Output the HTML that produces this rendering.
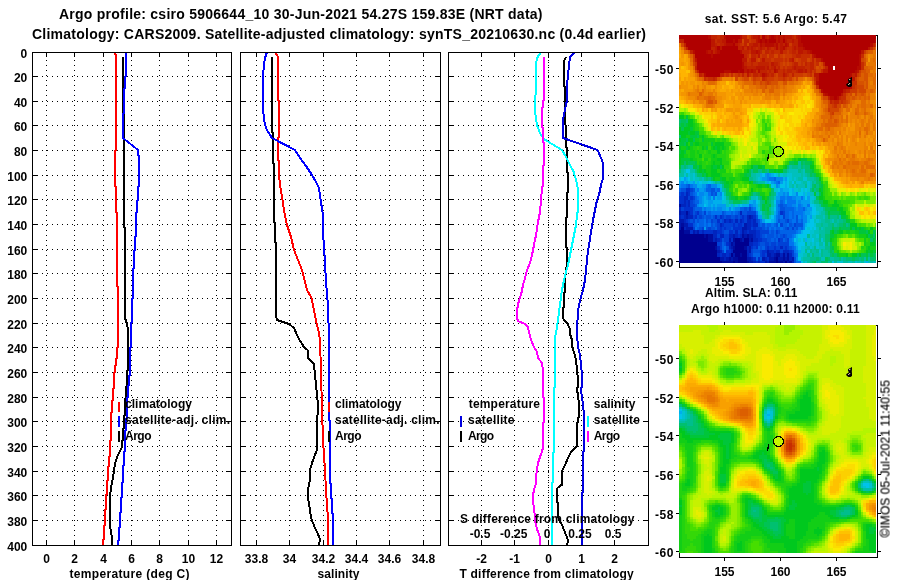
<!DOCTYPE html>
<html><head><meta charset="utf-8"><title>Argo profile</title>
<style>html,body{margin:0;padding:0;background:#fff}svg{display:block}text{font-family:"Liberation Sans",sans-serif;font-weight:bold;font-size:12px;fill:#000}</style></head><body>
<svg width="900" height="580" viewBox="0 0 900 580">
<rect width="900" height="580" fill="#fff"/>
<g stroke="#000" stroke-width="1" stroke-dasharray="1 4" shape-rendering="crispEdges" fill="none"><path d="M32 76.5H232"/><path d="M32 101.5H232"/><path d="M32 125.5H232"/><path d="M32 150.5H232"/><path d="M32 175.5H232"/><path d="M32 199.5H232"/><path d="M32 224.5H232"/><path d="M32 249.5H232"/><path d="M32 273.5H232"/><path d="M32 298.5H232"/><path d="M32 323.5H232"/><path d="M32 347.5H232"/><path d="M32 372.5H232"/><path d="M32 397.5H232"/><path d="M32 421.5H232"/><path d="M32 446.5H232"/><path d="M32 471.5H232"/><path d="M32 495.5H232"/><path d="M32 520.5H232"/><path d="M46.5 546V52"/><path d="M74.5 546V52"/><path d="M103.5 546V52"/><path d="M131.5 546V52"/><path d="M159.5 546V52"/><path d="M188.5 546V52"/><path d="M216.5 546V52"/></g><g stroke="#000" stroke-width="1" shape-rendering="crispEdges" fill="none"><rect x="32.5" y="52.5" width="199" height="493"/><path d="M32 76.5h6M232 76.5h-6M32 101.5h6M232 101.5h-6M32 125.5h6M232 125.5h-6M32 150.5h6M232 150.5h-6M32 175.5h6M232 175.5h-6M32 199.5h6M232 199.5h-6M32 224.5h6M232 224.5h-6M32 249.5h6M232 249.5h-6M32 273.5h6M232 273.5h-6M32 298.5h6M232 298.5h-6M32 323.5h6M232 323.5h-6M32 347.5h6M232 347.5h-6M32 372.5h6M232 372.5h-6M32 397.5h6M232 397.5h-6M32 421.5h6M232 421.5h-6M32 446.5h6M232 446.5h-6M32 471.5h6M232 471.5h-6M32 495.5h6M232 495.5h-6M32 520.5h6M232 520.5h-6M46.5 52v5M46.5 546v-5M74.5 52v5M74.5 546v-5M103.5 52v5M103.5 546v-5M131.5 52v5M131.5 546v-5M159.5 52v5M159.5 546v-5M188.5 52v5M188.5 546v-5M216.5 52v5M216.5 546v-5"/></g>
<g stroke="#000" stroke-width="1" stroke-dasharray="1 4" shape-rendering="crispEdges" fill="none"><path d="M240 76.5H441"/><path d="M240 101.5H441"/><path d="M240 125.5H441"/><path d="M240 150.5H441"/><path d="M240 175.5H441"/><path d="M240 199.5H441"/><path d="M240 224.5H441"/><path d="M240 249.5H441"/><path d="M240 273.5H441"/><path d="M240 298.5H441"/><path d="M240 323.5H441"/><path d="M240 347.5H441"/><path d="M240 372.5H441"/><path d="M240 397.5H441"/><path d="M240 421.5H441"/><path d="M240 446.5H441"/><path d="M240 471.5H441"/><path d="M240 495.5H441"/><path d="M240 520.5H441"/><path d="M256.5 546V52"/><path d="M289.5 546V52"/><path d="M323.5 546V52"/><path d="M356.5 546V52"/><path d="M389.5 546V52"/><path d="M423.5 546V52"/></g><g stroke="#000" stroke-width="1" shape-rendering="crispEdges" fill="none"><rect x="240.5" y="52.5" width="200" height="493"/><path d="M240 76.5h6M441 76.5h-6M240 101.5h6M441 101.5h-6M240 125.5h6M441 125.5h-6M240 150.5h6M441 150.5h-6M240 175.5h6M441 175.5h-6M240 199.5h6M441 199.5h-6M240 224.5h6M441 224.5h-6M240 249.5h6M441 249.5h-6M240 273.5h6M441 273.5h-6M240 298.5h6M441 298.5h-6M240 323.5h6M441 323.5h-6M240 347.5h6M441 347.5h-6M240 372.5h6M441 372.5h-6M240 397.5h6M441 397.5h-6M240 421.5h6M441 421.5h-6M240 446.5h6M441 446.5h-6M240 471.5h6M441 471.5h-6M240 495.5h6M441 495.5h-6M240 520.5h6M441 520.5h-6M256.5 52v5M256.5 546v-5M289.5 52v5M289.5 546v-5M323.5 52v5M323.5 546v-5M356.5 52v5M356.5 546v-5M389.5 52v5M389.5 546v-5M423.5 52v5M423.5 546v-5"/></g>
<g stroke="#000" stroke-width="1" stroke-dasharray="1 4" shape-rendering="crispEdges" fill="none"><path d="M448 76.5H649"/><path d="M448 101.5H649"/><path d="M448 125.5H649"/><path d="M448 150.5H649"/><path d="M448 175.5H649"/><path d="M448 199.5H649"/><path d="M448 224.5H649"/><path d="M448 249.5H649"/><path d="M448 273.5H649"/><path d="M448 298.5H649"/><path d="M448 323.5H649"/><path d="M448 347.5H649"/><path d="M448 372.5H649"/><path d="M448 397.5H649"/><path d="M448 421.5H649"/><path d="M448 446.5H649"/><path d="M448 471.5H649"/><path d="M448 495.5H649"/><path d="M448 520.5H649"/><path d="M481.5 546V52"/><path d="M514.5 546V52"/><path d="M548.5 546V52"/><path d="M581.5 546V52"/><path d="M614.5 546V52"/></g><g stroke="#000" stroke-width="1" shape-rendering="crispEdges" fill="none"><rect x="448.5" y="52.5" width="200" height="493"/><path d="M448 76.5h6M649 76.5h-6M448 101.5h6M649 101.5h-6M448 125.5h6M649 125.5h-6M448 150.5h6M649 150.5h-6M448 175.5h6M649 175.5h-6M448 199.5h6M649 199.5h-6M448 224.5h6M649 224.5h-6M448 249.5h6M649 249.5h-6M448 273.5h6M649 273.5h-6M448 298.5h6M649 298.5h-6M448 323.5h6M649 323.5h-6M448 347.5h6M649 347.5h-6M448 372.5h6M649 372.5h-6M448 397.5h6M649 397.5h-6M448 421.5h6M649 421.5h-6M448 446.5h6M649 446.5h-6M448 471.5h6M649 471.5h-6M448 495.5h6M649 495.5h-6M448 520.5h6M649 520.5h-6M481.5 52v5M481.5 546v-5M514.5 52v5M514.5 546v-5M548.5 52v5M548.5 546v-5M581.5 52v5M581.5 546v-5M614.5 52v5M614.5 546v-5"/></g>
<path d="M123 57 123 113 124 114 124 227 125 228 125 318 127 324 128 330 128 330 128 370 127 371 127 386 126 387 126 398 125 399 125 415 124 416 124 428 123 429 123 440 122 441 122 447 117 457 115 464 114 470 113 478 111 487 110 497 109.5 505 109.5 525 110.5 529 111.5 535 112.5 540 112 546" stroke="#000" stroke-width="2" fill="none" shape-rendering="crispEdges" stroke-linejoin="miter"/>
<path d="M115 52 115 54 116 55 116 150 115 151 115 186 116 187 116 212 117 213 117 286 118 287 118 347 117 348 117 358 116 359 116 365 115 366 115 372 114 373 114 388 113 389 113 400 112 401 112 412 111 413 111 440 110 441 110 456 109 457 109 466 108 467 108 480 107 481 107 494 106 495 106 509 105 510 105 525 104 526 104 539 103 540 103 546" stroke="#ff0000" stroke-width="2" fill="none" shape-rendering="crispEdges" stroke-linejoin="miter"/>
<path d="M126 52 126 76 125 77 125 88 124 89 124 113 123 114 123 138 138 150 138 150 138 155 139 156 139 186 138 187 138 200 137 201 137 212 136 213 136 236 135 237 135 250 134 251 134 268 133 269 133 298 132 299 132 322 131 323 131 347 130 348 130 375 129 376 129 385 128 386 128 397 127 398 127 418 126 419 126 430 125 431 125 451 124 452 124 465 123 466 123 482 122 483 122 497 121 498 121 512 120 513 120 527 119 528 119 540 118 541 118 546" stroke="#0000ff" stroke-width="2" fill="none" shape-rendering="crispEdges" stroke-linejoin="miter"/>
<path d="M272 57 272 132 273 133 273 163 274 164 274 222 275 223 275 242 276 243 276 315 277 320 289 324 294 328 296.5 334 299.5 340 304 347 307.5 350 308 358 314 364 315 375 316.5 390 317.5 400 317.5 415 316.5 425 317 435 317 450 314.5 456 312 463 310 470 310 480 308.5 487 307.5 492 307.5 497 309 503 310 510 311 518 313 523 315 528 317.5 533 319.5 538 319.5 542 319 546" stroke="#000" stroke-width="2" fill="none" shape-rendering="crispEdges" stroke-linejoin="miter"/>
<path d="M275 52 278 57 278 100 279 101 279 137 278 138 278 160 279 161 279 175 280 185 281 191 282.5 200 284 210 287 225 291 237 294 250 298 260 302 270 304 278 307 290 311.5 298 314 310 316.5 323 319 333 320 340 321 372 322 410 323 440 324 455 325 470 326 490 327 505 328 518 328 546" stroke="#ff0000" stroke-width="2" fill="none" shape-rendering="crispEdges" stroke-linejoin="miter"/>
<path d="M267 52 265 58 264 65 263 75 263 110 264 118 265 125 267 130 270 135 272 138 295 150 300 158 306 166 312 175 316 182 319 188 320 195 321 202 322.5 212 323 225 323 235 324 245 325 265 326 280 327 295 328 305 328 320 329 326 329 420 330 421 330 483 331 484 331 498 332 499 332 513 333 514 333 546" stroke="#0000ff" stroke-width="2" fill="none" shape-rendering="crispEdges" stroke-linejoin="miter"/>
<path d="M548.5 52V546" stroke="#000" stroke-width="1" stroke-dasharray="1 4" shape-rendering="crispEdges"/>
<path d="M566 57 564.5 60 564 65 564 83 565 90 565 108 564.5 112 565 120 566 130 566 145 567 150 567 170 568 175 568 190 567 195 567 215 566 220 566 245 567 250 567 265 566 270 565 280 565 290 564 295 564 305 563 310 563 318 564 320 567.5 324 569.5 328 570 334 572 340 572 347 574 352 576 360 577 370 578 380 578 385 577 390 578 395 579 405 579 415 578 420 577 425 577 446 571 452 568 458 565 465 562.5 470 561.5 480 561.5 485 557.5 488 557 493 557 500 558 505 558 515 559 520 562 525 564 530 566 535 568 540 567 546" stroke="#000" stroke-width="2" fill="none" shape-rendering="crispEdges" stroke-linejoin="miter"/>
<path d="M575 52 570 57 569 65 568 75 567 85 567 100 566 105 564.5 112 563 120 563 138 597.5 150 601 158 603 163 603 178 601 185 599 195 597 200 595 210 593 220 591 232 589 245 587.5 255 586 270 585 280 583 290 581 297 579 305 578 312 577.5 320 577 334 578 347 580 355 581 365 582 375 582 385 581 390 582 397 583 405 584 415 584 450 583 453 583 490 582 495 582 546" stroke="#0000e0" stroke-width="2" fill="none" shape-rendering="crispEdges" stroke-linejoin="miter"/>
<path d="M541 52 537 58 536 65 536 90 535 100 535 110 535.5 115 537 125 540 133 543.75 139 562 150 566 157 570 165 573.75 172 576 180 577.5 187 578 195 578 210 577 215 576 225 574 235 572 245 570 255 568 265 566 272 564 280 562 290 561 297 560 305 559 312 558 320 557 327 556 333 555 337 555 385 554 390 554 450 553 455 553 480 552 485 552 546" stroke="#00ffff" stroke-width="2" fill="none" shape-rendering="crispEdges" stroke-linejoin="miter"/>
<path d="M544 57 544 100 543 101 543 107 542 108 542 127 543 128 543 142 544 143 544 165 543 166 543 185 542 188 541 200 540 212 538 222 536 235 534 245 532 255 530 263 527 270 525 278 523 285 521 295 519 300 517 310 517 318 518 321 525 324 528 327 529 332 531 340 534 347 537 352 538 358 542 363 543 370 543 395 544 400 544 420 543 425 543 447 542 452 540 457 538 463 537 470 536 477 535.5 485 534 490 533 495 533.5 505 534.5 513 535 520 536.5 527 538 532 540 537 540.5 546" stroke="#ff00ff" stroke-width="2" fill="none" shape-rendering="crispEdges" stroke-linejoin="miter"/>
<g stroke="#000" stroke-width="1" shape-rendering="crispEdges" fill="none">
<path d="M32 545.5H232M32 52.5H232"/>
<rect x="32" y="546" width="200" height="3" fill="#fff" stroke="none"/>
<rect x="32" y="49" width="200" height="3" fill="#fff" stroke="none"/>
<path d="M240 545.5H441M240 52.5H441"/>
<rect x="240" y="546" width="201" height="3" fill="#fff" stroke="none"/>
<rect x="240" y="49" width="201" height="3" fill="#fff" stroke="none"/>
<path d="M448 545.5H649M448 52.5H649"/>
<rect x="448" y="546" width="201" height="3" fill="#fff" stroke="none"/>
<rect x="448" y="49" width="201" height="3" fill="#fff" stroke="none"/>
</g>
<path d="M119 402V412" stroke="#ff0000" stroke-width="2" shape-rendering="crispEdges"/>
<path d="M119 416V427" stroke="#0000ff" stroke-width="2" shape-rendering="crispEdges"/>
<path d="M119 431V442" stroke="#000" stroke-width="2" shape-rendering="crispEdges"/>
<path d="M329 402V412" stroke="#ff0000" stroke-width="2" shape-rendering="crispEdges"/>
<path d="M329 431V442" stroke="#000" stroke-width="2" shape-rendering="crispEdges"/>
<path d="M461 416V427" stroke="#0000e0" stroke-width="2" shape-rendering="crispEdges"/>
<path d="M461 431V442" stroke="#000" stroke-width="2" shape-rendering="crispEdges"/>
<path d="M588 416V427" stroke="#00ffff" stroke-width="2" shape-rendering="crispEdges"/>
<path d="M588 431V442" stroke="#ff00ff" stroke-width="2" shape-rendering="crispEdges"/>
<g stroke="#000" stroke-width="1" fill="none" shape-rendering="crispEdges">
<rect x="679.5" y="35.5" width="198" height="232"/>
<path d="M724.5 35v-3M724.5 268v3M780.5 35v-3M780.5 268v3M836.5 35v-3M836.5 268v3M679 68.5h-3M878 68.5h3M679 107.5h-3M878 107.5h3M679 145.5h-3M878 145.5h3M679 184.5h-3M878 184.5h3M679 222.5h-3M878 222.5h3M679 261.5h-3M878 261.5h3"/></g>
<g shape-rendering="crispEdges">
<path fill="#00008f" d="M681.25 226.5h2.3v3.88H681.25zM679 230.33h4.55v3.88H679zM679 234.16h24.8v3.88H679zM706 234.16h2.3v3.88H706zM679 237.99h29.3v3.88H679zM735.25 237.99h4.55v3.88H735.25zM744.25 237.99h4.55v3.88H744.25zM679 241.82h38.3v3.88H679zM735.25 241.82h13.55v3.88H735.25zM679 245.65h36.05v3.88H679zM735.25 245.65h9.05v3.88H735.25zM679 249.48h38.3v3.88H679zM733 249.48h13.55v3.88H733zM679 253.31h38.3v3.88H679zM730.75 253.31h2.3v3.88H730.75zM735.25 253.31h4.55v3.88H735.25zM742 253.31h4.55v3.88H742zM679 257.14h40.55v3.88H679zM737.5 257.14h9.05v3.88H737.5zM775.75 257.14h2.3v3.88H775.75zM679 260.97h42.8v2.08H679zM733 260.97h2.3v2.08H733zM737.5 260.97h9.05v2.08H737.5zM775.75 260.97h2.3v2.08H775.75zM784.75 260.97h2.3v2.08H784.75z"/>
<path fill="#000c9e" d="M679 203.52h2.3v3.88H679zM685.75 211.18h2.3v3.88H685.75zM681.25 222.67h2.3v3.88H681.25zM683.5 230.33h6.8v3.88H683.5zM703.75 234.16h2.3v3.88H703.75zM708.25 234.16h4.55v3.88H708.25zM742 234.16h2.3v3.88H742zM746.5 234.16h2.3v3.88H746.5zM708.25 237.99h4.55v3.88H708.25zM733 237.99h2.3v3.88H733zM739.75 237.99h2.3v3.88H739.75zM751 237.99h2.3v3.88H751zM730.75 241.82h2.3v3.88H730.75zM715 245.65h2.3v3.88H715zM733 245.65h2.3v3.88H733zM744.25 245.65h2.3v3.88H744.25zM739.75 253.31h2.3v3.88H739.75zM775.75 253.31h4.55v3.88H775.75zM782.5 253.31h2.3v3.88H782.5zM787 253.31h2.3v3.88H787zM728.5 257.14h2.3v3.88H728.5zM733 257.14h4.55v3.88H733zM773.5 257.14h2.3v3.88H773.5zM782.5 257.14h2.3v3.88H782.5zM787 257.14h2.3v3.88H787zM721.75 260.97h11.3v2.08H721.75zM735.25 260.97h2.3v2.08H735.25zM746.5 260.97h2.3v2.08H746.5zM769 260.97h6.8v2.08H769zM778 260.97h4.55v2.08H778zM789.25 260.97h2.3v2.08H789.25z"/>
<path fill="#0018ae" d="M679 211.18h2.3v3.88H679zM685.75 215.01h2.3v3.88H685.75zM748.75 215.01h2.3v3.88H748.75zM679 218.84h4.55v3.88H679zM679 222.67h2.3v3.88H679zM683.5 222.67h4.55v3.88H683.5zM744.25 222.67h2.3v3.88H744.25zM679 226.5h2.3v3.88H679zM685.75 226.5h6.8v3.88H685.75zM742 226.5h4.55v3.88H742zM692.5 230.33h2.3v3.88H692.5zM697 230.33h2.3v3.88H697zM742 230.33h2.3v3.88H742zM733 234.16h2.3v3.88H733zM744.25 234.16h2.3v3.88H744.25zM748.75 234.16h4.55v3.88H748.75zM715 237.99h2.3v3.88H715zM728.5 237.99h2.3v3.88H728.5zM742 237.99h2.3v3.88H742zM748.75 237.99h2.3v3.88H748.75zM733 241.82h2.3v3.88H733zM730.75 245.65h2.3v3.88H730.75zM748.75 245.65h2.3v3.88H748.75zM717.25 249.48h2.3v3.88H717.25zM748.75 249.48h2.3v3.88H748.75zM766.75 249.48h2.3v3.88H766.75zM733 253.31h2.3v3.88H733zM766.75 253.31h4.55v3.88H766.75zM773.5 253.31h2.3v3.88H773.5zM719.5 257.14h4.55v3.88H719.5zM726.25 257.14h2.3v3.88H726.25zM730.75 257.14h2.3v3.88H730.75zM746.5 257.14h4.55v3.88H746.5zM762.25 257.14h2.3v3.88H762.25zM769 257.14h4.55v3.88H769zM778 257.14h4.55v3.88H778zM784.75 257.14h2.3v3.88H784.75zM791.5 257.14h2.3v3.88H791.5zM748.75 260.97h4.55v2.08H748.75zM764.5 260.97h2.3v2.08H764.5zM782.5 260.97h2.3v2.08H782.5zM787 260.97h2.3v2.08H787z"/>
<path fill="#0024be" d="M685.75 192.03h2.3v3.88H685.75zM683.5 195.86h4.55v3.88H683.5zM683.5 199.69h2.3v3.88H683.5zM688 199.69h2.3v3.88H688zM681.25 203.52h4.55v3.88H681.25zM688 203.52h2.3v3.88H688zM679 207.35h2.3v3.88H679zM681.25 211.18h4.55v3.88H681.25zM688 211.18h2.3v3.88H688zM739.75 211.18h2.3v3.88H739.75zM679 215.01h2.3v3.88H679zM683.5 215.01h2.3v3.88H683.5zM688 215.01h4.55v3.88H688zM746.5 215.01h2.3v3.88H746.5zM751 215.01h2.3v3.88H751zM683.5 218.84h2.3v3.88H683.5zM724 218.84h2.3v3.88H724zM728.5 218.84h2.3v3.88H728.5zM735.25 218.84h2.3v3.88H735.25zM739.75 218.84h2.3v3.88H739.75zM746.5 218.84h4.55v3.88H746.5zM753.25 218.84h2.3v3.88H753.25zM719.5 222.67h2.3v3.88H719.5zM746.5 222.67h4.55v3.88H746.5zM753.25 222.67h4.55v3.88H753.25zM683.5 226.5h2.3v3.88H683.5zM746.5 226.5h4.55v3.88H746.5zM694.75 230.33h2.3v3.88H694.75zM701.5 230.33h2.3v3.88H701.5zM712.75 230.33h4.55v3.88H712.75zM735.25 230.33h2.3v3.88H735.25zM744.25 230.33h2.3v3.88H744.25zM748.75 230.33h6.8v3.88H748.75zM712.75 234.16h4.55v3.88H712.75zM719.5 234.16h4.55v3.88H719.5zM728.5 234.16h4.55v3.88H728.5zM735.25 234.16h2.3v3.88H735.25zM739.75 234.16h2.3v3.88H739.75zM753.25 234.16h2.3v3.88H753.25zM712.75 237.99h2.3v3.88H712.75zM717.25 237.99h2.3v3.88H717.25zM753.25 237.99h4.55v3.88H753.25zM728.5 241.82h2.3v3.88H728.5zM748.75 241.82h4.55v3.88H748.75zM717.25 245.65h2.3v3.88H717.25zM728.5 245.65h2.3v3.88H728.5zM746.5 245.65h2.3v3.88H746.5zM780.25 245.65h2.3v3.88H780.25zM719.5 249.48h2.3v3.88H719.5zM730.75 249.48h2.3v3.88H730.75zM746.5 249.48h2.3v3.88H746.5zM769 249.48h4.55v3.88H769zM775.75 249.48h4.55v3.88H775.75zM782.5 249.48h6.8v3.88H782.5zM717.25 253.31h2.3v3.88H717.25zM721.75 253.31h4.55v3.88H721.75zM728.5 253.31h2.3v3.88H728.5zM746.5 253.31h2.3v3.88H746.5zM771.25 253.31h2.3v3.88H771.25zM780.25 253.31h2.3v3.88H780.25zM784.75 253.31h2.3v3.88H784.75zM789.25 253.31h2.3v3.88H789.25zM724 257.14h2.3v3.88H724zM751 257.14h2.3v3.88H751zM764.5 257.14h2.3v3.88H764.5zM789.25 257.14h2.3v3.88H789.25zM753.25 260.97h2.3v2.08H753.25zM757.75 260.97h2.3v2.08H757.75zM766.75 260.97h2.3v2.08H766.75zM791.5 260.97h2.3v2.08H791.5z"/>
<path fill="#0030cd" d="M685.75 188.2h4.55v3.88H685.75zM681.25 192.03h2.3v3.88H681.25zM688 192.03h2.3v3.88H688zM679 195.86h4.55v3.88H679zM690.25 195.86h2.3v3.88H690.25zM679 199.69h4.55v3.88H679zM685.75 199.69h2.3v3.88H685.75zM685.75 203.52h2.3v3.88H685.75zM683.5 207.35h9.05v3.88H683.5zM690.25 211.18h2.3v3.88H690.25zM697 211.18h2.3v3.88H697zM780.25 211.18h2.3v3.88H780.25zM681.25 215.01h2.3v3.88H681.25zM694.75 215.01h2.3v3.88H694.75zM715 215.01h2.3v3.88H715zM719.5 215.01h2.3v3.88H719.5zM742 215.01h2.3v3.88H742zM753.25 215.01h2.3v3.88H753.25zM685.75 218.84h2.3v3.88H685.75zM717.25 218.84h2.3v3.88H717.25zM726.25 218.84h2.3v3.88H726.25zM730.75 218.84h2.3v3.88H730.75zM742 218.84h2.3v3.88H742zM751 218.84h2.3v3.88H751zM688 222.67h4.55v3.88H688zM721.75 222.67h2.3v3.88H721.75zM733 222.67h2.3v3.88H733zM737.5 222.67h4.55v3.88H737.5zM751 222.67h2.3v3.88H751zM719.5 226.5h2.3v3.88H719.5zM724 226.5h2.3v3.88H724zM733 226.5h9.05v3.88H733zM753.25 226.5h2.3v3.88H753.25zM690.25 230.33h2.3v3.88H690.25zM699.25 230.33h2.3v3.88H699.25zM703.75 230.33h9.05v3.88H703.75zM717.25 230.33h4.55v3.88H717.25zM728.5 230.33h4.55v3.88H728.5zM739.75 230.33h2.3v3.88H739.75zM746.5 230.33h2.3v3.88H746.5zM755.5 230.33h4.55v3.88H755.5zM737.5 234.16h2.3v3.88H737.5zM755.5 234.16h4.55v3.88H755.5zM719.5 237.99h2.3v3.88H719.5zM730.75 237.99h2.3v3.88H730.75zM757.75 237.99h4.55v3.88H757.75zM778 237.99h2.3v3.88H778zM726.25 241.82h2.3v3.88H726.25zM753.25 241.82h4.55v3.88H753.25zM751 245.65h2.3v3.88H751zM755.5 245.65h2.3v3.88H755.5zM766.75 245.65h2.3v3.88H766.75zM773.5 245.65h2.3v3.88H773.5zM784.75 245.65h2.3v3.88H784.75zM726.25 249.48h4.55v3.88H726.25zM762.25 249.48h4.55v3.88H762.25zM773.5 249.48h2.3v3.88H773.5zM789.25 249.48h2.3v3.88H789.25zM719.5 253.31h2.3v3.88H719.5zM726.25 253.31h2.3v3.88H726.25zM748.75 253.31h2.3v3.88H748.75zM762.25 253.31h2.3v3.88H762.25zM753.25 257.14h2.3v3.88H753.25zM757.75 257.14h2.3v3.88H757.75zM766.75 257.14h2.3v3.88H766.75zM755.5 260.97h2.3v2.08H755.5zM760 260.97h4.55v2.08H760z"/>
<path fill="#0041d6" d="M690.25 188.2h2.3v3.88H690.25zM679 192.03h2.3v3.88H679zM683.5 192.03h2.3v3.88H683.5zM688 195.86h2.3v3.88H688zM692.5 195.86h2.3v3.88H692.5zM690.25 199.69h2.3v3.88H690.25zM690.25 203.52h4.55v3.88H690.25zM681.25 207.35h2.3v3.88H681.25zM748.75 207.35h2.3v3.88H748.75zM694.75 211.18h2.3v3.88H694.75zM703.75 211.18h2.3v3.88H703.75zM746.5 211.18h9.05v3.88H746.5zM782.5 211.18h2.3v3.88H782.5zM692.5 215.01h2.3v3.88H692.5zM699.25 215.01h2.3v3.88H699.25zM721.75 215.01h2.3v3.88H721.75zM726.25 215.01h4.55v3.88H726.25zM735.25 215.01h2.3v3.88H735.25zM739.75 215.01h2.3v3.88H739.75zM744.25 215.01h2.3v3.88H744.25zM782.5 215.01h2.3v3.88H782.5zM688 218.84h2.3v3.88H688zM692.5 218.84h2.3v3.88H692.5zM710.5 218.84h2.3v3.88H710.5zM721.75 218.84h2.3v3.88H721.75zM733 218.84h2.3v3.88H733zM737.5 218.84h2.3v3.88H737.5zM744.25 218.84h2.3v3.88H744.25zM755.5 218.84h2.3v3.88H755.5zM787 218.84h2.3v3.88H787zM717.25 222.67h2.3v3.88H717.25zM724 222.67h9.05v3.88H724zM735.25 222.67h2.3v3.88H735.25zM742 222.67h2.3v3.88H742zM780.25 222.67h2.3v3.88H780.25zM793.75 222.67h2.3v3.88H793.75zM692.5 226.5h2.3v3.88H692.5zM701.5 226.5h2.3v3.88H701.5zM708.25 226.5h2.3v3.88H708.25zM717.25 226.5h2.3v3.88H717.25zM721.75 226.5h2.3v3.88H721.75zM726.25 226.5h4.55v3.88H726.25zM751 226.5h2.3v3.88H751zM755.5 226.5h6.8v3.88H755.5zM787 226.5h2.3v3.88H787zM791.5 226.5h2.3v3.88H791.5zM721.75 230.33h2.3v3.88H721.75zM733 230.33h2.3v3.88H733zM737.5 230.33h2.3v3.88H737.5zM760 230.33h9.05v3.88H760zM775.75 230.33h2.3v3.88H775.75zM717.25 234.16h2.3v3.88H717.25zM724 234.16h4.55v3.88H724zM760 234.16h2.3v3.88H760zM782.5 234.16h2.3v3.88H782.5zM724 237.99h4.55v3.88H724zM762.25 237.99h4.55v3.88H762.25zM780.25 237.99h2.3v3.88H780.25zM787 237.99h2.3v3.88H787zM717.25 241.82h4.55v3.88H717.25zM757.75 241.82h2.3v3.88H757.75zM764.5 241.82h4.55v3.88H764.5zM771.25 241.82h4.55v3.88H771.25zM778 241.82h11.3v3.88H778zM719.5 245.65h2.3v3.88H719.5zM753.25 245.65h2.3v3.88H753.25zM764.5 245.65h2.3v3.88H764.5zM769 245.65h4.55v3.88H769zM775.75 245.65h4.55v3.88H775.75zM782.5 245.65h2.3v3.88H782.5zM787 245.65h2.3v3.88H787zM721.75 249.48h2.3v3.88H721.75zM751 249.48h2.3v3.88H751zM760 249.48h2.3v3.88H760zM780.25 249.48h2.3v3.88H780.25zM791.5 249.48h2.3v3.88H791.5zM751 253.31h2.3v3.88H751zM760 253.31h2.3v3.88H760zM764.5 253.31h2.3v3.88H764.5zM791.5 253.31h2.3v3.88H791.5z"/>
<path fill="#0052de" d="M688 184.37h2.3v3.88H688zM681.25 188.2h4.55v3.88H681.25zM692.5 188.2h2.3v3.88H692.5zM710.5 188.2h4.55v3.88H710.5zM690.25 192.03h2.3v3.88H690.25zM710.5 192.03h2.3v3.88H710.5zM715 192.03h2.3v3.88H715zM692.5 199.69h2.3v3.88H692.5zM694.75 203.52h2.3v3.88H694.75zM780.25 203.52h2.3v3.88H780.25zM692.5 207.35h2.3v3.88H692.5zM744.25 207.35h2.3v3.88H744.25zM780.25 207.35h4.55v3.88H780.25zM692.5 211.18h2.3v3.88H692.5zM699.25 211.18h2.3v3.88H699.25zM721.75 211.18h2.3v3.88H721.75zM737.5 211.18h2.3v3.88H737.5zM742 211.18h4.55v3.88H742zM697 215.01h2.3v3.88H697zM701.5 215.01h2.3v3.88H701.5zM706 215.01h4.55v3.88H706zM712.75 215.01h2.3v3.88H712.75zM717.25 215.01h2.3v3.88H717.25zM724 215.01h2.3v3.88H724zM730.75 215.01h4.55v3.88H730.75zM737.5 215.01h2.3v3.88H737.5zM755.5 215.01h2.3v3.88H755.5zM796 215.01h2.3v3.88H796zM690.25 218.84h2.3v3.88H690.25zM697 218.84h2.3v3.88H697zM706 218.84h2.3v3.88H706zM712.75 218.84h4.55v3.88H712.75zM719.5 218.84h2.3v3.88H719.5zM757.75 218.84h2.3v3.88H757.75zM778 218.84h2.3v3.88H778zM784.75 218.84h2.3v3.88H784.75zM796 218.84h2.3v3.88H796zM692.5 222.67h2.3v3.88H692.5zM710.5 222.67h2.3v3.88H710.5zM715 222.67h2.3v3.88H715zM757.75 222.67h2.3v3.88H757.75zM762.25 222.67h2.3v3.88H762.25zM775.75 222.67h2.3v3.88H775.75zM789.25 222.67h2.3v3.88H789.25zM796 222.67h6.8v3.88H796zM699.25 226.5h2.3v3.88H699.25zM706 226.5h2.3v3.88H706zM710.5 226.5h4.55v3.88H710.5zM730.75 226.5h2.3v3.88H730.75zM762.25 226.5h2.3v3.88H762.25zM766.75 226.5h2.3v3.88H766.75zM784.75 226.5h2.3v3.88H784.75zM796 226.5h2.3v3.88H796zM724 230.33h4.55v3.88H724zM771.25 230.33h2.3v3.88H771.25zM778 230.33h2.3v3.88H778zM762.25 234.16h2.3v3.88H762.25zM766.75 234.16h6.8v3.88H766.75zM775.75 234.16h2.3v3.88H775.75zM780.25 234.16h2.3v3.88H780.25zM784.75 234.16h2.3v3.88H784.75zM721.75 237.99h2.3v3.88H721.75zM766.75 237.99h4.55v3.88H766.75zM773.5 237.99h2.3v3.88H773.5zM784.75 237.99h2.3v3.88H784.75zM724 241.82h2.3v3.88H724zM760 241.82h4.55v3.88H760zM769 241.82h2.3v3.88H769zM775.75 241.82h2.3v3.88H775.75zM726.25 245.65h2.3v3.88H726.25zM760 245.65h2.3v3.88H760zM789.25 245.65h2.3v3.88H789.25zM753.25 249.48h6.8v3.88H753.25zM760 257.14h2.3v3.88H760zM793.75 257.14h2.3v3.88H793.75zM793.75 260.97h2.3v2.08H793.75z"/>
<path fill="#0062e7" d="M773.5 176.71h2.3v3.88H773.5zM778 180.54h2.3v3.88H778zM685.75 184.37h2.3v3.88H685.75zM708.25 184.37h2.3v3.88H708.25zM679 188.2h2.3v3.88H679zM706 188.2h4.55v3.88H706zM717.25 188.2h2.3v3.88H717.25zM692.5 192.03h2.3v3.88H692.5zM712.75 192.03h2.3v3.88H712.75zM694.75 195.86h2.3v3.88H694.75zM694.75 199.69h4.55v3.88H694.75zM780.25 199.69h2.3v3.88H780.25zM778 203.52h2.3v3.88H778zM782.5 203.52h4.55v3.88H782.5zM694.75 207.35h6.8v3.88H694.75zM739.75 207.35h4.55v3.88H739.75zM746.5 207.35h2.3v3.88H746.5zM751 207.35h2.3v3.88H751zM784.75 207.35h9.05v3.88H784.75zM802.75 207.35h2.3v3.88H802.75zM701.5 211.18h2.3v3.88H701.5zM708.25 211.18h2.3v3.88H708.25zM724 211.18h2.3v3.88H724zM730.75 211.18h2.3v3.88H730.75zM735.25 211.18h2.3v3.88H735.25zM778 211.18h2.3v3.88H778zM784.75 211.18h4.55v3.88H784.75zM791.5 211.18h2.3v3.88H791.5zM703.75 215.01h2.3v3.88H703.75zM710.5 215.01h2.3v3.88H710.5zM778 215.01h2.3v3.88H778zM784.75 215.01h4.55v3.88H784.75zM791.5 215.01h2.3v3.88H791.5zM694.75 218.84h2.3v3.88H694.75zM699.25 218.84h4.55v3.88H699.25zM708.25 218.84h2.3v3.88H708.25zM780.25 218.84h4.55v3.88H780.25zM789.25 218.84h2.3v3.88H789.25zM800.5 218.84h2.3v3.88H800.5zM694.75 222.67h2.3v3.88H694.75zM699.25 222.67h4.55v3.88H699.25zM706 222.67h2.3v3.88H706zM712.75 222.67h2.3v3.88H712.75zM760 222.67h2.3v3.88H760zM766.75 222.67h4.55v3.88H766.75zM773.5 222.67h2.3v3.88H773.5zM782.5 222.67h4.55v3.88H782.5zM791.5 222.67h2.3v3.88H791.5zM697 226.5h2.3v3.88H697zM715 226.5h2.3v3.88H715zM764.5 226.5h2.3v3.88H764.5zM771.25 226.5h2.3v3.88H771.25zM775.75 226.5h4.55v3.88H775.75zM782.5 226.5h2.3v3.88H782.5zM789.25 226.5h2.3v3.88H789.25zM793.75 226.5h2.3v3.88H793.75zM800.5 226.5h2.3v3.88H800.5zM769 230.33h2.3v3.88H769zM773.5 230.33h2.3v3.88H773.5zM780.25 230.33h15.8v3.88H780.25zM764.5 234.16h2.3v3.88H764.5zM773.5 234.16h2.3v3.88H773.5zM778 234.16h2.3v3.88H778zM787 234.16h4.55v3.88H787zM771.25 237.99h2.3v3.88H771.25zM775.75 237.99h2.3v3.88H775.75zM782.5 237.99h2.3v3.88H782.5zM721.75 241.82h2.3v3.88H721.75zM721.75 245.65h2.3v3.88H721.75zM757.75 245.65h2.3v3.88H757.75zM762.25 245.65h2.3v3.88H762.25zM791.5 245.65h2.3v3.88H791.5zM753.25 253.31h6.8v3.88H753.25zM793.75 253.31h2.3v3.88H793.75zM755.5 257.14h2.3v3.88H755.5z"/>
<path fill="#0073f0" d="M769 176.71h4.55v3.88H769zM775.75 180.54h2.3v3.88H775.75zM681.25 184.37h4.55v3.88H681.25zM690.25 184.37h2.3v3.88H690.25zM706 184.37h2.3v3.88H706zM697 188.2h2.3v3.88H697zM715 188.2h2.3v3.88H715zM694.75 192.03h2.3v3.88H694.75zM708.25 192.03h2.3v3.88H708.25zM697 195.86h2.3v3.88H697zM712.75 195.86h2.3v3.88H712.75zM780.25 195.86h4.55v3.88H780.25zM787 195.86h4.55v3.88H787zM800.5 195.86h2.3v3.88H800.5zM782.5 199.69h2.3v3.88H782.5zM787 199.69h9.05v3.88H787zM748.75 203.52h2.3v3.88H748.75zM787 203.52h4.55v3.88H787zM798.25 203.52h2.3v3.88H798.25zM807.25 203.52h2.3v3.88H807.25zM703.75 207.35h2.3v3.88H703.75zM753.25 207.35h2.3v3.88H753.25zM778 207.35h2.3v3.88H778zM793.75 207.35h2.3v3.88H793.75zM798.25 207.35h4.55v3.88H798.25zM706 211.18h2.3v3.88H706zM710.5 211.18h11.3v3.88H710.5zM726.25 211.18h4.55v3.88H726.25zM733 211.18h2.3v3.88H733zM755.5 211.18h2.3v3.88H755.5zM789.25 211.18h2.3v3.88H789.25zM793.75 211.18h9.05v3.88H793.75zM775.75 215.01h2.3v3.88H775.75zM780.25 215.01h2.3v3.88H780.25zM789.25 215.01h2.3v3.88H789.25zM793.75 215.01h2.3v3.88H793.75zM800.5 215.01h2.3v3.88H800.5zM703.75 218.84h2.3v3.88H703.75zM760 218.84h2.3v3.88H760zM775.75 218.84h2.3v3.88H775.75zM791.5 218.84h4.55v3.88H791.5zM798.25 218.84h2.3v3.88H798.25zM697 222.67h2.3v3.88H697zM703.75 222.67h2.3v3.88H703.75zM708.25 222.67h2.3v3.88H708.25zM764.5 222.67h2.3v3.88H764.5zM771.25 222.67h2.3v3.88H771.25zM787 222.67h2.3v3.88H787zM694.75 226.5h2.3v3.88H694.75zM769 226.5h2.3v3.88H769zM773.5 226.5h2.3v3.88H773.5zM780.25 226.5h2.3v3.88H780.25zM798.25 226.5h2.3v3.88H798.25zM796 230.33h2.3v3.88H796zM791.5 234.16h2.3v3.88H791.5zM789.25 237.99h2.3v3.88H789.25zM789.25 241.82h4.55v3.88H789.25zM724 245.65h2.3v3.88H724zM793.75 245.65h2.3v3.88H793.75zM724 249.48h2.3v3.88H724zM793.75 249.48h2.3v3.88H793.75zM796 253.31h2.3v3.88H796zM796 260.97h4.55v2.08H796z"/>
<path fill="#0087ef" d="M766.75 172.88h2.3v3.88H766.75zM766.75 176.71h2.3v3.88H766.75zM775.75 176.71h6.8v3.88H775.75zM681.25 180.54h2.3v3.88H681.25zM773.5 180.54h2.3v3.88H773.5zM679 184.37h2.3v3.88H679zM692.5 184.37h4.55v3.88H692.5zM710.5 184.37h6.8v3.88H710.5zM775.75 184.37h2.3v3.88H775.75zM694.75 188.2h2.3v3.88H694.75zM703.75 188.2h2.3v3.88H703.75zM699.25 192.03h4.55v3.88H699.25zM719.5 192.03h2.3v3.88H719.5zM782.5 192.03h2.3v3.88H782.5zM787 192.03h2.3v3.88H787zM796 192.03h2.3v3.88H796zM699.25 195.86h2.3v3.88H699.25zM708.25 195.86h2.3v3.88H708.25zM784.75 195.86h2.3v3.88H784.75zM791.5 195.86h4.55v3.88H791.5zM699.25 199.69h2.3v3.88H699.25zM775.75 199.69h4.55v3.88H775.75zM798.25 199.69h2.3v3.88H798.25zM697 203.52h2.3v3.88H697zM751 203.52h2.3v3.88H751zM775.75 203.52h2.3v3.88H775.75zM791.5 203.52h4.55v3.88H791.5zM800.5 203.52h2.3v3.88H800.5zM701.5 207.35h2.3v3.88H701.5zM706 207.35h4.55v3.88H706zM712.75 207.35h2.3v3.88H712.75zM717.25 207.35h4.55v3.88H717.25zM728.5 207.35h2.3v3.88H728.5zM735.25 207.35h4.55v3.88H735.25zM775.75 207.35h2.3v3.88H775.75zM796 207.35h2.3v3.88H796zM805 207.35h2.3v3.88H805zM775.75 211.18h2.3v3.88H775.75zM802.75 211.18h2.3v3.88H802.75zM798.25 215.01h2.3v3.88H798.25zM802.75 215.01h4.55v3.88H802.75zM802.75 218.84h4.55v3.88H802.75zM778 222.67h2.3v3.88H778zM802.75 222.67h2.3v3.88H802.75zM802.75 226.5h2.3v3.88H802.75zM798.25 230.33h2.3v3.88H798.25zM793.75 234.16h2.3v3.88H793.75zM791.5 237.99h2.3v3.88H791.5zM796 249.48h2.3v3.88H796zM796 257.14h2.3v3.88H796z"/>
<path fill="#009bee" d="M764.5 172.88h2.3v3.88H764.5zM769 172.88h2.3v3.88H769zM683.5 176.71h2.3v3.88H683.5zM762.25 176.71h4.55v3.88H762.25zM784.75 176.71h2.3v3.88H784.75zM679 180.54h2.3v3.88H679zM685.75 180.54h2.3v3.88H685.75zM692.5 180.54h2.3v3.88H692.5zM771.25 180.54h2.3v3.88H771.25zM780.25 180.54h2.3v3.88H780.25zM701.5 184.37h4.55v3.88H701.5zM778 184.37h2.3v3.88H778zM699.25 188.2h4.55v3.88H699.25zM780.25 188.2h2.3v3.88H780.25zM697 192.03h2.3v3.88H697zM703.75 192.03h4.55v3.88H703.75zM717.25 192.03h2.3v3.88H717.25zM778 192.03h4.55v3.88H778zM784.75 192.03h2.3v3.88H784.75zM701.5 195.86h2.3v3.88H701.5zM706 195.86h2.3v3.88H706zM717.25 195.86h4.55v3.88H717.25zM775.75 195.86h4.55v3.88H775.75zM796 195.86h4.55v3.88H796zM802.75 195.86h2.3v3.88H802.75zM807.25 195.86h2.3v3.88H807.25zM701.5 199.69h2.3v3.88H701.5zM708.25 199.69h4.55v3.88H708.25zM753.25 199.69h2.3v3.88H753.25zM784.75 199.69h2.3v3.88H784.75zM796 199.69h2.3v3.88H796zM800.5 199.69h9.05v3.88H800.5zM699.25 203.52h4.55v3.88H699.25zM708.25 203.52h2.3v3.88H708.25zM712.75 203.52h2.3v3.88H712.75zM717.25 203.52h9.05v3.88H717.25zM753.25 203.52h2.3v3.88H753.25zM796 203.52h2.3v3.88H796zM802.75 203.52h4.55v3.88H802.75zM710.5 207.35h2.3v3.88H710.5zM715 207.35h2.3v3.88H715zM721.75 207.35h4.55v3.88H721.75zM733 207.35h2.3v3.88H733zM807.25 207.35h4.55v3.88H807.25zM805 211.18h4.55v3.88H805zM757.75 215.01h4.55v3.88H757.75zM773.5 215.01h2.3v3.88H773.5zM809.5 215.01h2.3v3.88H809.5zM762.25 218.84h2.3v3.88H762.25zM773.5 218.84h2.3v3.88H773.5zM703.75 226.5h2.3v3.88H703.75zM793.75 241.82h2.3v3.88H793.75zM796 245.65h2.3v3.88H796z"/>
<path fill="#00afec" d="M760 172.88h2.3v3.88H760zM771.25 172.88h2.3v3.88H771.25zM685.75 176.71h2.3v3.88H685.75zM760 176.71h2.3v3.88H760zM782.5 176.71h2.3v3.88H782.5zM683.5 180.54h2.3v3.88H683.5zM688 180.54h4.55v3.88H688zM697 180.54h2.3v3.88H697zM766.75 180.54h2.3v3.88H766.75zM784.75 180.54h2.3v3.88H784.75zM697 184.37h4.55v3.88H697zM717.25 184.37h2.3v3.88H717.25zM784.75 184.37h2.3v3.88H784.75zM719.5 188.2h2.3v3.88H719.5zM782.5 188.2h6.8v3.88H782.5zM791.5 188.2h2.3v3.88H791.5zM775.75 192.03h2.3v3.88H775.75zM791.5 192.03h4.55v3.88H791.5zM802.75 192.03h2.3v3.88H802.75zM807.25 192.03h2.3v3.88H807.25zM703.75 195.86h2.3v3.88H703.75zM710.5 195.86h2.3v3.88H710.5zM715 195.86h2.3v3.88H715zM703.75 199.69h4.55v3.88H703.75zM712.75 199.69h9.05v3.88H712.75zM748.75 199.69h4.55v3.88H748.75zM706 203.52h2.3v3.88H706zM710.5 203.52h2.3v3.88H710.5zM715 203.52h2.3v3.88H715zM730.75 203.52h2.3v3.88H730.75zM737.5 203.52h2.3v3.88H737.5zM742 203.52h6.8v3.88H742zM755.5 203.52h2.3v3.88H755.5zM726.25 207.35h2.3v3.88H726.25zM730.75 207.35h2.3v3.88H730.75zM755.5 207.35h2.3v3.88H755.5zM757.75 211.18h2.3v3.88H757.75zM773.5 211.18h2.3v3.88H773.5zM809.5 211.18h2.3v3.88H809.5zM807.25 215.01h2.3v3.88H807.25zM771.25 218.84h2.3v3.88H771.25zM807.25 218.84h2.3v3.88H807.25zM805 222.67h2.3v3.88H805zM800.5 230.33h2.3v3.88H800.5zM796 234.16h2.3v3.88H796zM796 237.99h2.3v3.88H796zM805 237.99h2.3v3.88H805zM796 241.82h2.3v3.88H796zM798.25 249.48h2.3v3.88H798.25zM865.75 260.97h2.3v2.08H865.75z"/>
<path fill="#00c3eb" d="M685.75 169.05h4.55v3.88H685.75zM762.25 172.88h2.3v3.88H762.25zM773.5 172.88h2.3v3.88H773.5zM681.25 176.71h2.3v3.88H681.25zM688 176.71h2.3v3.88H688zM787 176.71h2.3v3.88H787zM699.25 180.54h2.3v3.88H699.25zM708.25 180.54h2.3v3.88H708.25zM769 180.54h2.3v3.88H769zM782.5 180.54h2.3v3.88H782.5zM787 180.54h2.3v3.88H787zM791.5 180.54h2.3v3.88H791.5zM771.25 184.37h2.3v3.88H771.25zM780.25 184.37h4.55v3.88H780.25zM787 184.37h2.3v3.88H787zM778 188.2h2.3v3.88H778zM789.25 188.2h2.3v3.88H789.25zM800.5 188.2h2.3v3.88H800.5zM805 188.2h2.3v3.88H805zM721.75 192.03h2.3v3.88H721.75zM789.25 192.03h2.3v3.88H789.25zM798.25 192.03h4.55v3.88H798.25zM721.75 195.86h2.3v3.88H721.75zM805 195.86h2.3v3.88H805zM755.5 199.69h2.3v3.88H755.5zM773.5 199.69h2.3v3.88H773.5zM703.75 203.52h2.3v3.88H703.75zM739.75 203.52h2.3v3.88H739.75zM809.5 203.52h4.55v3.88H809.5zM773.5 207.35h2.3v3.88H773.5zM811.75 207.35h4.55v3.88H811.75zM811.75 211.18h4.55v3.88H811.75zM771.25 215.01h2.3v3.88H771.25zM764.5 218.84h6.8v3.88H764.5zM809.5 218.84h4.55v3.88H809.5zM807.25 222.67h6.8v3.88H807.25zM805 226.5h2.3v3.88H805zM809.5 226.5h2.3v3.88H809.5zM814 226.5h2.3v3.88H814zM802.75 230.33h6.8v3.88H802.75zM798.25 234.16h9.05v3.88H798.25zM793.75 237.99h2.3v3.88H793.75zM800.5 237.99h2.3v3.88H800.5zM811.75 237.99h2.3v3.88H811.75zM798.25 241.82h6.8v3.88H798.25zM798.25 245.65h2.3v3.88H798.25zM798.25 257.14h2.3v3.88H798.25zM800.5 260.97h2.3v2.08H800.5zM832 260.97h2.3v2.08H832z"/>
<path fill="#00c2d3" d="M683.5 172.88h2.3v3.88H683.5zM688 172.88h2.3v3.88H688zM692.5 172.88h2.3v3.88H692.5zM775.75 172.88h2.3v3.88H775.75zM780.25 172.88h2.3v3.88H780.25zM787 172.88h4.55v3.88H787zM679 176.71h2.3v3.88H679zM692.5 176.71h2.3v3.88H692.5zM757.75 176.71h2.3v3.88H757.75zM789.25 176.71h2.3v3.88H789.25zM793.75 176.71h2.3v3.88H793.75zM802.75 176.71h4.55v3.88H802.75zM694.75 180.54h2.3v3.88H694.75zM701.5 180.54h6.8v3.88H701.5zM710.5 180.54h2.3v3.88H710.5zM764.5 180.54h2.3v3.88H764.5zM796 180.54h4.55v3.88H796zM807.25 180.54h2.3v3.88H807.25zM719.5 184.37h2.3v3.88H719.5zM773.5 184.37h2.3v3.88H773.5zM793.75 184.37h2.3v3.88H793.75zM807.25 184.37h2.3v3.88H807.25zM773.5 188.2h4.55v3.88H773.5zM793.75 188.2h4.55v3.88H793.75zM802.75 188.2h2.3v3.88H802.75zM807.25 188.2h2.3v3.88H807.25zM805 192.03h2.3v3.88H805zM724 195.86h2.3v3.88H724zM755.5 195.86h2.3v3.88H755.5zM809.5 195.86h4.55v3.88H809.5zM721.75 199.69h4.55v3.88H721.75zM757.75 199.69h2.3v3.88H757.75zM809.5 199.69h2.3v3.88H809.5zM728.5 203.52h2.3v3.88H728.5zM735.25 203.52h2.3v3.88H735.25zM773.5 203.52h2.3v3.88H773.5zM814 203.52h2.3v3.88H814zM757.75 207.35h2.3v3.88H757.75zM760 211.18h2.3v3.88H760zM816.25 211.18h2.3v3.88H816.25zM811.75 215.01h4.55v3.88H811.75zM816.25 218.84h2.3v3.88H816.25zM814 222.67h2.3v3.88H814zM807.25 226.5h2.3v3.88H807.25zM811.75 226.5h2.3v3.88H811.75zM809.5 230.33h4.55v3.88H809.5zM809.5 234.16h2.3v3.88H809.5zM816.25 234.16h2.3v3.88H816.25zM798.25 237.99h2.3v3.88H798.25zM807.25 237.99h4.55v3.88H807.25zM820.75 237.99h2.3v3.88H820.75zM807.25 241.82h2.3v3.88H807.25zM811.75 241.82h2.3v3.88H811.75zM816.25 241.82h2.3v3.88H816.25zM823 241.82h2.3v3.88H823zM800.5 245.65h4.55v3.88H800.5zM809.5 245.65h2.3v3.88H809.5zM816.25 245.65h2.3v3.88H816.25zM800.5 249.48h4.55v3.88H800.5zM807.25 249.48h2.3v3.88H807.25zM818.5 249.48h2.3v3.88H818.5zM798.25 253.31h4.55v3.88H798.25zM805 260.97h2.3v2.08H805zM836.5 260.97h6.8v2.08H836.5zM854.5 260.97h2.3v2.08H854.5zM863.5 260.97h2.3v2.08H863.5z"/>
<path fill="#00c0bc" d="M683.5 169.05h2.3v3.88H683.5zM789.25 169.05h9.05v3.88H789.25zM802.75 169.05h2.3v3.88H802.75zM690.25 172.88h2.3v3.88H690.25zM755.5 172.88h4.55v3.88H755.5zM782.5 172.88h4.55v3.88H782.5zM791.5 172.88h9.05v3.88H791.5zM802.75 172.88h2.3v3.88H802.75zM690.25 176.71h2.3v3.88H690.25zM694.75 176.71h4.55v3.88H694.75zM701.5 176.71h2.3v3.88H701.5zM755.5 176.71h2.3v3.88H755.5zM791.5 176.71h2.3v3.88H791.5zM796 176.71h2.3v3.88H796zM712.75 180.54h2.3v3.88H712.75zM789.25 180.54h2.3v3.88H789.25zM800.5 180.54h2.3v3.88H800.5zM809.5 180.54h2.3v3.88H809.5zM789.25 184.37h2.3v3.88H789.25zM798.25 184.37h6.8v3.88H798.25zM809.5 184.37h2.3v3.88H809.5zM798.25 188.2h2.3v3.88H798.25zM809.5 192.03h4.55v3.88H809.5zM751 195.86h4.55v3.88H751zM773.5 195.86h2.3v3.88H773.5zM814 195.86h2.3v3.88H814zM726.25 199.69h2.3v3.88H726.25zM811.75 199.69h2.3v3.88H811.75zM726.25 203.52h2.3v3.88H726.25zM733 203.52h2.3v3.88H733zM757.75 203.52h2.3v3.88H757.75zM816.25 203.52h2.3v3.88H816.25zM771.25 207.35h2.3v3.88H771.25zM816.25 207.35h6.8v3.88H816.25zM818.5 211.18h2.3v3.88H818.5zM769 215.01h2.3v3.88H769zM823 215.01h2.3v3.88H823zM814 218.84h2.3v3.88H814zM818.5 218.84h2.3v3.88H818.5zM832 218.84h2.3v3.88H832zM816.25 226.5h2.3v3.88H816.25zM820.75 226.5h2.3v3.88H820.75zM814 230.33h4.55v3.88H814zM811.75 234.16h4.55v3.88H811.75zM802.75 237.99h2.3v3.88H802.75zM814 237.99h4.55v3.88H814zM809.5 241.82h2.3v3.88H809.5zM814 241.82h2.3v3.88H814zM805 245.65h2.3v3.88H805zM811.75 245.65h2.3v3.88H811.75zM818.5 245.65h6.8v3.88H818.5zM802.75 253.31h4.55v3.88H802.75zM809.5 253.31h2.3v3.88H809.5zM818.5 253.31h2.3v3.88H818.5zM800.5 257.14h2.3v3.88H800.5zM820.75 257.14h4.55v3.88H820.75zM802.75 260.97h2.3v2.08H802.75zM847.75 260.97h4.55v2.08H847.75zM856.75 260.97h4.55v2.08H856.75zM868 260.97h2.3v2.08H868zM872.5 260.97h3.55v2.08H872.5z"/>
<path fill="#00bfa4" d="M798.25 161.39h2.3v3.88H798.25zM688 165.22h4.55v3.88H688zM789.25 165.22h2.3v3.88H789.25zM798.25 165.22h2.3v3.88H798.25zM681.25 169.05h2.3v3.88H681.25zM690.25 169.05h4.55v3.88H690.25zM787 169.05h2.3v3.88H787zM800.5 169.05h2.3v3.88H800.5zM679 172.88h4.55v3.88H679zM685.75 172.88h2.3v3.88H685.75zM694.75 172.88h2.3v3.88H694.75zM751 172.88h4.55v3.88H751zM778 172.88h2.3v3.88H778zM800.5 172.88h2.3v3.88H800.5zM805 172.88h2.3v3.88H805zM699.25 176.71h2.3v3.88H699.25zM753.25 176.71h2.3v3.88H753.25zM798.25 176.71h4.55v3.88H798.25zM807.25 176.71h6.8v3.88H807.25zM717.25 180.54h2.3v3.88H717.25zM757.75 180.54h6.8v3.88H757.75zM793.75 180.54h2.3v3.88H793.75zM802.75 180.54h4.55v3.88H802.75zM814 180.54h2.3v3.88H814zM791.5 184.37h2.3v3.88H791.5zM796 184.37h2.3v3.88H796zM721.75 188.2h2.3v3.88H721.75zM724 192.03h2.3v3.88H724zM816.25 192.03h2.3v3.88H816.25zM746.5 199.69h2.3v3.88H746.5zM771.25 199.69h2.3v3.88H771.25zM771.25 203.52h2.3v3.88H771.25zM818.5 203.52h2.3v3.88H818.5zM771.25 211.18h2.3v3.88H771.25zM820.75 211.18h4.55v3.88H820.75zM762.25 215.01h2.3v3.88H762.25zM816.25 215.01h6.8v3.88H816.25zM838.75 215.01h2.3v3.88H838.75zM820.75 218.84h4.55v3.88H820.75zM829.75 218.84h2.3v3.88H829.75zM836.5 218.84h2.3v3.88H836.5zM816.25 222.67h4.55v3.88H816.25zM823 222.67h4.55v3.88H823zM834.25 222.67h2.3v3.88H834.25zM823 226.5h2.3v3.88H823zM818.5 230.33h6.8v3.88H818.5zM820.75 234.16h4.55v3.88H820.75zM823 237.99h2.3v3.88H823zM818.5 241.82h4.55v3.88H818.5zM827.5 241.82h2.3v3.88H827.5zM807.25 245.65h2.3v3.88H807.25zM811.75 249.48h4.55v3.88H811.75zM823 249.48h4.55v3.88H823zM814 253.31h4.55v3.88H814zM823 253.31h6.8v3.88H823zM802.75 257.14h6.8v3.88H802.75zM829.75 257.14h4.55v3.88H829.75zM841 257.14h2.3v3.88H841zM863.5 257.14h2.3v3.88H863.5zM868 257.14h2.3v3.88H868zM807.25 260.97h2.3v2.08H807.25zM816.25 260.97h4.55v2.08H816.25zM827.5 260.97h2.3v2.08H827.5zM834.25 260.97h2.3v2.08H834.25zM843.25 260.97h4.55v2.08H843.25zM852.25 260.97h2.3v2.08H852.25zM861.25 260.97h2.3v2.08H861.25zM870.25 260.97h2.3v2.08H870.25z"/>
<path fill="#00be8c" d="M681.25 165.22h2.3v3.88H681.25zM685.75 165.22h2.3v3.88H685.75zM791.5 165.22h6.8v3.88H791.5zM802.75 165.22h2.3v3.88H802.75zM751 169.05h2.3v3.88H751zM757.75 169.05h4.55v3.88H757.75zM766.75 169.05h2.3v3.88H766.75zM798.25 169.05h2.3v3.88H798.25zM807.25 172.88h2.3v3.88H807.25zM703.75 176.71h2.3v3.88H703.75zM708.25 176.71h2.3v3.88H708.25zM748.75 176.71h4.55v3.88H748.75zM814 176.71h2.3v3.88H814zM715 180.54h2.3v3.88H715zM755.5 180.54h2.3v3.88H755.5zM811.75 180.54h2.3v3.88H811.75zM721.75 184.37h2.3v3.88H721.75zM805 184.37h2.3v3.88H805zM816.25 184.37h2.3v3.88H816.25zM724 188.2h2.3v3.88H724zM809.5 188.2h2.3v3.88H809.5zM814 188.2h2.3v3.88H814zM753.25 192.03h2.3v3.88H753.25zM773.5 192.03h2.3v3.88H773.5zM726.25 195.86h2.3v3.88H726.25zM757.75 195.86h2.3v3.88H757.75zM771.25 195.86h2.3v3.88H771.25zM728.5 199.69h4.55v3.88H728.5zM742 199.69h4.55v3.88H742zM760 199.69h2.3v3.88H760zM814 199.69h4.55v3.88H814zM760 203.52h2.3v3.88H760zM760 207.35h2.3v3.88H760zM769 207.35h2.3v3.88H769zM823 207.35h2.3v3.88H823zM762.25 211.18h2.3v3.88H762.25zM764.5 215.01h2.3v3.88H764.5zM825.25 215.01h2.3v3.88H825.25zM829.75 215.01h6.8v3.88H829.75zM825.25 218.84h4.55v3.88H825.25zM834.25 218.84h2.3v3.88H834.25zM838.75 218.84h4.55v3.88H838.75zM820.75 222.67h2.3v3.88H820.75zM827.5 222.67h4.55v3.88H827.5zM836.5 222.67h2.3v3.88H836.5zM845.5 222.67h2.3v3.88H845.5zM818.5 226.5h2.3v3.88H818.5zM825.25 226.5h6.8v3.88H825.25zM825.25 230.33h4.55v3.88H825.25zM807.25 234.16h2.3v3.88H807.25zM818.5 234.16h2.3v3.88H818.5zM818.5 237.99h2.3v3.88H818.5zM805 241.82h2.3v3.88H805zM814 245.65h2.3v3.88H814zM825.25 245.65h4.55v3.88H825.25zM805 249.48h2.3v3.88H805zM809.5 249.48h2.3v3.88H809.5zM816.25 249.48h2.3v3.88H816.25zM820.75 249.48h2.3v3.88H820.75zM827.5 249.48h2.3v3.88H827.5zM807.25 253.31h2.3v3.88H807.25zM820.75 253.31h2.3v3.88H820.75zM809.5 257.14h6.8v3.88H809.5zM818.5 257.14h2.3v3.88H818.5zM834.25 257.14h4.55v3.88H834.25zM843.25 257.14h2.3v3.88H843.25zM859 257.14h2.3v3.88H859zM809.5 260.97h2.3v2.08H809.5zM829.75 260.97h2.3v2.08H829.75z"/>
<path fill="#00c070" d="M679 119.26h2.3v3.88H679zM685.75 119.26h2.3v3.88H685.75zM679 134.58h2.3v3.88H679zM683.5 161.39h2.3v3.88H683.5zM802.75 161.39h2.3v3.88H802.75zM683.5 165.22h2.3v3.88H683.5zM787 165.22h2.3v3.88H787zM800.5 165.22h2.3v3.88H800.5zM805 165.22h4.55v3.88H805zM679 169.05h2.3v3.88H679zM694.75 169.05h2.3v3.88H694.75zM764.5 169.05h2.3v3.88H764.5zM782.5 169.05h4.55v3.88H782.5zM805 169.05h4.55v3.88H805zM697 172.88h4.55v3.88H697zM811.75 172.88h2.3v3.88H811.75zM706 176.71h2.3v3.88H706zM816.25 176.71h2.3v3.88H816.25zM719.5 180.54h2.3v3.88H719.5zM753.25 180.54h2.3v3.88H753.25zM816.25 180.54h2.3v3.88H816.25zM769 184.37h2.3v3.88H769zM811.75 184.37h2.3v3.88H811.75zM771.25 188.2h2.3v3.88H771.25zM816.25 188.2h2.3v3.88H816.25zM755.5 192.03h2.3v3.88H755.5zM771.25 192.03h2.3v3.88H771.25zM748.75 195.86h2.3v3.88H748.75zM760 195.86h2.3v3.88H760zM769 195.86h2.3v3.88H769zM739.75 199.69h2.3v3.88H739.75zM762.25 199.69h2.3v3.88H762.25zM769 199.69h2.3v3.88H769zM764.5 211.18h2.3v3.88H764.5zM769 211.18h2.3v3.88H769zM825.25 211.18h2.3v3.88H825.25zM766.75 215.01h2.3v3.88H766.75zM836.5 215.01h2.3v3.88H836.5zM843.25 218.84h2.3v3.88H843.25zM832 222.67h2.3v3.88H832zM838.75 222.67h4.55v3.88H838.75zM847.75 222.67h2.3v3.88H847.75zM834.25 226.5h4.55v3.88H834.25zM825.25 234.16h4.55v3.88H825.25zM872.5 234.16h2.3v3.88H872.5zM825.25 237.99h4.55v3.88H825.25zM870.25 237.99h2.3v3.88H870.25zM825.25 241.82h2.3v3.88H825.25zM832 249.48h2.3v3.88H832zM811.75 253.31h2.3v3.88H811.75zM829.75 253.31h2.3v3.88H829.75zM834.25 253.31h2.3v3.88H834.25zM868 253.31h2.3v3.88H868zM874.75 253.31h1.3v3.88H874.75zM816.25 257.14h2.3v3.88H816.25zM827.5 257.14h2.3v3.88H827.5zM838.75 257.14h2.3v3.88H838.75zM845.5 257.14h6.8v3.88H845.5zM854.5 257.14h4.55v3.88H854.5zM861.25 257.14h2.3v3.88H861.25zM870.25 257.14h4.55v3.88H870.25zM811.75 260.97h2.3v2.08H811.75zM820.75 260.97h6.8v2.08H820.75z"/>
<path fill="#00c355" d="M681.25 119.26h4.55v3.88H681.25zM679 123.09h2.3v3.88H679zM683.5 123.09h2.3v3.88H683.5zM681.25 126.92h2.3v3.88H681.25zM697 134.58h2.3v3.88H697zM685.75 138.41h2.3v3.88H685.75zM692.5 138.41h2.3v3.88H692.5zM683.5 142.24h2.3v3.88H683.5zM688 161.39h6.8v3.88H688zM789.25 161.39h4.55v3.88H789.25zM800.5 161.39h2.3v3.88H800.5zM805 161.39h4.55v3.88H805zM697 165.22h2.3v3.88H697zM719.5 165.22h2.3v3.88H719.5zM753.25 165.22h4.55v3.88H753.25zM748.75 169.05h2.3v3.88H748.75zM753.25 169.05h4.55v3.88H753.25zM762.25 169.05h2.3v3.88H762.25zM809.5 169.05h2.3v3.88H809.5zM703.75 172.88h2.3v3.88H703.75zM746.5 172.88h4.55v3.88H746.5zM809.5 172.88h2.3v3.88H809.5zM814 172.88h2.3v3.88H814zM710.5 176.71h2.3v3.88H710.5zM721.75 180.54h2.3v3.88H721.75zM818.5 180.54h2.3v3.88H818.5zM814 184.37h2.3v3.88H814zM818.5 184.37h2.3v3.88H818.5zM726.25 188.2h2.3v3.88H726.25zM811.75 188.2h2.3v3.88H811.75zM726.25 192.03h4.55v3.88H726.25zM751 192.03h2.3v3.88H751zM757.75 192.03h2.3v3.88H757.75zM818.5 192.03h2.3v3.88H818.5zM728.5 195.86h2.3v3.88H728.5zM816.25 195.86h2.3v3.88H816.25zM733 199.69h6.8v3.88H733zM766.75 199.69h2.3v3.88H766.75zM818.5 199.69h4.55v3.88H818.5zM764.5 203.52h4.55v3.88H764.5zM820.75 203.52h2.3v3.88H820.75zM764.5 207.35h2.3v3.88H764.5zM825.25 207.35h4.55v3.88H825.25zM766.75 211.18h2.3v3.88H766.75zM829.75 211.18h9.05v3.88H829.75zM827.5 215.01h2.3v3.88H827.5zM843.25 222.67h2.3v3.88H843.25zM832 226.5h2.3v3.88H832zM841 226.5h9.05v3.88H841zM852.25 226.5h2.3v3.88H852.25zM834.25 230.33h2.3v3.88H834.25zM865.75 230.33h2.3v3.88H865.75zM872.5 230.33h2.3v3.88H872.5zM868 234.16h2.3v3.88H868zM829.75 241.82h2.3v3.88H829.75zM829.75 245.65h2.3v3.88H829.75zM829.75 249.48h2.3v3.88H829.75zM832 253.31h2.3v3.88H832zM856.75 253.31h2.3v3.88H856.75zM861.25 253.31h4.55v3.88H861.25zM872.5 253.31h2.3v3.88H872.5zM825.25 257.14h2.3v3.88H825.25zM852.25 257.14h2.3v3.88H852.25zM865.75 257.14h2.3v3.88H865.75zM874.75 257.14h1.3v3.88H874.75zM814 260.97h2.3v2.08H814z"/>
<path fill="#00c63a" d="M685.75 115.43h2.3v3.88H685.75zM681.25 123.09h2.3v3.88H681.25zM685.75 123.09h2.3v3.88H685.75zM690.25 126.92h2.3v3.88H690.25zM688 130.75h2.3v3.88H688zM694.75 130.75h4.55v3.88H694.75zM690.25 134.58h6.8v3.88H690.25zM681.25 138.41h4.55v3.88H681.25zM701.5 138.41h2.3v3.88H701.5zM679 142.24h4.55v3.88H679zM690.25 142.24h2.3v3.88H690.25zM710.5 142.24h2.3v3.88H710.5zM685.75 146.07h2.3v3.88H685.75zM706 146.07h2.3v3.88H706zM715 146.07h2.3v3.88H715zM679 149.9h2.3v3.88H679zM683.5 149.9h2.3v3.88H683.5zM681.25 157.56h9.05v3.88H681.25zM800.5 157.56h6.8v3.88H800.5zM681.25 161.39h2.3v3.88H681.25zM685.75 161.39h2.3v3.88H685.75zM694.75 161.39h2.3v3.88H694.75zM793.75 161.39h4.55v3.88H793.75zM809.5 161.39h2.3v3.88H809.5zM679 165.22h2.3v3.88H679zM692.5 165.22h4.55v3.88H692.5zM712.75 165.22h4.55v3.88H712.75zM762.25 165.22h2.3v3.88H762.25zM697 169.05h2.3v3.88H697zM701.5 169.05h2.3v3.88H701.5zM769 169.05h4.55v3.88H769zM775.75 169.05h2.3v3.88H775.75zM811.75 169.05h2.3v3.88H811.75zM701.5 172.88h2.3v3.88H701.5zM744.25 172.88h2.3v3.88H744.25zM719.5 176.71h2.3v3.88H719.5zM724 180.54h2.3v3.88H724zM724 184.37h4.55v3.88H724zM764.5 184.37h2.3v3.88H764.5zM820.75 184.37h2.3v3.88H820.75zM820.75 188.2h2.3v3.88H820.75zM769 192.03h2.3v3.88H769zM814 192.03h2.3v3.88H814zM730.75 195.86h4.55v3.88H730.75zM746.5 195.86h2.3v3.88H746.5zM766.75 195.86h2.3v3.88H766.75zM762.25 203.52h2.3v3.88H762.25zM769 203.52h2.3v3.88H769zM823 203.52h4.55v3.88H823zM762.25 207.35h2.3v3.88H762.25zM766.75 207.35h2.3v3.88H766.75zM829.75 207.35h6.8v3.88H829.75zM827.5 211.18h2.3v3.88H827.5zM838.75 211.18h2.3v3.88H838.75zM841 215.01h4.55v3.88H841zM845.5 218.84h4.55v3.88H845.5zM838.75 226.5h2.3v3.88H838.75zM856.75 226.5h2.3v3.88H856.75zM861.25 226.5h2.3v3.88H861.25zM829.75 230.33h2.3v3.88H829.75zM836.5 230.33h2.3v3.88H836.5zM859 230.33h6.8v3.88H859zM874.75 230.33h1.3v3.88H874.75zM829.75 234.16h4.55v3.88H829.75zM870.25 234.16h2.3v3.88H870.25zM872.5 237.99h3.55v3.88H872.5zM874.75 241.82h1.3v3.88H874.75zM832 245.65h2.3v3.88H832zM868 249.48h2.3v3.88H868zM872.5 249.48h2.3v3.88H872.5zM836.5 253.31h2.3v3.88H836.5zM865.75 253.31h2.3v3.88H865.75zM870.25 253.31h2.3v3.88H870.25z"/>
<path fill="#00c81e" d="M679 115.43h4.55v3.88H679zM688 119.26h4.55v3.88H688zM688 123.09h4.55v3.88H688zM679 126.92h2.3v3.88H679zM683.5 126.92h6.8v3.88H683.5zM679 130.75h9.05v3.88H679zM690.25 130.75h4.55v3.88H690.25zM681.25 134.58h4.55v3.88H681.25zM701.5 134.58h2.3v3.88H701.5zM679 138.41h2.3v3.88H679zM688 138.41h4.55v3.88H688zM685.75 142.24h2.3v3.88H685.75zM694.75 142.24h4.55v3.88H694.75zM715 142.24h9.05v3.88H715zM679 146.07h2.3v3.88H679zM688 146.07h2.3v3.88H688zM701.5 146.07h2.3v3.88H701.5zM712.75 146.07h2.3v3.88H712.75zM717.25 146.07h2.3v3.88H717.25zM721.75 146.07h2.3v3.88H721.75zM681.25 149.9h2.3v3.88H681.25zM717.25 149.9h2.3v3.88H717.25zM679 153.73h4.55v3.88H679zM699.25 153.73h2.3v3.88H699.25zM712.75 153.73h2.3v3.88H712.75zM679 157.56h2.3v3.88H679zM690.25 157.56h2.3v3.88H690.25zM717.25 157.56h4.55v3.88H717.25zM798.25 157.56h2.3v3.88H798.25zM679 161.39h2.3v3.88H679zM712.75 161.39h2.3v3.88H712.75zM719.5 161.39h2.3v3.88H719.5zM699.25 165.22h2.3v3.88H699.25zM710.5 165.22h2.3v3.88H710.5zM717.25 165.22h2.3v3.88H717.25zM721.75 165.22h2.3v3.88H721.75zM751 165.22h2.3v3.88H751zM757.75 165.22h4.55v3.88H757.75zM784.75 165.22h2.3v3.88H784.75zM809.5 165.22h4.55v3.88H809.5zM699.25 169.05h2.3v3.88H699.25zM703.75 169.05h2.3v3.88H703.75zM710.5 169.05h6.8v3.88H710.5zM746.5 169.05h2.3v3.88H746.5zM773.5 169.05h2.3v3.88H773.5zM778 169.05h4.55v3.88H778zM706 172.88h2.3v3.88H706zM710.5 172.88h9.05v3.88H710.5zM712.75 176.71h2.3v3.88H712.75zM721.75 176.71h4.55v3.88H721.75zM742 176.71h6.8v3.88H742zM818.5 176.71h2.3v3.88H818.5zM726.25 180.54h2.3v3.88H726.25zM730.75 180.54h2.3v3.88H730.75zM748.75 180.54h2.3v3.88H748.75zM757.75 184.37h4.55v3.88H757.75zM766.75 184.37h2.3v3.88H766.75zM751 188.2h2.3v3.88H751zM818.5 188.2h2.3v3.88H818.5zM820.75 192.03h2.3v3.88H820.75zM735.25 195.86h2.3v3.88H735.25zM744.25 195.86h2.3v3.88H744.25zM762.25 195.86h2.3v3.88H762.25zM818.5 195.86h4.55v3.88H818.5zM764.5 199.69h2.3v3.88H764.5zM823 199.69h4.55v3.88H823zM834.25 199.69h2.3v3.88H834.25zM832 203.52h6.8v3.88H832zM838.75 207.35h4.55v3.88H838.75zM841 211.18h4.55v3.88H841zM850 222.67h6.8v3.88H850zM850 226.5h2.3v3.88H850zM854.5 226.5h2.3v3.88H854.5zM859 226.5h2.3v3.88H859zM870.25 226.5h2.3v3.88H870.25zM832 230.33h2.3v3.88H832zM838.75 230.33h4.55v3.88H838.75zM868 230.33h2.3v3.88H868zM865.75 234.16h2.3v3.88H865.75zM874.75 234.16h1.3v3.88H874.75zM829.75 237.99h2.3v3.88H829.75zM870.25 241.82h4.55v3.88H870.25zM868 245.65h2.3v3.88H868zM865.75 249.48h2.3v3.88H865.75zM870.25 249.48h2.3v3.88H870.25zM874.75 249.48h1.3v3.88H874.75zM845.5 253.31h2.3v3.88H845.5zM852.25 253.31h4.55v3.88H852.25zM859 253.31h2.3v3.88H859z"/>
<path fill="#12ce16" d="M692.5 123.09h2.3v3.88H692.5zM692.5 126.92h2.3v3.88H692.5zM685.75 134.58h4.55v3.88H685.75zM699.25 134.58h2.3v3.88H699.25zM694.75 138.41h4.55v3.88H694.75zM703.75 138.41h11.3v3.88H703.75zM692.5 142.24h2.3v3.88H692.5zM699.25 142.24h9.05v3.88H699.25zM712.75 142.24h2.3v3.88H712.75zM681.25 146.07h4.55v3.88H681.25zM690.25 146.07h2.3v3.88H690.25zM703.75 146.07h2.3v3.88H703.75zM710.5 146.07h2.3v3.88H710.5zM719.5 146.07h2.3v3.88H719.5zM724 146.07h2.3v3.88H724zM690.25 149.9h4.55v3.88H690.25zM697 149.9h2.3v3.88H697zM708.25 149.9h2.3v3.88H708.25zM719.5 149.9h2.3v3.88H719.5zM683.5 153.73h4.55v3.88H683.5zM690.25 153.73h4.55v3.88H690.25zM710.5 153.73h2.3v3.88H710.5zM715 153.73h2.3v3.88H715zM692.5 157.56h4.55v3.88H692.5zM703.75 157.56h4.55v3.88H703.75zM710.5 157.56h6.8v3.88H710.5zM793.75 157.56h2.3v3.88H793.75zM699.25 161.39h2.3v3.88H699.25zM710.5 161.39h2.3v3.88H710.5zM715 161.39h4.55v3.88H715zM811.75 161.39h2.3v3.88H811.75zM706 165.22h4.55v3.88H706zM782.5 165.22h2.3v3.88H782.5zM706 169.05h4.55v3.88H706zM719.5 169.05h6.8v3.88H719.5zM744.25 169.05h2.3v3.88H744.25zM708.25 172.88h2.3v3.88H708.25zM719.5 172.88h2.3v3.88H719.5zM739.75 172.88h4.55v3.88H739.75zM816.25 172.88h2.3v3.88H816.25zM715 176.71h4.55v3.88H715zM728.5 176.71h6.8v3.88H728.5zM739.75 176.71h2.3v3.88H739.75zM728.5 180.54h2.3v3.88H728.5zM751 180.54h2.3v3.88H751zM820.75 180.54h2.3v3.88H820.75zM728.5 184.37h2.3v3.88H728.5zM755.5 184.37h2.3v3.88H755.5zM762.25 184.37h2.3v3.88H762.25zM730.75 192.03h2.3v3.88H730.75zM748.75 192.03h2.3v3.88H748.75zM760 192.03h4.55v3.88H760zM739.75 195.86h4.55v3.88H739.75zM764.5 195.86h2.3v3.88H764.5zM823 195.86h2.3v3.88H823zM827.5 203.52h4.55v3.88H827.5zM836.5 207.35h2.3v3.88H836.5zM845.5 215.01h2.3v3.88H845.5zM863.5 226.5h2.3v3.88H863.5zM845.5 230.33h4.55v3.88H845.5zM854.5 230.33h4.55v3.88H854.5zM834.25 234.16h2.3v3.88H834.25zM859 234.16h6.8v3.88H859zM832 237.99h2.3v3.88H832zM863.5 237.99h2.3v3.88H863.5zM863.5 241.82h2.3v3.88H863.5zM865.75 245.65h2.3v3.88H865.75zM870.25 245.65h5.8v3.88H870.25zM836.5 249.48h2.3v3.88H836.5zM838.75 253.31h6.8v3.88H838.75z"/>
<path fill="#23d30f" d="M683.5 115.43h2.3v3.88H683.5zM688 115.43h2.3v3.88H688zM692.5 119.26h2.3v3.88H692.5zM694.75 123.09h2.3v3.88H694.75zM764.5 123.09h2.3v3.88H764.5zM694.75 126.92h4.55v3.88H694.75zM764.5 126.92h2.3v3.88H764.5zM703.75 134.58h2.3v3.88H703.75zM699.25 138.41h2.3v3.88H699.25zM717.25 138.41h2.3v3.88H717.25zM721.75 138.41h4.55v3.88H721.75zM688 142.24h2.3v3.88H688zM708.25 142.24h2.3v3.88H708.25zM724 142.24h6.8v3.88H724zM692.5 146.07h4.55v3.88H692.5zM699.25 146.07h2.3v3.88H699.25zM726.25 146.07h2.3v3.88H726.25zM769 146.07h2.3v3.88H769zM685.75 149.9h4.55v3.88H685.75zM694.75 149.9h2.3v3.88H694.75zM699.25 149.9h4.55v3.88H699.25zM706 149.9h2.3v3.88H706zM710.5 149.9h6.8v3.88H710.5zM724 149.9h2.3v3.88H724zM762.25 149.9h2.3v3.88H762.25zM688 153.73h2.3v3.88H688zM694.75 153.73h4.55v3.88H694.75zM703.75 153.73h6.8v3.88H703.75zM717.25 153.73h9.05v3.88H717.25zM697 157.56h4.55v3.88H697zM721.75 157.56h4.55v3.88H721.75zM791.5 157.56h2.3v3.88H791.5zM796 157.56h2.3v3.88H796zM807.25 157.56h4.55v3.88H807.25zM697 161.39h2.3v3.88H697zM701.5 161.39h4.55v3.88H701.5zM708.25 161.39h2.3v3.88H708.25zM721.75 161.39h6.8v3.88H721.75zM787 161.39h2.3v3.88H787zM701.5 165.22h4.55v3.88H701.5zM746.5 165.22h4.55v3.88H746.5zM717.25 169.05h2.3v3.88H717.25zM814 169.05h2.3v3.88H814zM721.75 172.88h11.3v3.88H721.75zM737.5 172.88h2.3v3.88H737.5zM818.5 172.88h2.3v3.88H818.5zM726.25 176.71h2.3v3.88H726.25zM735.25 176.71h4.55v3.88H735.25zM744.25 180.54h4.55v3.88H744.25zM730.75 184.37h2.3v3.88H730.75zM751 184.37h4.55v3.88H751zM823 184.37h2.3v3.88H823zM728.5 188.2h4.55v3.88H728.5zM753.25 188.2h2.3v3.88H753.25zM757.75 188.2h4.55v3.88H757.75zM769 188.2h2.3v3.88H769zM823 188.2h2.3v3.88H823zM823 192.03h2.3v3.88H823zM737.5 195.86h2.3v3.88H737.5zM827.5 199.69h2.3v3.88H827.5zM836.5 199.69h4.55v3.88H836.5zM838.75 203.52h4.55v3.88H838.75zM843.25 207.35h2.3v3.88H843.25zM850 218.84h4.55v3.88H850zM865.75 226.5h2.3v3.88H865.75zM872.5 226.5h3.55v3.88H872.5zM843.25 230.33h2.3v3.88H843.25zM850 230.33h4.55v3.88H850zM870.25 230.33h2.3v3.88H870.25zM856.75 234.16h2.3v3.88H856.75zM834.25 237.99h2.3v3.88H834.25zM868 237.99h2.3v3.88H868zM832 241.82h4.55v3.88H832zM865.75 241.82h4.55v3.88H865.75zM834.25 245.65h2.3v3.88H834.25zM861.25 245.65h2.3v3.88H861.25zM834.25 249.48h2.3v3.88H834.25zM863.5 249.48h2.3v3.88H863.5zM850 253.31h2.3v3.88H850z"/>
<path fill="#34d808" d="M681.25 111.6h2.3v3.88H681.25zM762.25 119.26h2.3v3.88H762.25zM697 123.09h2.3v3.88H697zM766.75 126.92h4.55v3.88H766.75zM699.25 130.75h4.55v3.88H699.25zM706 134.58h2.3v3.88H706zM715 138.41h2.3v3.88H715zM719.5 138.41h2.3v3.88H719.5zM697 146.07h2.3v3.88H697zM708.25 146.07h2.3v3.88H708.25zM703.75 149.9h2.3v3.88H703.75zM721.75 149.9h2.3v3.88H721.75zM726.25 149.9h2.3v3.88H726.25zM769 149.9h2.3v3.88H769zM701.5 153.73h2.3v3.88H701.5zM726.25 153.73h2.3v3.88H726.25zM766.75 153.73h2.3v3.88H766.75zM708.25 157.56h2.3v3.88H708.25zM726.25 157.56h2.3v3.88H726.25zM764.5 157.56h2.3v3.88H764.5zM706 161.39h2.3v3.88H706zM751 161.39h9.05v3.88H751zM784.75 161.39h2.3v3.88H784.75zM724 165.22h4.55v3.88H724zM744.25 165.22h2.3v3.88H744.25zM778 165.22h4.55v3.88H778zM814 165.22h2.3v3.88H814zM728.5 169.05h2.3v3.88H728.5zM816.25 169.05h2.3v3.88H816.25zM735.25 172.88h2.3v3.88H735.25zM820.75 176.71h2.3v3.88H820.75zM733 180.54h6.8v3.88H733zM742 180.54h2.3v3.88H742zM825.25 180.54h2.3v3.88H825.25zM748.75 184.37h2.3v3.88H748.75zM825.25 184.37h2.3v3.88H825.25zM735.25 188.2h2.3v3.88H735.25zM748.75 188.2h2.3v3.88H748.75zM755.5 188.2h2.3v3.88H755.5zM766.75 188.2h2.3v3.88H766.75zM825.25 188.2h2.3v3.88H825.25zM733 192.03h2.3v3.88H733zM744.25 192.03h4.55v3.88H744.25zM764.5 192.03h4.55v3.88H764.5zM825.25 192.03h2.3v3.88H825.25zM825.25 195.86h6.8v3.88H825.25zM859 195.86h2.3v3.88H859zM863.5 195.86h4.55v3.88H863.5zM829.75 199.69h4.55v3.88H829.75zM841 199.69h9.05v3.88H841zM845.5 207.35h2.3v3.88H845.5zM847.75 215.01h2.3v3.88H847.75zM859 222.67h2.3v3.88H859zM868 226.5h2.3v3.88H868zM836.5 234.16h4.55v3.88H836.5zM854.5 234.16h2.3v3.88H854.5zM865.75 237.99h2.3v3.88H865.75zM863.5 245.65h2.3v3.88H863.5zM861.25 249.48h2.3v3.88H861.25zM847.75 253.31h2.3v3.88H847.75z"/>
<path fill="#46de00" d="M679 111.6h2.3v3.88H679zM690.25 115.43h2.3v3.88H690.25zM694.75 119.26h2.3v3.88H694.75zM766.75 119.26h2.3v3.88H766.75zM762.25 123.09h2.3v3.88H762.25zM769 123.09h2.3v3.88H769zM699.25 126.92h4.55v3.88H699.25zM762.25 126.92h2.3v3.88H762.25zM703.75 130.75h2.3v3.88H703.75zM762.25 130.75h2.3v3.88H762.25zM764.5 134.58h2.3v3.88H764.5zM726.25 138.41h2.3v3.88H726.25zM764.5 142.24h6.8v3.88H764.5zM730.75 146.07h4.55v3.88H730.75zM771.25 146.07h2.3v3.88H771.25zM728.5 149.9h2.3v3.88H728.5zM764.5 149.9h4.55v3.88H764.5zM771.25 149.9h2.3v3.88H771.25zM764.5 153.73h2.3v3.88H764.5zM701.5 157.56h2.3v3.88H701.5zM728.5 157.56h2.3v3.88H728.5zM751 157.56h4.55v3.88H751zM757.75 157.56h2.3v3.88H757.75zM762.25 157.56h2.3v3.88H762.25zM789.25 157.56h2.3v3.88H789.25zM811.75 157.56h2.3v3.88H811.75zM728.5 161.39h2.3v3.88H728.5zM746.5 161.39h2.3v3.88H746.5zM760 161.39h2.3v3.88H760zM764.5 161.39h2.3v3.88H764.5zM728.5 165.22h2.3v3.88H728.5zM742 165.22h2.3v3.88H742zM764.5 165.22h9.05v3.88H764.5zM726.25 169.05h2.3v3.88H726.25zM735.25 169.05h6.8v3.88H735.25zM739.75 180.54h2.3v3.88H739.75zM823 180.54h2.3v3.88H823zM733 184.37h2.3v3.88H733zM737.5 184.37h4.55v3.88H737.5zM744.25 184.37h2.3v3.88H744.25zM762.25 188.2h4.55v3.88H762.25zM827.5 188.2h2.3v3.88H827.5zM735.25 192.03h2.3v3.88H735.25zM742 192.03h2.3v3.88H742zM827.5 192.03h4.55v3.88H827.5zM832 195.86h6.8v3.88H832zM841 195.86h2.3v3.88H841zM845.5 195.86h9.05v3.88H845.5zM856.75 195.86h2.3v3.88H856.75zM861.25 195.86h2.3v3.88H861.25zM868 195.86h2.3v3.88H868zM850 199.69h4.55v3.88H850zM843.25 203.52h4.55v3.88H843.25zM845.5 211.18h4.55v3.88H845.5zM856.75 222.67h2.3v3.88H856.75zM861.25 222.67h4.55v3.88H861.25zM841 234.16h2.3v3.88H841zM847.75 234.16h4.55v3.88H847.75zM859 237.99h4.55v3.88H859zM836.5 245.65h2.3v3.88H836.5zM838.75 249.48h2.3v3.88H838.75zM859 249.48h2.3v3.88H859z"/>
<path fill="#62e400" d="M683.5 111.6h2.3v3.88H683.5zM692.5 115.43h2.3v3.88H692.5zM762.25 115.43h2.3v3.88H762.25zM766.75 115.43h2.3v3.88H766.75zM764.5 119.26h2.3v3.88H764.5zM769 119.26h2.3v3.88H769zM699.25 123.09h2.3v3.88H699.25zM766.75 123.09h2.3v3.88H766.75zM760 130.75h2.3v3.88H760zM764.5 130.75h2.3v3.88H764.5zM708.25 134.58h4.55v3.88H708.25zM721.75 134.58h2.3v3.88H721.75zM766.75 134.58h2.3v3.88H766.75zM766.75 138.41h2.3v3.88H766.75zM730.75 142.24h2.3v3.88H730.75zM762.25 142.24h2.3v3.88H762.25zM728.5 146.07h2.3v3.88H728.5zM757.75 146.07h11.3v3.88H757.75zM730.75 149.9h2.3v3.88H730.75zM757.75 149.9h4.55v3.88H757.75zM773.5 149.9h2.3v3.88H773.5zM762.25 153.73h2.3v3.88H762.25zM793.75 153.73h6.8v3.88H793.75zM802.75 153.73h2.3v3.88H802.75zM755.5 157.56h2.3v3.88H755.5zM760 157.56h2.3v3.88H760zM787 157.56h2.3v3.88H787zM814 157.56h2.3v3.88H814zM748.75 161.39h2.3v3.88H748.75zM762.25 161.39h2.3v3.88H762.25zM766.75 161.39h2.3v3.88H766.75zM782.5 161.39h2.3v3.88H782.5zM814 161.39h2.3v3.88H814zM773.5 165.22h2.3v3.88H773.5zM730.75 169.05h4.55v3.88H730.75zM742 169.05h2.3v3.88H742zM818.5 169.05h2.3v3.88H818.5zM733 172.88h2.3v3.88H733zM820.75 172.88h2.3v3.88H820.75zM742 184.37h2.3v3.88H742zM733 188.2h2.3v3.88H733zM746.5 188.2h2.3v3.88H746.5zM834.25 192.03h2.3v3.88H834.25zM863.5 192.03h2.3v3.88H863.5zM838.75 195.86h2.3v3.88H838.75zM843.25 195.86h2.3v3.88H843.25zM854.5 195.86h2.3v3.88H854.5zM847.75 203.52h4.55v3.88H847.75zM847.75 207.35h2.3v3.88H847.75zM854.5 218.84h2.3v3.88H854.5zM868 222.67h2.3v3.88H868zM874.75 222.67h1.3v3.88H874.75zM843.25 234.16h2.3v3.88H843.25zM852.25 234.16h2.3v3.88H852.25zM836.5 237.99h2.3v3.88H836.5zM856.75 237.99h2.3v3.88H856.75zM841 249.48h4.55v3.88H841zM856.75 249.48h2.3v3.88H856.75z"/>
<path fill="#7dea00" d="M685.75 111.6h4.55v3.88H685.75zM760 111.6h4.55v3.88H760zM757.75 115.43h2.3v3.88H757.75zM769 115.43h2.3v3.88H769zM755.5 119.26h2.3v3.88H755.5zM760 119.26h2.3v3.88H760zM757.75 123.09h4.55v3.88H757.75zM757.75 126.92h2.3v3.88H757.75zM706 130.75h4.55v3.88H706zM757.75 130.75h2.3v3.88H757.75zM766.75 130.75h2.3v3.88H766.75zM712.75 134.58h4.55v3.88H712.75zM719.5 134.58h2.3v3.88H719.5zM757.75 134.58h2.3v3.88H757.75zM762.25 134.58h2.3v3.88H762.25zM769 134.58h2.3v3.88H769zM728.5 138.41h2.3v3.88H728.5zM757.75 138.41h4.55v3.88H757.75zM764.5 138.41h2.3v3.88H764.5zM769 138.41h2.3v3.88H769zM773.5 138.41h2.3v3.88H773.5zM733 142.24h2.3v3.88H733zM757.75 142.24h2.3v3.88H757.75zM735.25 146.07h2.3v3.88H735.25zM773.5 146.07h2.3v3.88H773.5zM733 149.9h2.3v3.88H733zM775.75 149.9h2.3v3.88H775.75zM728.5 153.73h2.3v3.88H728.5zM755.5 153.73h6.8v3.88H755.5zM769 153.73h4.55v3.88H769zM805 153.73h2.3v3.88H805zM809.5 153.73h2.3v3.88H809.5zM730.75 157.56h2.3v3.88H730.75zM748.75 157.56h2.3v3.88H748.75zM784.75 157.56h2.3v3.88H784.75zM773.5 161.39h4.55v3.88H773.5zM737.5 165.22h4.55v3.88H737.5zM775.75 165.22h2.3v3.88H775.75zM816.25 165.22h2.3v3.88H816.25zM823 176.71h4.55v3.88H823zM735.25 184.37h2.3v3.88H735.25zM746.5 184.37h2.3v3.88H746.5zM737.5 188.2h4.55v3.88H737.5zM739.75 192.03h2.3v3.88H739.75zM841 192.03h2.3v3.88H841zM850 192.03h2.3v3.88H850zM856.75 192.03h2.3v3.88H856.75zM861.25 192.03h2.3v3.88H861.25zM870.25 195.86h5.8v3.88H870.25zM854.5 199.69h9.05v3.88H854.5zM865.75 199.69h9.05v3.88H865.75zM856.75 218.84h2.3v3.88H856.75zM865.75 222.67h2.3v3.88H865.75zM870.25 222.67h2.3v3.88H870.25zM845.5 234.16h2.3v3.88H845.5zM854.5 237.99h2.3v3.88H854.5zM836.5 241.82h2.3v3.88H836.5zM861.25 241.82h2.3v3.88H861.25zM838.75 245.65h2.3v3.88H838.75zM859 245.65h2.3v3.88H859zM845.5 249.48h4.55v3.88H845.5zM852.25 249.48h4.55v3.88H852.25z"/>
<path fill="#98ef00" d="M683.5 107.77h2.3v3.88H683.5zM697 115.43h2.3v3.88H697zM760 115.43h2.3v3.88H760zM697 119.26h2.3v3.88H697zM701.5 123.09h2.3v3.88H701.5zM771.25 123.09h2.3v3.88H771.25zM703.75 126.92h2.3v3.88H703.75zM760 126.92h2.3v3.88H760zM755.5 130.75h2.3v3.88H755.5zM769 130.75h2.3v3.88H769zM755.5 134.58h2.3v3.88H755.5zM760 134.58h2.3v3.88H760zM730.75 138.41h2.3v3.88H730.75zM735.25 142.24h2.3v3.88H735.25zM760 142.24h2.3v3.88H760zM771.25 142.24h2.3v3.88H771.25zM735.25 149.9h2.3v3.88H735.25zM730.75 153.73h4.55v3.88H730.75zM753.25 153.73h2.3v3.88H753.25zM775.75 153.73h2.3v3.88H775.75zM789.25 153.73h4.55v3.88H789.25zM800.5 153.73h2.3v3.88H800.5zM807.25 153.73h2.3v3.88H807.25zM811.75 153.73h4.55v3.88H811.75zM733 157.56h2.3v3.88H733zM766.75 157.56h2.3v3.88H766.75zM744.25 161.39h2.3v3.88H744.25zM735.25 165.22h2.3v3.88H735.25zM818.5 165.22h2.3v3.88H818.5zM827.5 184.37h2.3v3.88H827.5zM742 188.2h4.55v3.88H742zM829.75 188.2h6.8v3.88H829.75zM737.5 192.03h2.3v3.88H737.5zM832 192.03h2.3v3.88H832zM836.5 192.03h2.3v3.88H836.5zM843.25 192.03h2.3v3.88H843.25zM852.25 192.03h2.3v3.88H852.25zM859 192.03h2.3v3.88H859zM865.75 192.03h4.55v3.88H865.75zM872.5 192.03h2.3v3.88H872.5zM874.75 199.69h1.3v3.88H874.75zM852.25 203.52h2.3v3.88H852.25zM852.25 207.35h2.3v3.88H852.25zM850 211.18h2.3v3.88H850zM850 215.01h4.55v3.88H850zM859 218.84h2.3v3.88H859zM838.75 237.99h2.3v3.88H838.75zM838.75 241.82h2.3v3.88H838.75zM856.75 241.82h2.3v3.88H856.75zM856.75 245.65h2.3v3.88H856.75z"/>
<path fill="#b4f500" d="M679 107.77h4.55v3.88H679zM685.75 107.77h2.3v3.88H685.75zM690.25 111.6h4.55v3.88H690.25zM755.5 111.6h4.55v3.88H755.5zM769 111.6h2.3v3.88H769zM694.75 115.43h2.3v3.88H694.75zM755.5 115.43h2.3v3.88H755.5zM764.5 115.43h2.3v3.88H764.5zM699.25 119.26h2.3v3.88H699.25zM757.75 119.26h2.3v3.88H757.75zM771.25 119.26h2.3v3.88H771.25zM755.5 123.09h2.3v3.88H755.5zM755.5 126.92h2.3v3.88H755.5zM771.25 126.92h2.3v3.88H771.25zM717.25 134.58h2.3v3.88H717.25zM724 134.58h4.55v3.88H724zM771.25 134.58h4.55v3.88H771.25zM751 138.41h6.8v3.88H751zM762.25 138.41h2.3v3.88H762.25zM773.5 142.24h4.55v3.88H773.5zM737.5 146.07h2.3v3.88H737.5zM751 146.07h2.3v3.88H751zM775.75 146.07h4.55v3.88H775.75zM737.5 149.9h2.3v3.88H737.5zM735.25 153.73h4.55v3.88H735.25zM751 153.73h2.3v3.88H751zM773.5 153.73h2.3v3.88H773.5zM778 153.73h6.8v3.88H778zM787 153.73h2.3v3.88H787zM735.25 157.56h2.3v3.88H735.25zM746.5 157.56h2.3v3.88H746.5zM769 157.56h4.55v3.88H769zM780.25 157.56h4.55v3.88H780.25zM816.25 157.56h2.3v3.88H816.25zM730.75 161.39h2.3v3.88H730.75zM739.75 161.39h4.55v3.88H739.75zM769 161.39h4.55v3.88H769zM778 161.39h4.55v3.88H778zM816.25 161.39h2.3v3.88H816.25zM730.75 165.22h4.55v3.88H730.75zM823 172.88h2.3v3.88H823zM827.5 180.54h2.3v3.88H827.5zM829.75 184.37h2.3v3.88H829.75zM847.75 192.03h2.3v3.88H847.75zM870.25 192.03h2.3v3.88H870.25zM874.75 192.03h1.3v3.88H874.75zM863.5 199.69h2.3v3.88H863.5zM850 207.35h2.3v3.88H850zM852.25 211.18h2.3v3.88H852.25zM861.25 218.84h4.55v3.88H861.25zM872.5 218.84h2.3v3.88H872.5zM872.5 222.67h2.3v3.88H872.5zM841 237.99h2.3v3.88H841zM854.5 241.82h2.3v3.88H854.5zM859 241.82h2.3v3.88H859zM841 245.65h2.3v3.88H841zM850 249.48h2.3v3.88H850z"/>
<path fill="#c6f200" d="M760 107.77h2.3v3.88H760zM764.5 107.77h2.3v3.88H764.5zM764.5 111.6h4.55v3.88H764.5zM771.25 111.6h2.3v3.88H771.25zM699.25 115.43h2.3v3.88H699.25zM753.25 115.43h2.3v3.88H753.25zM771.25 115.43h2.3v3.88H771.25zM701.5 119.26h2.3v3.88H701.5zM773.5 123.09h2.3v3.88H773.5zM706 126.92h2.3v3.88H706zM710.5 130.75h2.3v3.88H710.5zM753.25 130.75h2.3v3.88H753.25zM771.25 130.75h4.55v3.88H771.25zM728.5 134.58h2.3v3.88H728.5zM753.25 134.58h2.3v3.88H753.25zM733 138.41h4.55v3.88H733zM771.25 138.41h2.3v3.88H771.25zM775.75 138.41h2.3v3.88H775.75zM739.75 142.24h2.3v3.88H739.75zM746.5 142.24h2.3v3.88H746.5zM739.75 146.07h6.8v3.88H739.75zM755.5 146.07h2.3v3.88H755.5zM742 149.9h4.55v3.88H742zM751 149.9h6.8v3.88H751zM778 149.9h2.3v3.88H778zM782.5 149.9h2.3v3.88H782.5zM789.25 149.9h2.3v3.88H789.25zM742 153.73h2.3v3.88H742zM737.5 157.56h2.3v3.88H737.5zM744.25 157.56h2.3v3.88H744.25zM773.5 157.56h4.55v3.88H773.5zM733 161.39h6.8v3.88H733zM820.75 169.05h2.3v3.88H820.75zM827.5 176.71h2.3v3.88H827.5zM838.75 192.03h2.3v3.88H838.75zM845.5 192.03h2.3v3.88H845.5zM854.5 192.03h2.3v3.88H854.5zM856.75 203.52h6.8v3.88H856.75zM868 203.52h2.3v3.88H868zM865.75 218.84h6.8v3.88H865.75zM843.25 237.99h6.8v3.88H843.25zM841 241.82h2.3v3.88H841z"/>
<path fill="#d7f000" d="M679 103.94h2.3v3.88H679zM753.25 111.6h2.3v3.88H753.25zM773.5 119.26h2.3v3.88H773.5zM703.75 123.09h4.55v3.88H703.75zM753.25 126.92h2.3v3.88H753.25zM773.5 126.92h2.3v3.88H773.5zM717.25 130.75h2.3v3.88H717.25zM751 130.75h2.3v3.88H751zM748.75 134.58h4.55v3.88H748.75zM778 134.58h2.3v3.88H778zM739.75 138.41h2.3v3.88H739.75zM748.75 138.41h2.3v3.88H748.75zM737.5 142.24h2.3v3.88H737.5zM742 142.24h2.3v3.88H742zM748.75 142.24h2.3v3.88H748.75zM753.25 142.24h4.55v3.88H753.25zM778 142.24h9.05v3.88H778zM746.5 146.07h4.55v3.88H746.5zM780.25 146.07h2.3v3.88H780.25zM739.75 149.9h2.3v3.88H739.75zM746.5 149.9h4.55v3.88H746.5zM787 149.9h2.3v3.88H787zM798.25 149.9h2.3v3.88H798.25zM802.75 149.9h2.3v3.88H802.75zM811.75 149.9h4.55v3.88H811.75zM744.25 153.73h4.55v3.88H744.25zM784.75 153.73h2.3v3.88H784.75zM739.75 157.56h4.55v3.88H739.75zM778 157.56h2.3v3.88H778zM818.5 161.39h2.3v3.88H818.5zM820.75 165.22h2.3v3.88H820.75zM825.25 172.88h2.3v3.88H825.25zM829.75 180.54h2.3v3.88H829.75zM832 184.37h2.3v3.88H832zM836.5 188.2h2.3v3.88H836.5zM859 188.2h2.3v3.88H859zM868 188.2h2.3v3.88H868zM874.75 188.2h1.3v3.88H874.75zM865.75 203.52h2.3v3.88H865.75zM870.25 203.52h2.3v3.88H870.25zM854.5 211.18h2.3v3.88H854.5zM854.5 215.01h6.8v3.88H854.5zM874.75 218.84h1.3v3.88H874.75zM850 237.99h4.55v3.88H850zM852.25 241.82h2.3v3.88H852.25zM845.5 245.65h2.3v3.88H845.5zM852.25 245.65h4.55v3.88H852.25z"/>
<path fill="#e8ee00" d="M753.25 107.77h4.55v3.88H753.25zM762.25 107.77h2.3v3.88H762.25zM766.75 107.77h4.55v3.88H766.75zM694.75 111.6h4.55v3.88H694.75zM748.75 115.43h2.3v3.88H748.75zM773.5 115.43h6.8v3.88H773.5zM703.75 119.26h2.3v3.88H703.75zM753.25 119.26h2.3v3.88H753.25zM775.75 119.26h2.3v3.88H775.75zM753.25 123.09h2.3v3.88H753.25zM775.75 123.09h2.3v3.88H775.75zM708.25 126.92h2.3v3.88H708.25zM751 126.92h2.3v3.88H751zM712.75 130.75h2.3v3.88H712.75zM719.5 130.75h2.3v3.88H719.5zM733 134.58h4.55v3.88H733zM775.75 134.58h2.3v3.88H775.75zM780.25 134.58h2.3v3.88H780.25zM784.75 134.58h2.3v3.88H784.75zM737.5 138.41h2.3v3.88H737.5zM742 138.41h2.3v3.88H742zM746.5 138.41h2.3v3.88H746.5zM778 138.41h4.55v3.88H778zM751 142.24h2.3v3.88H751zM753.25 146.07h2.3v3.88H753.25zM782.5 146.07h2.3v3.88H782.5zM787 146.07h2.3v3.88H787zM780.25 149.9h2.3v3.88H780.25zM784.75 149.9h2.3v3.88H784.75zM791.5 149.9h6.8v3.88H791.5zM805 149.9h2.3v3.88H805zM809.5 149.9h2.3v3.88H809.5zM739.75 153.73h2.3v3.88H739.75zM816.25 153.73h2.3v3.88H816.25zM823 169.05h2.3v3.88H823zM829.75 176.71h2.3v3.88H829.75zM832 180.54h2.3v3.88H832zM834.25 184.37h2.3v3.88H834.25zM838.75 188.2h6.8v3.88H838.75zM861.25 188.2h4.55v3.88H861.25zM870.25 188.2h4.55v3.88H870.25zM854.5 203.52h2.3v3.88H854.5zM863.5 203.52h2.3v3.88H863.5zM872.5 203.52h3.55v3.88H872.5zM854.5 207.35h2.3v3.88H854.5zM861.25 207.35h2.3v3.88H861.25zM856.75 211.18h2.3v3.88H856.75zM845.5 241.82h4.55v3.88H845.5zM843.25 245.65h2.3v3.88H843.25zM847.75 245.65h2.3v3.88H847.75z"/>
<path fill="#faeb00" d="M681.25 103.94h2.3v3.88H681.25zM807.25 103.94h2.3v3.88H807.25zM688 107.77h6.8v3.88H688zM757.75 107.77h2.3v3.88H757.75zM771.25 107.77h2.3v3.88H771.25zM780.25 107.77h2.3v3.88H780.25zM751 111.6h2.3v3.88H751zM773.5 111.6h4.55v3.88H773.5zM789.25 111.6h4.55v3.88H789.25zM701.5 115.43h2.3v3.88H701.5zM751 115.43h2.3v3.88H751zM706 119.26h2.3v3.88H706zM751 119.26h2.3v3.88H751zM780.25 119.26h4.55v3.88H780.25zM748.75 123.09h4.55v3.88H748.75zM780.25 123.09h2.3v3.88H780.25zM787 123.09h2.3v3.88H787zM775.75 126.92h2.3v3.88H775.75zM780.25 126.92h2.3v3.88H780.25zM744.25 130.75h4.55v3.88H744.25zM775.75 130.75h4.55v3.88H775.75zM782.5 130.75h2.3v3.88H782.5zM737.5 134.58h2.3v3.88H737.5zM742 134.58h2.3v3.88H742zM746.5 134.58h2.3v3.88H746.5zM782.5 134.58h2.3v3.88H782.5zM787 134.58h2.3v3.88H787zM744.25 138.41h2.3v3.88H744.25zM782.5 138.41h4.55v3.88H782.5zM744.25 142.24h2.3v3.88H744.25zM784.75 146.07h2.3v3.88H784.75zM789.25 146.07h2.3v3.88H789.25zM793.75 146.07h2.3v3.88H793.75zM800.5 149.9h2.3v3.88H800.5zM807.25 149.9h2.3v3.88H807.25zM816.25 149.9h2.3v3.88H816.25zM820.75 149.9h2.3v3.88H820.75zM748.75 153.73h2.3v3.88H748.75zM818.5 153.73h2.3v3.88H818.5zM818.5 157.56h2.3v3.88H818.5zM847.75 188.2h2.3v3.88H847.75zM854.5 188.2h2.3v3.88H854.5zM865.75 188.2h2.3v3.88H865.75zM870.25 207.35h2.3v3.88H870.25zM861.25 215.01h2.3v3.88H861.25zM865.75 215.01h4.55v3.88H865.75zM872.5 215.01h3.55v3.88H872.5zM843.25 241.82h2.3v3.88H843.25zM850 241.82h2.3v3.88H850zM850 245.65h2.3v3.88H850z"/>
<path fill="#fbdd00" d="M802.75 96.28h6.8v3.88H802.75zM805 100.11h2.3v3.88H805zM809.5 100.11h2.3v3.88H809.5zM683.5 103.94h4.55v3.88H683.5zM802.75 103.94h2.3v3.88H802.75zM809.5 103.94h2.3v3.88H809.5zM694.75 107.77h2.3v3.88H694.75zM773.5 107.77h2.3v3.88H773.5zM793.75 107.77h6.8v3.88H793.75zM802.75 107.77h2.3v3.88H802.75zM701.5 111.6h2.3v3.88H701.5zM746.5 111.6h4.55v3.88H746.5zM780.25 111.6h2.3v3.88H780.25zM787 111.6h2.3v3.88H787zM793.75 111.6h9.05v3.88H793.75zM805 111.6h2.3v3.88H805zM703.75 115.43h6.8v3.88H703.75zM712.75 115.43h2.3v3.88H712.75zM787 115.43h2.3v3.88H787zM791.5 115.43h6.8v3.88H791.5zM800.5 115.43h2.3v3.88H800.5zM778 119.26h2.3v3.88H778zM791.5 119.26h9.05v3.88H791.5zM708.25 123.09h2.3v3.88H708.25zM778 123.09h2.3v3.88H778zM782.5 123.09h4.55v3.88H782.5zM793.75 123.09h2.3v3.88H793.75zM744.25 126.92h2.3v3.88H744.25zM748.75 126.92h2.3v3.88H748.75zM782.5 126.92h2.3v3.88H782.5zM789.25 126.92h2.3v3.88H789.25zM715 130.75h2.3v3.88H715zM724 130.75h2.3v3.88H724zM784.75 130.75h2.3v3.88H784.75zM730.75 134.58h2.3v3.88H730.75zM739.75 134.58h2.3v3.88H739.75zM744.25 134.58h2.3v3.88H744.25zM791.5 134.58h2.3v3.88H791.5zM787 138.41h4.55v3.88H787zM791.5 142.24h2.3v3.88H791.5zM796 142.24h2.3v3.88H796zM791.5 146.07h2.3v3.88H791.5zM798.25 146.07h2.3v3.88H798.25zM818.5 149.9h2.3v3.88H818.5zM820.75 153.73h2.3v3.88H820.75zM827.5 172.88h2.3v3.88H827.5zM832 176.71h2.3v3.88H832zM834.25 180.54h2.3v3.88H834.25zM836.5 184.37h2.3v3.88H836.5zM845.5 188.2h2.3v3.88H845.5zM850 188.2h4.55v3.88H850zM856.75 188.2h2.3v3.88H856.75zM859 207.35h2.3v3.88H859zM872.5 207.35h3.55v3.88H872.5zM863.5 211.18h4.55v3.88H863.5zM870.25 211.18h2.3v3.88H870.25zM863.5 215.01h2.3v3.88H863.5zM870.25 215.01h2.3v3.88H870.25z"/>
<path fill="#fcd000" d="M802.75 88.62h4.55v3.88H802.75zM805 92.45h4.55v3.88H805zM796 100.11h4.55v3.88H796zM807.25 100.11h2.3v3.88H807.25zM811.75 100.11h2.3v3.88H811.75zM688 103.94h4.55v3.88H688zM751 103.94h2.3v3.88H751zM762.25 103.94h2.3v3.88H762.25zM793.75 103.94h2.3v3.88H793.75zM798.25 103.94h4.55v3.88H798.25zM805 103.94h2.3v3.88H805zM811.75 103.94h2.3v3.88H811.75zM699.25 107.77h2.3v3.88H699.25zM746.5 107.77h6.8v3.88H746.5zM775.75 107.77h4.55v3.88H775.75zM784.75 107.77h9.05v3.88H784.75zM800.5 107.77h2.3v3.88H800.5zM805 107.77h6.8v3.88H805zM699.25 111.6h2.3v3.88H699.25zM703.75 111.6h6.8v3.88H703.75zM712.75 111.6h2.3v3.88H712.75zM778 111.6h2.3v3.88H778zM782.5 111.6h4.55v3.88H782.5zM802.75 111.6h2.3v3.88H802.75zM715 115.43h2.3v3.88H715zM782.5 115.43h4.55v3.88H782.5zM789.25 115.43h2.3v3.88H789.25zM798.25 115.43h2.3v3.88H798.25zM802.75 115.43h2.3v3.88H802.75zM708.25 119.26h2.3v3.88H708.25zM719.5 119.26h2.3v3.88H719.5zM748.75 119.26h2.3v3.88H748.75zM784.75 119.26h6.8v3.88H784.75zM789.25 123.09h4.55v3.88H789.25zM796 123.09h4.55v3.88H796zM715 126.92h2.3v3.88H715zM719.5 126.92h2.3v3.88H719.5zM778 126.92h2.3v3.88H778zM784.75 126.92h4.55v3.88H784.75zM791.5 126.92h2.3v3.88H791.5zM721.75 130.75h2.3v3.88H721.75zM726.25 130.75h2.3v3.88H726.25zM730.75 130.75h2.3v3.88H730.75zM739.75 130.75h2.3v3.88H739.75zM748.75 130.75h2.3v3.88H748.75zM780.25 130.75h2.3v3.88H780.25zM787 130.75h9.05v3.88H787zM789.25 134.58h2.3v3.88H789.25zM793.75 134.58h2.3v3.88H793.75zM791.5 138.41h4.55v3.88H791.5zM787 142.24h4.55v3.88H787zM793.75 142.24h2.3v3.88H793.75zM796 146.07h2.3v3.88H796zM802.75 146.07h2.3v3.88H802.75zM809.5 146.07h2.3v3.88H809.5zM816.25 146.07h2.3v3.88H816.25zM823 149.9h2.3v3.88H823zM820.75 157.56h2.3v3.88H820.75zM820.75 161.39h2.3v3.88H820.75zM825.25 169.05h2.3v3.88H825.25zM836.5 180.54h2.3v3.88H836.5zM838.75 184.37h4.55v3.88H838.75zM863.5 184.37h2.3v3.88H863.5zM868 184.37h2.3v3.88H868zM856.75 207.35h2.3v3.88H856.75zM863.5 207.35h2.3v3.88H863.5zM868 207.35h2.3v3.88H868z"/>
<path fill="#fec200" d="M681.25 65.64h2.3v3.88H681.25zM685.75 69.47h4.55v3.88H685.75zM726.25 80.96h2.3v3.88H726.25zM807.25 84.79h2.3v3.88H807.25zM798.25 88.62h2.3v3.88H798.25zM800.5 92.45h4.55v3.88H800.5zM798.25 96.28h4.55v3.88H798.25zM809.5 96.28h2.3v3.88H809.5zM679 100.11h4.55v3.88H679zM791.5 100.11h2.3v3.88H791.5zM800.5 100.11h4.55v3.88H800.5zM724 103.94h2.3v3.88H724zM753.25 103.94h9.05v3.88H753.25zM764.5 103.94h2.3v3.88H764.5zM697 107.77h2.3v3.88H697zM708.25 107.77h2.3v3.88H708.25zM710.5 111.6h2.3v3.88H710.5zM715 111.6h2.3v3.88H715zM721.75 111.6h2.3v3.88H721.75zM710.5 115.43h2.3v3.88H710.5zM724 115.43h2.3v3.88H724zM744.25 115.43h2.3v3.88H744.25zM780.25 115.43h2.3v3.88H780.25zM710.5 119.26h6.8v3.88H710.5zM744.25 119.26h2.3v3.88H744.25zM802.75 119.26h2.3v3.88H802.75zM712.75 126.92h2.3v3.88H712.75zM742 126.92h2.3v3.88H742zM746.5 126.92h2.3v3.88H746.5zM793.75 126.92h2.3v3.88H793.75zM728.5 130.75h2.3v3.88H728.5zM733 130.75h2.3v3.88H733zM796 130.75h2.3v3.88H796zM796 138.41h2.3v3.88H796zM800.5 138.41h4.55v3.88H800.5zM798.25 142.24h4.55v3.88H798.25zM807.25 142.24h4.55v3.88H807.25zM800.5 146.07h2.3v3.88H800.5zM811.75 146.07h4.55v3.88H811.75zM823 146.07h2.3v3.88H823zM825.25 153.73h2.3v3.88H825.25zM823 161.39h2.3v3.88H823zM825.25 165.22h2.3v3.88H825.25zM838.75 180.54h2.3v3.88H838.75zM843.25 184.37h2.3v3.88H843.25zM865.75 184.37h2.3v3.88H865.75zM870.25 184.37h5.8v3.88H870.25zM865.75 207.35h2.3v3.88H865.75zM859 211.18h4.55v3.88H859zM868 211.18h2.3v3.88H868zM872.5 211.18h2.3v3.88H872.5z"/>
<path fill="#ffb400" d="M683.5 65.64h2.3v3.88H683.5zM679 69.47h6.8v3.88H679zM681.25 73.3h6.8v3.88H681.25zM681.25 77.13h2.3v3.88H681.25zM721.75 84.79h2.3v3.88H721.75zM728.5 84.79h4.55v3.88H728.5zM805 84.79h2.3v3.88H805zM807.25 88.62h4.55v3.88H807.25zM796 92.45h4.55v3.88H796zM809.5 92.45h2.3v3.88H809.5zM679 96.28h2.3v3.88H679zM791.5 96.28h2.3v3.88H791.5zM683.5 100.11h2.3v3.88H683.5zM787 100.11h2.3v3.88H787zM793.75 100.11h2.3v3.88H793.75zM692.5 103.94h4.55v3.88H692.5zM726.25 103.94h2.3v3.88H726.25zM742 103.94h6.8v3.88H742zM766.75 103.94h2.3v3.88H766.75zM771.25 103.94h2.3v3.88H771.25zM775.75 103.94h4.55v3.88H775.75zM796 103.94h2.3v3.88H796zM703.75 107.77h2.3v3.88H703.75zM717.25 107.77h2.3v3.88H717.25zM721.75 107.77h2.3v3.88H721.75zM782.5 107.77h2.3v3.88H782.5zM717.25 111.6h4.55v3.88H717.25zM726.25 111.6h4.55v3.88H726.25zM807.25 111.6h2.3v3.88H807.25zM717.25 115.43h2.3v3.88H717.25zM721.75 115.43h2.3v3.88H721.75zM726.25 115.43h2.3v3.88H726.25zM742 115.43h2.3v3.88H742zM746.5 115.43h2.3v3.88H746.5zM805 115.43h4.55v3.88H805zM721.75 119.26h4.55v3.88H721.75zM742 119.26h2.3v3.88H742zM800.5 119.26h2.3v3.88H800.5zM805 119.26h2.3v3.88H805zM710.5 123.09h2.3v3.88H710.5zM715 123.09h2.3v3.88H715zM744.25 123.09h4.55v3.88H744.25zM800.5 123.09h4.55v3.88H800.5zM807.25 123.09h2.3v3.88H807.25zM710.5 126.92h2.3v3.88H710.5zM717.25 126.92h2.3v3.88H717.25zM721.75 126.92h2.3v3.88H721.75zM726.25 126.92h6.8v3.88H726.25zM735.25 126.92h2.3v3.88H735.25zM796 126.92h6.8v3.88H796zM735.25 130.75h4.55v3.88H735.25zM742 130.75h2.3v3.88H742zM798.25 130.75h2.3v3.88H798.25zM796 134.58h6.8v3.88H796zM798.25 138.41h2.3v3.88H798.25zM805 138.41h2.3v3.88H805zM809.5 138.41h2.3v3.88H809.5zM802.75 142.24h4.55v3.88H802.75zM814 142.24h2.3v3.88H814zM805 146.07h4.55v3.88H805zM818.5 146.07h4.55v3.88H818.5zM827.5 149.9h2.3v3.88H827.5zM823 153.73h2.3v3.88H823zM823 157.56h2.3v3.88H823zM823 165.22h2.3v3.88H823zM829.75 169.05h2.3v3.88H829.75zM829.75 172.88h4.55v3.88H829.75zM834.25 176.71h2.3v3.88H834.25zM854.5 180.54h2.3v3.88H854.5zM845.5 184.37h4.55v3.88H845.5zM852.25 184.37h6.8v3.88H852.25zM874.75 211.18h1.3v3.88H874.75z"/>
<path fill="#fbaa00" d="M679 54.15h2.3v3.88H679zM683.5 54.15h2.3v3.88H683.5zM683.5 57.98h2.3v3.88H683.5zM685.75 61.81h2.3v3.88H685.75zM679 65.64h2.3v3.88H679zM685.75 65.64h2.3v3.88H685.75zM679 73.3h2.3v3.88H679zM685.75 77.13h2.3v3.88H685.75zM679 80.96h2.3v3.88H679zM728.5 80.96h2.3v3.88H728.5zM733 80.96h2.3v3.88H733zM802.75 80.96h2.3v3.88H802.75zM724 84.79h4.55v3.88H724zM733 84.79h2.3v3.88H733zM800.5 84.79h2.3v3.88H800.5zM681.25 88.62h2.3v3.88H681.25zM719.5 88.62h6.8v3.88H719.5zM728.5 88.62h2.3v3.88H728.5zM739.75 88.62h2.3v3.88H739.75zM800.5 88.62h2.3v3.88H800.5zM733 92.45h2.3v3.88H733zM793.75 92.45h2.3v3.88H793.75zM681.25 96.28h2.3v3.88H681.25zM728.5 96.28h2.3v3.88H728.5zM735.25 96.28h2.3v3.88H735.25zM793.75 96.28h4.55v3.88H793.75zM811.75 96.28h4.55v3.88H811.75zM688 100.11h2.3v3.88H688zM724 100.11h2.3v3.88H724zM771.25 100.11h4.55v3.88H771.25zM784.75 100.11h2.3v3.88H784.75zM789.25 100.11h2.3v3.88H789.25zM814 100.11h2.3v3.88H814zM697 103.94h4.55v3.88H697zM728.5 103.94h4.55v3.88H728.5zM748.75 103.94h2.3v3.88H748.75zM769 103.94h2.3v3.88H769zM773.5 103.94h2.3v3.88H773.5zM782.5 103.94h6.8v3.88H782.5zM791.5 103.94h2.3v3.88H791.5zM814 103.94h2.3v3.88H814zM706 107.77h2.3v3.88H706zM719.5 107.77h2.3v3.88H719.5zM724 107.77h2.3v3.88H724zM742 107.77h4.55v3.88H742zM811.75 107.77h6.8v3.88H811.75zM724 111.6h2.3v3.88H724zM730.75 111.6h2.3v3.88H730.75zM735.25 111.6h4.55v3.88H735.25zM744.25 111.6h2.3v3.88H744.25zM809.5 111.6h4.55v3.88H809.5zM719.5 115.43h2.3v3.88H719.5zM728.5 115.43h4.55v3.88H728.5zM739.75 115.43h2.3v3.88H739.75zM809.5 115.43h4.55v3.88H809.5zM717.25 119.26h2.3v3.88H717.25zM728.5 119.26h2.3v3.88H728.5zM733 119.26h2.3v3.88H733zM807.25 119.26h4.55v3.88H807.25zM712.75 123.09h2.3v3.88H712.75zM717.25 123.09h9.05v3.88H717.25zM742 123.09h2.3v3.88H742zM809.5 123.09h2.3v3.88H809.5zM724 126.92h2.3v3.88H724zM733 126.92h2.3v3.88H733zM739.75 126.92h2.3v3.88H739.75zM802.75 126.92h4.55v3.88H802.75zM800.5 130.75h6.8v3.88H800.5zM802.75 134.58h4.55v3.88H802.75zM807.25 138.41h2.3v3.88H807.25zM811.75 138.41h2.3v3.88H811.75zM820.75 142.24h2.3v3.88H820.75zM825.25 146.07h2.3v3.88H825.25zM825.25 149.9h2.3v3.88H825.25zM829.75 161.39h2.3v3.88H829.75zM827.5 165.22h2.3v3.88H827.5zM827.5 169.05h2.3v3.88H827.5zM836.5 172.88h2.3v3.88H836.5zM836.5 176.71h4.55v3.88H836.5zM841 180.54h2.3v3.88H841zM850 180.54h2.3v3.88H850zM850 184.37h2.3v3.88H850zM859 184.37h4.55v3.88H859z"/>
<path fill="#f8a000" d="M679 50.32h2.3v3.88H679zM685.75 54.15h2.3v3.88H685.75zM679 57.98h4.55v3.88H679zM685.75 57.98h2.3v3.88H685.75zM679 61.81h2.3v3.88H679zM683.5 61.81h2.3v3.88H683.5zM688 73.3h2.3v3.88H688zM679 77.13h2.3v3.88H679zM683.5 77.13h2.3v3.88H683.5zM688 77.13h6.8v3.88H688zM683.5 80.96h2.3v3.88H683.5zM688 80.96h2.3v3.88H688zM694.75 80.96h2.3v3.88H694.75zM719.5 80.96h6.8v3.88H719.5zM730.75 80.96h2.3v3.88H730.75zM805 80.96h2.3v3.88H805zM809.5 80.96h2.3v3.88H809.5zM688 84.79h4.55v3.88H688zM710.5 84.79h4.55v3.88H710.5zM717.25 84.79h4.55v3.88H717.25zM737.5 84.79h2.3v3.88H737.5zM802.75 84.79h2.3v3.88H802.75zM809.5 84.79h2.3v3.88H809.5zM679 88.62h2.3v3.88H679zM717.25 88.62h2.3v3.88H717.25zM726.25 88.62h2.3v3.88H726.25zM733 88.62h4.55v3.88H733zM811.75 88.62h2.3v3.88H811.75zM679 92.45h2.3v3.88H679zM726.25 92.45h6.8v3.88H726.25zM791.5 92.45h2.3v3.88H791.5zM811.75 92.45h4.55v3.88H811.75zM683.5 96.28h2.3v3.88H683.5zM726.25 96.28h2.3v3.88H726.25zM744.25 96.28h4.55v3.88H744.25zM751 96.28h2.3v3.88H751zM760 96.28h2.3v3.88H760zM780.25 96.28h2.3v3.88H780.25zM784.75 96.28h2.3v3.88H784.75zM789.25 96.28h2.3v3.88H789.25zM685.75 100.11h2.3v3.88H685.75zM690.25 100.11h2.3v3.88H690.25zM721.75 100.11h2.3v3.88H721.75zM726.25 100.11h6.8v3.88H726.25zM735.25 100.11h4.55v3.88H735.25zM742 100.11h2.3v3.88H742zM746.5 100.11h13.55v3.88H746.5zM764.5 100.11h2.3v3.88H764.5zM780.25 100.11h4.55v3.88H780.25zM733 103.94h9.05v3.88H733zM780.25 103.94h2.3v3.88H780.25zM789.25 103.94h2.3v3.88H789.25zM701.5 107.77h2.3v3.88H701.5zM712.75 107.77h2.3v3.88H712.75zM733 107.77h2.3v3.88H733zM739.75 107.77h2.3v3.88H739.75zM742 111.6h2.3v3.88H742zM814 111.6h2.3v3.88H814zM733 115.43h2.3v3.88H733zM737.5 115.43h2.3v3.88H737.5zM726.25 119.26h2.3v3.88H726.25zM730.75 119.26h2.3v3.88H730.75zM735.25 119.26h4.55v3.88H735.25zM746.5 119.26h2.3v3.88H746.5zM726.25 123.09h15.8v3.88H726.25zM805 123.09h2.3v3.88H805zM847.75 123.09h2.3v3.88H847.75zM737.5 126.92h2.3v3.88H737.5zM807.25 126.92h2.3v3.88H807.25zM809.5 130.75h2.3v3.88H809.5zM807.25 134.58h4.55v3.88H807.25zM814 138.41h2.3v3.88H814zM847.75 138.41h2.3v3.88H847.75zM856.75 138.41h2.3v3.88H856.75zM811.75 142.24h2.3v3.88H811.75zM816.25 142.24h2.3v3.88H816.25zM868 146.07h2.3v3.88H868zM827.5 153.73h4.55v3.88H827.5zM825.25 161.39h2.3v3.88H825.25zM841 176.71h4.55v3.88H841zM847.75 176.71h2.3v3.88H847.75zM843.25 180.54h2.3v3.88H843.25zM847.75 180.54h2.3v3.88H847.75zM856.75 180.54h2.3v3.88H856.75zM863.5 180.54h2.3v3.88H863.5zM868 180.54h2.3v3.88H868zM874.75 180.54h1.3v3.88H874.75z"/>
<path fill="#f49600" d="M679 46.49h2.3v3.88H679zM681.25 54.15h2.3v3.88H681.25zM688 57.98h2.3v3.88H688zM868 57.98h2.3v3.88H868zM681.25 61.81h2.3v3.88H681.25zM688 61.81h2.3v3.88H688zM688 65.64h2.3v3.88H688zM690.25 69.47h2.3v3.88H690.25zM690.25 73.3h2.3v3.88H690.25zM681.25 80.96h2.3v3.88H681.25zM685.75 80.96h2.3v3.88H685.75zM690.25 80.96h4.55v3.88H690.25zM697 80.96h4.55v3.88H697zM717.25 80.96h2.3v3.88H717.25zM735.25 80.96h2.3v3.88H735.25zM807.25 80.96h2.3v3.88H807.25zM681.25 84.79h6.8v3.88H681.25zM694.75 84.79h2.3v3.88H694.75zM699.25 84.79h2.3v3.88H699.25zM706 84.79h4.55v3.88H706zM735.25 84.79h2.3v3.88H735.25zM796 84.79h4.55v3.88H796zM683.5 88.62h9.05v3.88H683.5zM710.5 88.62h2.3v3.88H710.5zM715 88.62h2.3v3.88H715zM730.75 88.62h2.3v3.88H730.75zM737.5 88.62h2.3v3.88H737.5zM742 88.62h2.3v3.88H742zM796 88.62h2.3v3.88H796zM681.25 92.45h4.55v3.88H681.25zM717.25 92.45h9.05v3.88H717.25zM735.25 92.45h4.55v3.88H735.25zM742 92.45h2.3v3.88H742zM762.25 92.45h2.3v3.88H762.25zM787 92.45h4.55v3.88H787zM874.75 92.45h1.3v3.88H874.75zM685.75 96.28h2.3v3.88H685.75zM721.75 96.28h4.55v3.88H721.75zM730.75 96.28h4.55v3.88H730.75zM737.5 96.28h4.55v3.88H737.5zM753.25 96.28h6.8v3.88H753.25zM787 96.28h2.3v3.88H787zM816.25 96.28h2.3v3.88H816.25zM694.75 100.11h4.55v3.88H694.75zM719.5 100.11h2.3v3.88H719.5zM733 100.11h2.3v3.88H733zM744.25 100.11h2.3v3.88H744.25zM760 100.11h4.55v3.88H760zM766.75 100.11h4.55v3.88H766.75zM778 100.11h2.3v3.88H778zM816.25 100.11h2.3v3.88H816.25zM874.75 100.11h1.3v3.88H874.75zM701.5 103.94h2.3v3.88H701.5zM715 103.94h9.05v3.88H715zM816.25 103.94h2.3v3.88H816.25zM710.5 107.77h2.3v3.88H710.5zM715 107.77h2.3v3.88H715zM726.25 107.77h6.8v3.88H726.25zM735.25 107.77h4.55v3.88H735.25zM872.5 107.77h2.3v3.88H872.5zM733 111.6h2.3v3.88H733zM739.75 111.6h2.3v3.88H739.75zM847.75 111.6h2.3v3.88H847.75zM872.5 111.6h2.3v3.88H872.5zM735.25 115.43h2.3v3.88H735.25zM814 115.43h4.55v3.88H814zM739.75 119.26h2.3v3.88H739.75zM814 119.26h2.3v3.88H814zM811.75 123.09h4.55v3.88H811.75zM852.25 123.09h2.3v3.88H852.25zM809.5 126.92h2.3v3.88H809.5zM845.5 126.92h2.3v3.88H845.5zM850 126.92h4.55v3.88H850zM807.25 130.75h2.3v3.88H807.25zM836.5 130.75h2.3v3.88H836.5zM845.5 130.75h2.3v3.88H845.5zM872.5 130.75h2.3v3.88H872.5zM838.75 134.58h2.3v3.88H838.75zM843.25 134.58h2.3v3.88H843.25zM868 134.58h2.3v3.88H868zM834.25 138.41h2.3v3.88H834.25zM843.25 138.41h2.3v3.88H843.25zM865.75 138.41h2.3v3.88H865.75zM870.25 138.41h2.3v3.88H870.25zM818.5 142.24h2.3v3.88H818.5zM823 142.24h4.55v3.88H823zM829.75 142.24h2.3v3.88H829.75zM843.25 142.24h2.3v3.88H843.25zM847.75 142.24h2.3v3.88H847.75zM865.75 142.24h2.3v3.88H865.75zM827.5 146.07h6.8v3.88H827.5zM845.5 146.07h2.3v3.88H845.5zM872.5 146.07h2.3v3.88H872.5zM829.75 149.9h2.3v3.88H829.75zM854.5 149.9h2.3v3.88H854.5zM832 153.73h2.3v3.88H832zM856.75 153.73h2.3v3.88H856.75zM861.25 153.73h2.3v3.88H861.25zM865.75 153.73h2.3v3.88H865.75zM825.25 157.56h2.3v3.88H825.25zM834.25 172.88h2.3v3.88H834.25zM843.25 172.88h2.3v3.88H843.25zM845.5 176.71h2.3v3.88H845.5zM845.5 180.54h2.3v3.88H845.5zM852.25 180.54h2.3v3.88H852.25zM859 180.54h2.3v3.88H859zM865.75 180.54h2.3v3.88H865.75zM870.25 180.54h4.55v3.88H870.25z"/>
<path fill="#f08c00" d="M681.25 50.32h2.3v3.88H681.25zM868 54.15h2.3v3.88H868zM690.25 65.64h2.3v3.88H690.25zM692.5 73.3h2.3v3.88H692.5zM694.75 77.13h2.3v3.88H694.75zM733 77.13h2.3v3.88H733zM805 77.13h2.3v3.88H805zM703.75 80.96h2.3v3.88H703.75zM800.5 80.96h2.3v3.88H800.5zM679 84.79h2.3v3.88H679zM692.5 84.79h2.3v3.88H692.5zM701.5 84.79h2.3v3.88H701.5zM715 84.79h2.3v3.88H715zM739.75 84.79h2.3v3.88H739.75zM744.25 84.79h4.55v3.88H744.25zM793.75 84.79h2.3v3.88H793.75zM692.5 88.62h2.3v3.88H692.5zM699.25 88.62h2.3v3.88H699.25zM706 88.62h4.55v3.88H706zM791.5 88.62h4.55v3.88H791.5zM685.75 92.45h2.3v3.88H685.75zM712.75 92.45h2.3v3.88H712.75zM739.75 92.45h2.3v3.88H739.75zM744.25 92.45h9.05v3.88H744.25zM757.75 92.45h2.3v3.88H757.75zM780.25 92.45h2.3v3.88H780.25zM784.75 92.45h2.3v3.88H784.75zM688 96.28h6.8v3.88H688zM717.25 96.28h4.55v3.88H717.25zM742 96.28h2.3v3.88H742zM748.75 96.28h2.3v3.88H748.75zM762.25 96.28h2.3v3.88H762.25zM771.25 96.28h2.3v3.88H771.25zM782.5 96.28h2.3v3.88H782.5zM818.5 96.28h2.3v3.88H818.5zM874.75 96.28h1.3v3.88H874.75zM692.5 100.11h2.3v3.88H692.5zM703.75 100.11h2.3v3.88H703.75zM717.25 100.11h2.3v3.88H717.25zM739.75 100.11h2.3v3.88H739.75zM775.75 100.11h2.3v3.88H775.75zM818.5 100.11h2.3v3.88H818.5zM870.25 100.11h4.55v3.88H870.25zM703.75 103.94h2.3v3.88H703.75zM818.5 103.94h2.3v3.88H818.5zM872.5 103.94h2.3v3.88H872.5zM818.5 107.77h2.3v3.88H818.5zM850 107.77h2.3v3.88H850zM870.25 107.77h2.3v3.88H870.25zM874.75 107.77h1.3v3.88H874.75zM816.25 111.6h4.55v3.88H816.25zM874.75 111.6h1.3v3.88H874.75zM843.25 115.43h2.3v3.88H843.25zM847.75 115.43h2.3v3.88H847.75zM861.25 115.43h2.3v3.88H861.25zM865.75 115.43h2.3v3.88H865.75zM872.5 115.43h3.55v3.88H872.5zM811.75 119.26h2.3v3.88H811.75zM816.25 119.26h2.3v3.88H816.25zM847.75 119.26h2.3v3.88H847.75zM852.25 119.26h2.3v3.88H852.25zM856.75 119.26h2.3v3.88H856.75zM865.75 119.26h2.3v3.88H865.75zM843.25 123.09h2.3v3.88H843.25zM850 123.09h2.3v3.88H850zM859 123.09h2.3v3.88H859zM863.5 123.09h2.3v3.88H863.5zM870.25 123.09h2.3v3.88H870.25zM874.75 123.09h1.3v3.88H874.75zM811.75 126.92h2.3v3.88H811.75zM841 126.92h2.3v3.88H841zM847.75 126.92h2.3v3.88H847.75zM870.25 126.92h2.3v3.88H870.25zM814 130.75h2.3v3.88H814zM818.5 130.75h2.3v3.88H818.5zM841 130.75h4.55v3.88H841zM847.75 130.75h6.8v3.88H847.75zM856.75 130.75h2.3v3.88H856.75zM861.25 130.75h2.3v3.88H861.25zM829.75 134.58h4.55v3.88H829.75zM847.75 134.58h4.55v3.88H847.75zM856.75 134.58h2.3v3.88H856.75zM861.25 134.58h2.3v3.88H861.25zM865.75 134.58h2.3v3.88H865.75zM870.25 134.58h4.55v3.88H870.25zM816.25 138.41h4.55v3.88H816.25zM827.5 138.41h4.55v3.88H827.5zM838.75 138.41h2.3v3.88H838.75zM850 138.41h2.3v3.88H850zM854.5 138.41h2.3v3.88H854.5zM859 138.41h6.8v3.88H859zM868 138.41h2.3v3.88H868zM874.75 138.41h1.3v3.88H874.75zM827.5 142.24h2.3v3.88H827.5zM832 142.24h4.55v3.88H832zM845.5 142.24h2.3v3.88H845.5zM850 142.24h4.55v3.88H850zM856.75 142.24h6.8v3.88H856.75zM868 142.24h2.3v3.88H868zM872.5 142.24h2.3v3.88H872.5zM836.5 146.07h2.3v3.88H836.5zM847.75 146.07h15.8v3.88H847.75zM832 149.9h2.3v3.88H832zM836.5 149.9h2.3v3.88H836.5zM841 149.9h2.3v3.88H841zM845.5 149.9h2.3v3.88H845.5zM850 149.9h4.55v3.88H850zM856.75 149.9h2.3v3.88H856.75zM861.25 149.9h2.3v3.88H861.25zM865.75 149.9h2.3v3.88H865.75zM874.75 149.9h1.3v3.88H874.75zM834.25 153.73h2.3v3.88H834.25zM838.75 153.73h2.3v3.88H838.75zM843.25 153.73h2.3v3.88H843.25zM859 153.73h2.3v3.88H859zM870.25 153.73h4.55v3.88H870.25zM827.5 157.56h6.8v3.88H827.5zM845.5 157.56h2.3v3.88H845.5zM859 157.56h2.3v3.88H859zM874.75 157.56h1.3v3.88H874.75zM827.5 161.39h2.3v3.88H827.5zM872.5 161.39h2.3v3.88H872.5zM829.75 165.22h2.3v3.88H829.75zM874.75 165.22h1.3v3.88H874.75zM832 169.05h6.8v3.88H832zM843.25 169.05h2.3v3.88H843.25zM868 169.05h2.3v3.88H868zM841 172.88h2.3v3.88H841zM847.75 172.88h2.3v3.88H847.75zM850 176.71h6.8v3.88H850zM859 176.71h4.55v3.88H859zM872.5 176.71h2.3v3.88H872.5z"/>
<path fill="#eb8100" d="M679 42.66h2.3v3.88H679zM870.25 54.15h2.3v3.88H870.25zM865.75 61.81h2.3v3.88H865.75zM692.5 69.47h2.3v3.88H692.5zM870.25 69.47h2.3v3.88H870.25zM874.75 69.47h1.3v3.88H874.75zM721.75 77.13h9.05v3.88H721.75zM701.5 80.96h2.3v3.88H701.5zM706 80.96h2.3v3.88H706zM737.5 80.96h4.55v3.88H737.5zM798.25 80.96h2.3v3.88H798.25zM870.25 80.96h2.3v3.88H870.25zM697 84.79h2.3v3.88H697zM703.75 84.79h2.3v3.88H703.75zM787 84.79h6.8v3.88H787zM811.75 84.79h2.3v3.88H811.75zM694.75 88.62h2.3v3.88H694.75zM703.75 88.62h2.3v3.88H703.75zM712.75 88.62h2.3v3.88H712.75zM744.25 88.62h6.8v3.88H744.25zM753.25 88.62h2.3v3.88H753.25zM757.75 88.62h4.55v3.88H757.75zM780.25 88.62h2.3v3.88H780.25zM787 88.62h4.55v3.88H787zM874.75 88.62h1.3v3.88H874.75zM690.25 92.45h9.05v3.88H690.25zM703.75 92.45h4.55v3.88H703.75zM715 92.45h2.3v3.88H715zM753.25 92.45h4.55v3.88H753.25zM760 92.45h2.3v3.88H760zM766.75 92.45h2.3v3.88H766.75zM771.25 92.45h2.3v3.88H771.25zM870.25 92.45h4.55v3.88H870.25zM694.75 96.28h2.3v3.88H694.75zM715 96.28h2.3v3.88H715zM764.5 96.28h6.8v3.88H764.5zM773.5 96.28h6.8v3.88H773.5zM870.25 96.28h4.55v3.88H870.25zM699.25 100.11h4.55v3.88H699.25zM854.5 100.11h6.8v3.88H854.5zM865.75 100.11h2.3v3.88H865.75zM712.75 103.94h2.3v3.88H712.75zM852.25 103.94h4.55v3.88H852.25zM874.75 103.94h1.3v3.88H874.75zM820.75 107.77h2.3v3.88H820.75zM843.25 107.77h2.3v3.88H843.25zM852.25 107.77h2.3v3.88H852.25zM859 107.77h2.3v3.88H859zM865.75 107.77h4.55v3.88H865.75zM820.75 111.6h2.3v3.88H820.75zM843.25 111.6h4.55v3.88H843.25zM850 111.6h4.55v3.88H850zM870.25 111.6h2.3v3.88H870.25zM818.5 115.43h2.3v3.88H818.5zM850 115.43h6.8v3.88H850zM859 115.43h2.3v3.88H859zM868 115.43h2.3v3.88H868zM818.5 119.26h4.55v3.88H818.5zM850 119.26h2.3v3.88H850zM854.5 119.26h2.3v3.88H854.5zM859 119.26h2.3v3.88H859zM863.5 119.26h2.3v3.88H863.5zM870.25 119.26h5.8v3.88H870.25zM816.25 123.09h4.55v3.88H816.25zM841 123.09h2.3v3.88H841zM845.5 123.09h2.3v3.88H845.5zM854.5 123.09h4.55v3.88H854.5zM814 126.92h2.3v3.88H814zM823 126.92h2.3v3.88H823zM834.25 126.92h6.8v3.88H834.25zM843.25 126.92h2.3v3.88H843.25zM854.5 126.92h4.55v3.88H854.5zM861.25 126.92h2.3v3.88H861.25zM874.75 126.92h1.3v3.88H874.75zM811.75 130.75h2.3v3.88H811.75zM816.25 130.75h2.3v3.88H816.25zM820.75 130.75h4.55v3.88H820.75zM827.5 130.75h2.3v3.88H827.5zM834.25 130.75h2.3v3.88H834.25zM854.5 130.75h2.3v3.88H854.5zM863.5 130.75h2.3v3.88H863.5zM868 130.75h4.55v3.88H868zM874.75 130.75h1.3v3.88H874.75zM814 134.58h4.55v3.88H814zM823 134.58h4.55v3.88H823zM834.25 134.58h4.55v3.88H834.25zM841 134.58h2.3v3.88H841zM845.5 134.58h2.3v3.88H845.5zM852.25 134.58h4.55v3.88H852.25zM874.75 134.58h1.3v3.88H874.75zM820.75 138.41h2.3v3.88H820.75zM832 138.41h2.3v3.88H832zM836.5 138.41h2.3v3.88H836.5zM841 138.41h2.3v3.88H841zM845.5 138.41h2.3v3.88H845.5zM852.25 138.41h2.3v3.88H852.25zM872.5 138.41h2.3v3.88H872.5zM838.75 142.24h4.55v3.88H838.75zM854.5 142.24h2.3v3.88H854.5zM863.5 142.24h2.3v3.88H863.5zM870.25 142.24h2.3v3.88H870.25zM874.75 142.24h1.3v3.88H874.75zM838.75 146.07h2.3v3.88H838.75zM843.25 146.07h2.3v3.88H843.25zM863.5 146.07h4.55v3.88H863.5zM874.75 146.07h1.3v3.88H874.75zM834.25 149.9h2.3v3.88H834.25zM838.75 149.9h2.3v3.88H838.75zM847.75 149.9h2.3v3.88H847.75zM859 149.9h2.3v3.88H859zM868 149.9h4.55v3.88H868zM841 153.73h2.3v3.88H841zM850 153.73h2.3v3.88H850zM854.5 153.73h2.3v3.88H854.5zM868 153.73h2.3v3.88H868zM874.75 153.73h1.3v3.88H874.75zM834.25 157.56h4.55v3.88H834.25zM841 157.56h2.3v3.88H841zM847.75 157.56h2.3v3.88H847.75zM854.5 157.56h4.55v3.88H854.5zM861.25 157.56h4.55v3.88H861.25zM872.5 157.56h2.3v3.88H872.5zM832 161.39h2.3v3.88H832zM836.5 161.39h2.3v3.88H836.5zM843.25 161.39h2.3v3.88H843.25zM870.25 161.39h2.3v3.88H870.25zM874.75 161.39h1.3v3.88H874.75zM834.25 165.22h2.3v3.88H834.25zM838.75 165.22h4.55v3.88H838.75zM859 165.22h2.3v3.88H859zM863.5 165.22h2.3v3.88H863.5zM838.75 169.05h4.55v3.88H838.75zM847.75 169.05h2.3v3.88H847.75zM856.75 169.05h2.3v3.88H856.75zM865.75 169.05h2.3v3.88H865.75zM870.25 169.05h4.55v3.88H870.25zM838.75 172.88h2.3v3.88H838.75zM845.5 172.88h2.3v3.88H845.5zM850 172.88h2.3v3.88H850zM865.75 172.88h4.55v3.88H865.75zM874.75 172.88h1.3v3.88H874.75zM856.75 176.71h2.3v3.88H856.75zM863.5 176.71h4.55v3.88H863.5zM870.25 176.71h2.3v3.88H870.25zM874.75 176.71h1.3v3.88H874.75zM861.25 180.54h2.3v3.88H861.25z"/>
<path fill="#e67600" d="M681.25 46.49h2.3v3.88H681.25zM872.5 50.32h2.3v3.88H872.5zM688 54.15h2.3v3.88H688zM865.75 54.15h2.3v3.88H865.75zM872.5 54.15h3.55v3.88H872.5zM870.25 57.98h2.3v3.88H870.25zM874.75 57.98h1.3v3.88H874.75zM690.25 61.81h2.3v3.88H690.25zM868 61.81h6.8v3.88H868zM872.5 65.64h3.55v3.88H872.5zM872.5 69.47h2.3v3.88H872.5zM694.75 73.3h2.3v3.88H694.75zM872.5 73.3h2.3v3.88H872.5zM697 77.13h2.3v3.88H697zM730.75 77.13h2.3v3.88H730.75zM802.75 77.13h2.3v3.88H802.75zM807.25 77.13h2.3v3.88H807.25zM868 77.13h4.55v3.88H868zM715 80.96h2.3v3.88H715zM742 80.96h2.3v3.88H742zM787 80.96h2.3v3.88H787zM793.75 80.96h4.55v3.88H793.75zM868 80.96h2.3v3.88H868zM742 84.79h2.3v3.88H742zM748.75 84.79h6.8v3.88H748.75zM780.25 84.79h2.3v3.88H780.25zM784.75 84.79h2.3v3.88H784.75zM868 84.79h6.8v3.88H868zM697 88.62h2.3v3.88H697zM751 88.62h2.3v3.88H751zM755.5 88.62h2.3v3.88H755.5zM764.5 88.62h4.55v3.88H764.5zM773.5 88.62h6.8v3.88H773.5zM782.5 88.62h4.55v3.88H782.5zM814 88.62h2.3v3.88H814zM688 92.45h2.3v3.88H688zM701.5 92.45h2.3v3.88H701.5zM708.25 92.45h4.55v3.88H708.25zM764.5 92.45h2.3v3.88H764.5zM769 92.45h2.3v3.88H769zM773.5 92.45h6.8v3.88H773.5zM782.5 92.45h2.3v3.88H782.5zM816.25 92.45h2.3v3.88H816.25zM865.75 92.45h2.3v3.88H865.75zM699.25 96.28h4.55v3.88H699.25zM820.75 100.11h2.3v3.88H820.75zM852.25 100.11h2.3v3.88H852.25zM868 100.11h2.3v3.88H868zM706 103.94h6.8v3.88H706zM820.75 103.94h4.55v3.88H820.75zM847.75 103.94h2.3v3.88H847.75zM859 103.94h2.3v3.88H859zM865.75 103.94h4.55v3.88H865.75zM861.25 107.77h2.3v3.88H861.25zM823 111.6h2.3v3.88H823zM841 111.6h2.3v3.88H841zM859 111.6h4.55v3.88H859zM868 111.6h2.3v3.88H868zM838.75 115.43h2.3v3.88H838.75zM856.75 115.43h2.3v3.88H856.75zM863.5 115.43h2.3v3.88H863.5zM870.25 115.43h2.3v3.88H870.25zM825.25 119.26h2.3v3.88H825.25zM838.75 119.26h2.3v3.88H838.75zM843.25 119.26h2.3v3.88H843.25zM861.25 119.26h2.3v3.88H861.25zM868 119.26h2.3v3.88H868zM838.75 123.09h2.3v3.88H838.75zM861.25 123.09h2.3v3.88H861.25zM865.75 123.09h4.55v3.88H865.75zM872.5 123.09h2.3v3.88H872.5zM816.25 126.92h2.3v3.88H816.25zM829.75 126.92h4.55v3.88H829.75zM859 126.92h2.3v3.88H859zM868 126.92h2.3v3.88H868zM872.5 126.92h2.3v3.88H872.5zM825.25 130.75h2.3v3.88H825.25zM829.75 130.75h4.55v3.88H829.75zM838.75 130.75h2.3v3.88H838.75zM811.75 134.58h2.3v3.88H811.75zM818.5 134.58h4.55v3.88H818.5zM859 134.58h2.3v3.88H859zM863.5 134.58h2.3v3.88H863.5zM825.25 138.41h2.3v3.88H825.25zM836.5 142.24h2.3v3.88H836.5zM834.25 146.07h2.3v3.88H834.25zM841 146.07h2.3v3.88H841zM870.25 146.07h2.3v3.88H870.25zM843.25 149.9h2.3v3.88H843.25zM863.5 149.9h2.3v3.88H863.5zM872.5 149.9h2.3v3.88H872.5zM836.5 153.73h2.3v3.88H836.5zM847.75 153.73h2.3v3.88H847.75zM863.5 153.73h2.3v3.88H863.5zM843.25 157.56h2.3v3.88H843.25zM850 157.56h4.55v3.88H850zM865.75 157.56h2.3v3.88H865.75zM870.25 157.56h2.3v3.88H870.25zM834.25 161.39h2.3v3.88H834.25zM838.75 161.39h4.55v3.88H838.75zM845.5 161.39h2.3v3.88H845.5zM850 161.39h2.3v3.88H850zM859 161.39h4.55v3.88H859zM868 161.39h2.3v3.88H868zM832 165.22h2.3v3.88H832zM836.5 165.22h2.3v3.88H836.5zM845.5 165.22h13.55v3.88H845.5zM845.5 169.05h2.3v3.88H845.5zM850 169.05h2.3v3.88H850zM854.5 169.05h2.3v3.88H854.5zM859 169.05h2.3v3.88H859zM874.75 169.05h1.3v3.88H874.75zM852.25 172.88h13.55v3.88H852.25zM868 176.71h2.3v3.88H868z"/>
<path fill="#e16a00" d="M874.75 46.49h1.3v3.88H874.75zM683.5 50.32h4.55v3.88H683.5zM874.75 50.32h1.3v3.88H874.75zM690.25 57.98h2.3v3.88H690.25zM865.75 57.98h2.3v3.88H865.75zM872.5 57.98h2.3v3.88H872.5zM874.75 61.81h1.3v3.88H874.75zM692.5 65.64h2.3v3.88H692.5zM868 65.64h4.55v3.88H868zM868 73.3h4.55v3.88H868zM699.25 77.13h2.3v3.88H699.25zM737.5 77.13h2.3v3.88H737.5zM748.75 77.13h2.3v3.88H748.75zM798.25 77.13h4.55v3.88H798.25zM809.5 77.13h2.3v3.88H809.5zM872.5 77.13h3.55v3.88H872.5zM708.25 80.96h6.8v3.88H708.25zM744.25 80.96h9.05v3.88H744.25zM778 80.96h4.55v3.88H778zM789.25 80.96h4.55v3.88H789.25zM811.75 80.96h2.3v3.88H811.75zM872.5 80.96h3.55v3.88H872.5zM755.5 84.79h4.55v3.88H755.5zM766.75 84.79h4.55v3.88H766.75zM773.5 84.79h2.3v3.88H773.5zM778 84.79h2.3v3.88H778zM782.5 84.79h2.3v3.88H782.5zM814 84.79h2.3v3.88H814zM874.75 84.79h1.3v3.88H874.75zM701.5 88.62h2.3v3.88H701.5zM816.25 88.62h2.3v3.88H816.25zM865.75 88.62h4.55v3.88H865.75zM872.5 88.62h2.3v3.88H872.5zM818.5 92.45h2.3v3.88H818.5zM852.25 92.45h2.3v3.88H852.25zM868 92.45h2.3v3.88H868zM697 96.28h2.3v3.88H697zM703.75 96.28h4.55v3.88H703.75zM710.5 96.28h4.55v3.88H710.5zM856.75 96.28h2.3v3.88H856.75zM861.25 96.28h2.3v3.88H861.25zM865.75 96.28h2.3v3.88H865.75zM706 100.11h2.3v3.88H706zM712.75 100.11h2.3v3.88H712.75zM850 100.11h2.3v3.88H850zM861.25 100.11h4.55v3.88H861.25zM825.25 103.94h2.3v3.88H825.25zM841 103.94h2.3v3.88H841zM850 103.94h2.3v3.88H850zM856.75 103.94h2.3v3.88H856.75zM861.25 103.94h4.55v3.88H861.25zM870.25 103.94h2.3v3.88H870.25zM823 107.77h2.3v3.88H823zM841 107.77h2.3v3.88H841zM845.5 107.77h4.55v3.88H845.5zM854.5 107.77h4.55v3.88H854.5zM863.5 107.77h2.3v3.88H863.5zM825.25 111.6h2.3v3.88H825.25zM856.75 111.6h2.3v3.88H856.75zM865.75 111.6h2.3v3.88H865.75zM820.75 115.43h9.05v3.88H820.75zM834.25 115.43h4.55v3.88H834.25zM841 115.43h2.3v3.88H841zM845.5 115.43h2.3v3.88H845.5zM823 119.26h2.3v3.88H823zM832 119.26h2.3v3.88H832zM841 119.26h2.3v3.88H841zM845.5 119.26h2.3v3.88H845.5zM820.75 123.09h4.55v3.88H820.75zM836.5 123.09h2.3v3.88H836.5zM818.5 126.92h4.55v3.88H818.5zM825.25 126.92h2.3v3.88H825.25zM863.5 126.92h4.55v3.88H863.5zM859 130.75h2.3v3.88H859zM865.75 130.75h2.3v3.88H865.75zM827.5 134.58h2.3v3.88H827.5zM845.5 153.73h2.3v3.88H845.5zM852.25 153.73h2.3v3.88H852.25zM838.75 157.56h2.3v3.88H838.75zM868 157.56h2.3v3.88H868zM847.75 161.39h2.3v3.88H847.75zM852.25 161.39h6.8v3.88H852.25zM863.5 161.39h4.55v3.88H863.5zM843.25 165.22h2.3v3.88H843.25zM861.25 165.22h2.3v3.88H861.25zM865.75 165.22h9.05v3.88H865.75zM852.25 169.05h2.3v3.88H852.25zM861.25 169.05h4.55v3.88H861.25zM872.5 172.88h2.3v3.88H872.5z"/>
<path fill="#dc5f00" d="M868 50.32h4.55v3.88H868zM690.25 54.15h2.3v3.88H690.25zM863.5 54.15h2.3v3.88H863.5zM863.5 65.64h4.55v3.88H863.5zM865.75 69.47h4.55v3.88H865.75zM697 73.3h2.3v3.88H697zM861.25 73.3h2.3v3.88H861.25zM874.75 73.3h1.3v3.88H874.75zM701.5 77.13h2.3v3.88H701.5zM719.5 77.13h2.3v3.88H719.5zM739.75 77.13h2.3v3.88H739.75zM793.75 77.13h2.3v3.88H793.75zM859 77.13h4.55v3.88H859zM755.5 80.96h4.55v3.88H755.5zM863.5 80.96h2.3v3.88H863.5zM760 84.79h4.55v3.88H760zM771.25 84.79h2.3v3.88H771.25zM775.75 84.79h2.3v3.88H775.75zM863.5 84.79h2.3v3.88H863.5zM762.25 88.62h2.3v3.88H762.25zM769 88.62h4.55v3.88H769zM870.25 88.62h2.3v3.88H870.25zM699.25 92.45h2.3v3.88H699.25zM856.75 92.45h4.55v3.88H856.75zM863.5 92.45h2.3v3.88H863.5zM708.25 96.28h2.3v3.88H708.25zM820.75 96.28h2.3v3.88H820.75zM850 96.28h2.3v3.88H850zM854.5 96.28h2.3v3.88H854.5zM859 96.28h2.3v3.88H859zM863.5 96.28h2.3v3.88H863.5zM868 96.28h2.3v3.88H868zM715 100.11h2.3v3.88H715zM823 100.11h4.55v3.88H823zM845.5 103.94h2.3v3.88H845.5zM825.25 107.77h2.3v3.88H825.25zM838.75 107.77h2.3v3.88H838.75zM827.5 111.6h2.3v3.88H827.5zM834.25 111.6h6.8v3.88H834.25zM854.5 111.6h2.3v3.88H854.5zM863.5 111.6h2.3v3.88H863.5zM832 115.43h2.3v3.88H832zM827.5 119.26h4.55v3.88H827.5zM836.5 119.26h2.3v3.88H836.5zM825.25 123.09h11.3v3.88H825.25zM827.5 126.92h2.3v3.88H827.5zM823 138.41h2.3v3.88H823zM870.25 172.88h2.3v3.88H870.25z"/>
<path fill="#d65200" d="M688 50.32h2.3v3.88H688zM865.75 50.32h2.3v3.88H865.75zM863.5 57.98h2.3v3.88H863.5zM818.5 61.81h2.3v3.88H818.5zM816.25 65.64h2.3v3.88H816.25zM820.75 65.64h2.3v3.88H820.75zM861.25 69.47h4.55v3.88H861.25zM863.5 73.3h4.55v3.88H863.5zM717.25 77.13h2.3v3.88H717.25zM742 77.13h2.3v3.88H742zM751 77.13h2.3v3.88H751zM760 77.13h2.3v3.88H760zM791.5 77.13h2.3v3.88H791.5zM811.75 77.13h2.3v3.88H811.75zM856.75 77.13h2.3v3.88H856.75zM863.5 77.13h4.55v3.88H863.5zM753.25 80.96h2.3v3.88H753.25zM762.25 80.96h2.3v3.88H762.25zM771.25 80.96h6.8v3.88H771.25zM782.5 80.96h4.55v3.88H782.5zM856.75 80.96h6.8v3.88H856.75zM865.75 80.96h2.3v3.88H865.75zM764.5 84.79h2.3v3.88H764.5zM865.75 84.79h2.3v3.88H865.75zM856.75 88.62h2.3v3.88H856.75zM820.75 92.45h2.3v3.88H820.75zM847.75 92.45h2.3v3.88H847.75zM861.25 92.45h2.3v3.88H861.25zM845.5 96.28h4.55v3.88H845.5zM852.25 96.28h2.3v3.88H852.25zM708.25 100.11h4.55v3.88H708.25zM847.75 100.11h2.3v3.88H847.75zM843.25 103.94h2.3v3.88H843.25zM829.75 115.43h2.3v3.88H829.75zM834.25 119.26h2.3v3.88H834.25z"/>
<path fill="#d14600" d="M746.5 35h2.3v3.88H746.5zM742 38.83h2.3v3.88H742zM681.25 42.66h2.3v3.88H681.25zM746.5 42.66h2.3v3.88H746.5zM683.5 46.49h2.3v3.88H683.5zM872.5 46.49h2.3v3.88H872.5zM748.75 54.15h2.3v3.88H748.75zM766.75 54.15h2.3v3.88H766.75zM773.5 54.15h4.55v3.88H773.5zM782.5 54.15h2.3v3.88H782.5zM757.75 57.98h2.3v3.88H757.75zM796 57.98h2.3v3.88H796zM807.25 57.98h2.3v3.88H807.25zM861.25 57.98h2.3v3.88H861.25zM692.5 61.81h2.3v3.88H692.5zM782.5 61.81h2.3v3.88H782.5zM787 61.81h2.3v3.88H787zM820.75 61.81h2.3v3.88H820.75zM863.5 61.81h2.3v3.88H863.5zM818.5 65.64h2.3v3.88H818.5zM694.75 69.47h2.3v3.88H694.75zM816.25 69.47h4.55v3.88H816.25zM728.5 73.3h2.3v3.88H728.5zM733 73.3h2.3v3.88H733zM775.75 73.3h2.3v3.88H775.75zM802.75 73.3h4.55v3.88H802.75zM811.75 73.3h2.3v3.88H811.75zM859 73.3h2.3v3.88H859zM735.25 77.13h2.3v3.88H735.25zM744.25 77.13h4.55v3.88H744.25zM755.5 77.13h4.55v3.88H755.5zM773.5 77.13h4.55v3.88H773.5zM787 77.13h2.3v3.88H787zM796 77.13h2.3v3.88H796zM760 80.96h2.3v3.88H760zM764.5 80.96h2.3v3.88H764.5zM769 80.96h2.3v3.88H769zM856.75 84.79h6.8v3.88H856.75zM818.5 88.62h2.3v3.88H818.5zM859 88.62h6.8v3.88H859zM845.5 92.45h2.3v3.88H845.5zM850 92.45h2.3v3.88H850zM854.5 92.45h2.3v3.88H854.5zM823 96.28h4.55v3.88H823zM827.5 100.11h2.3v3.88H827.5zM845.5 100.11h2.3v3.88H845.5zM827.5 103.94h4.55v3.88H827.5zM836.5 103.94h4.55v3.88H836.5zM829.75 107.77h9.05v3.88H829.75zM829.75 111.6h2.3v3.88H829.75z"/>
<path fill="#cc3a00" d="M748.75 35h2.3v3.88H748.75zM748.75 38.83h2.3v3.88H748.75zM742 42.66h2.3v3.88H742zM789.25 42.66h2.3v3.88H789.25zM874.75 42.66h1.3v3.88H874.75zM762.25 50.32h2.3v3.88H762.25zM787 50.32h2.3v3.88H787zM863.5 50.32h2.3v3.88H863.5zM692.5 54.15h2.3v3.88H692.5zM760 54.15h2.3v3.88H760zM780.25 54.15h2.3v3.88H780.25zM784.75 54.15h6.8v3.88H784.75zM809.5 54.15h2.3v3.88H809.5zM692.5 57.98h2.3v3.88H692.5zM746.5 57.98h2.3v3.88H746.5zM755.5 57.98h2.3v3.88H755.5zM771.25 57.98h2.3v3.88H771.25zM782.5 57.98h2.3v3.88H782.5zM787 57.98h2.3v3.88H787zM793.75 57.98h2.3v3.88H793.75zM798.25 57.98h2.3v3.88H798.25zM809.5 57.98h2.3v3.88H809.5zM814 57.98h2.3v3.88H814zM780.25 61.81h2.3v3.88H780.25zM784.75 61.81h2.3v3.88H784.75zM789.25 61.81h2.3v3.88H789.25zM798.25 61.81h2.3v3.88H798.25zM802.75 61.81h2.3v3.88H802.75zM814 61.81h2.3v3.88H814zM780.25 65.64h2.3v3.88H780.25zM784.75 65.64h2.3v3.88H784.75zM814 65.64h2.3v3.88H814zM823 65.64h2.3v3.88H823zM811.75 69.47h2.3v3.88H811.75zM859 69.47h2.3v3.88H859zM724 73.3h2.3v3.88H724zM735.25 73.3h2.3v3.88H735.25zM739.75 73.3h2.3v3.88H739.75zM744.25 73.3h2.3v3.88H744.25zM751 73.3h2.3v3.88H751zM773.5 73.3h2.3v3.88H773.5zM789.25 73.3h2.3v3.88H789.25zM793.75 73.3h9.05v3.88H793.75zM807.25 73.3h2.3v3.88H807.25zM856.75 73.3h2.3v3.88H856.75zM706 77.13h2.3v3.88H706zM753.25 77.13h2.3v3.88H753.25zM766.75 77.13h6.8v3.88H766.75zM778 77.13h4.55v3.88H778zM784.75 77.13h2.3v3.88H784.75zM789.25 77.13h2.3v3.88H789.25zM854.5 77.13h2.3v3.88H854.5zM766.75 80.96h2.3v3.88H766.75zM814 80.96h2.3v3.88H814zM854.5 84.79h2.3v3.88H854.5zM850 88.62h6.8v3.88H850zM838.75 100.11h2.3v3.88H838.75zM843.25 100.11h2.3v3.88H843.25zM832 103.94h2.3v3.88H832zM827.5 107.77h2.3v3.88H827.5zM832 111.6h2.3v3.88H832z"/>
<path fill="#c62d00" d="M717.25 35h2.3v3.88H717.25zM760 35h2.3v3.88H760zM793.75 35h2.3v3.88H793.75zM715 38.83h2.3v3.88H715zM751 38.83h4.55v3.88H751zM717.25 42.66h2.3v3.88H717.25zM739.75 42.66h2.3v3.88H739.75zM744.25 46.49h2.3v3.88H744.25zM755.5 46.49h2.3v3.88H755.5zM764.5 46.49h2.3v3.88H764.5zM771.25 46.49h2.3v3.88H771.25zM787 46.49h4.55v3.88H787zM870.25 46.49h2.3v3.88H870.25zM748.75 50.32h2.3v3.88H748.75zM769 50.32h2.3v3.88H769zM773.5 50.32h6.8v3.88H773.5zM782.5 50.32h4.55v3.88H782.5zM789.25 50.32h2.3v3.88H789.25zM796 50.32h2.3v3.88H796zM746.5 54.15h2.3v3.88H746.5zM755.5 54.15h2.3v3.88H755.5zM762.25 54.15h4.55v3.88H762.25zM769 54.15h4.55v3.88H769zM778 54.15h2.3v3.88H778zM791.5 54.15h4.55v3.88H791.5zM800.5 54.15h9.05v3.88H800.5zM861.25 54.15h2.3v3.88H861.25zM748.75 57.98h2.3v3.88H748.75zM760 57.98h2.3v3.88H760zM764.5 57.98h6.8v3.88H764.5zM773.5 57.98h9.05v3.88H773.5zM784.75 57.98h2.3v3.88H784.75zM800.5 57.98h6.8v3.88H800.5zM694.75 61.81h2.3v3.88H694.75zM746.5 61.81h4.55v3.88H746.5zM753.25 61.81h4.55v3.88H753.25zM769 61.81h2.3v3.88H769zM778 61.81h2.3v3.88H778zM791.5 61.81h2.3v3.88H791.5zM800.5 61.81h2.3v3.88H800.5zM807.25 61.81h2.3v3.88H807.25zM816.25 61.81h2.3v3.88H816.25zM861.25 61.81h2.3v3.88H861.25zM769 65.64h2.3v3.88H769zM775.75 65.64h2.3v3.88H775.75zM782.5 65.64h2.3v3.88H782.5zM787 65.64h4.55v3.88H787zM805 65.64h4.55v3.88H805zM861.25 65.64h2.3v3.88H861.25zM755.5 69.47h2.3v3.88H755.5zM766.75 69.47h2.3v3.88H766.75zM771.25 69.47h2.3v3.88H771.25zM778 69.47h4.55v3.88H778zM784.75 69.47h2.3v3.88H784.75zM791.5 69.47h4.55v3.88H791.5zM807.25 69.47h2.3v3.88H807.25zM814 69.47h2.3v3.88H814zM820.75 69.47h2.3v3.88H820.75zM701.5 73.3h2.3v3.88H701.5zM726.25 73.3h2.3v3.88H726.25zM730.75 73.3h2.3v3.88H730.75zM737.5 73.3h2.3v3.88H737.5zM748.75 73.3h2.3v3.88H748.75zM757.75 73.3h2.3v3.88H757.75zM769 73.3h2.3v3.88H769zM778 73.3h4.55v3.88H778zM787 73.3h2.3v3.88H787zM809.5 73.3h2.3v3.88H809.5zM703.75 77.13h2.3v3.88H703.75zM708.25 77.13h4.55v3.88H708.25zM715 77.13h2.3v3.88H715zM764.5 77.13h2.3v3.88H764.5zM782.5 77.13h2.3v3.88H782.5zM814 77.13h2.3v3.88H814zM852.25 80.96h4.55v3.88H852.25zM816.25 84.79h2.3v3.88H816.25zM852.25 84.79h2.3v3.88H852.25zM843.25 92.45h2.3v3.88H843.25zM841 96.28h4.55v3.88H841zM832 100.11h2.3v3.88H832zM841 100.11h2.3v3.88H841zM834.25 103.94h2.3v3.88H834.25z"/>
<path fill="#c02200" d="M710.5 35h6.8v3.88H710.5zM719.5 35h4.55v3.88H719.5zM742 35h4.55v3.88H742zM751 35h2.3v3.88H751zM766.75 35h2.3v3.88H766.75zM791.5 35h2.3v3.88H791.5zM679 38.83h4.55v3.88H679zM717.25 38.83h4.55v3.88H717.25zM744.25 38.83h4.55v3.88H744.25zM787 38.83h4.55v3.88H787zM793.75 38.83h4.55v3.88H793.75zM683.5 42.66h2.3v3.88H683.5zM715 42.66h2.3v3.88H715zM719.5 42.66h4.55v3.88H719.5zM737.5 42.66h2.3v3.88H737.5zM744.25 42.66h2.3v3.88H744.25zM748.75 42.66h4.55v3.88H748.75zM757.75 42.66h2.3v3.88H757.75zM778 42.66h2.3v3.88H778zM782.5 42.66h2.3v3.88H782.5zM791.5 42.66h6.8v3.88H791.5zM872.5 42.66h2.3v3.88H872.5zM685.75 46.49h2.3v3.88H685.75zM710.5 46.49h4.55v3.88H710.5zM737.5 46.49h4.55v3.88H737.5zM748.75 46.49h2.3v3.88H748.75zM753.25 46.49h2.3v3.88H753.25zM757.75 46.49h2.3v3.88H757.75zM762.25 46.49h2.3v3.88H762.25zM769 46.49h2.3v3.88H769zM773.5 46.49h2.3v3.88H773.5zM778 46.49h2.3v3.88H778zM784.75 46.49h2.3v3.88H784.75zM791.5 46.49h2.3v3.88H791.5zM796 46.49h2.3v3.88H796zM690.25 50.32h2.3v3.88H690.25zM712.75 50.32h2.3v3.88H712.75zM742 50.32h6.8v3.88H742zM760 50.32h2.3v3.88H760zM764.5 50.32h4.55v3.88H764.5zM771.25 50.32h2.3v3.88H771.25zM791.5 50.32h4.55v3.88H791.5zM802.75 50.32h4.55v3.88H802.75zM744.25 54.15h2.3v3.88H744.25zM751 54.15h4.55v3.88H751zM796 54.15h4.55v3.88H796zM789.25 57.98h2.3v3.88H789.25zM811.75 57.98h2.3v3.88H811.75zM816.25 57.98h4.55v3.88H816.25zM744.25 61.81h2.3v3.88H744.25zM751 61.81h2.3v3.88H751zM757.75 61.81h11.3v3.88H757.75zM773.5 61.81h4.55v3.88H773.5zM793.75 61.81h4.55v3.88H793.75zM805 61.81h2.3v3.88H805zM809.5 61.81h4.55v3.88H809.5zM823 61.81h2.3v3.88H823zM694.75 65.64h2.3v3.88H694.75zM746.5 65.64h9.05v3.88H746.5zM764.5 65.64h2.3v3.88H764.5zM771.25 65.64h2.3v3.88H771.25zM778 65.64h2.3v3.88H778zM791.5 65.64h2.3v3.88H791.5zM796 65.64h9.05v3.88H796zM809.5 65.64h4.55v3.88H809.5zM825.25 65.64h2.3v3.88H825.25zM697 69.47h2.3v3.88H697zM760 69.47h6.8v3.88H760zM769 69.47h2.3v3.88H769zM782.5 69.47h2.3v3.88H782.5zM787 69.47h4.55v3.88H787zM796 69.47h2.3v3.88H796zM802.75 69.47h2.3v3.88H802.75zM809.5 69.47h2.3v3.88H809.5zM699.25 73.3h2.3v3.88H699.25zM719.5 73.3h4.55v3.88H719.5zM742 73.3h2.3v3.88H742zM753.25 73.3h4.55v3.88H753.25zM760 73.3h2.3v3.88H760zM766.75 73.3h2.3v3.88H766.75zM771.25 73.3h2.3v3.88H771.25zM784.75 73.3h2.3v3.88H784.75zM791.5 73.3h2.3v3.88H791.5zM852.25 73.3h2.3v3.88H852.25zM712.75 77.13h2.3v3.88H712.75zM762.25 77.13h2.3v3.88H762.25zM845.5 88.62h4.55v3.88H845.5zM827.5 96.28h2.3v3.88H827.5zM838.75 96.28h2.3v3.88H838.75zM829.75 100.11h2.3v3.88H829.75zM834.25 100.11h4.55v3.88H834.25z"/>
<path fill="#bb1600" d="M753.25 35h4.55v3.88H753.25zM764.5 35h2.3v3.88H764.5zM775.75 35h2.3v3.88H775.75zM780.25 35h2.3v3.88H780.25zM784.75 35h6.8v3.88H784.75zM796 35h2.3v3.88H796zM710.5 38.83h4.55v3.88H710.5zM721.75 38.83h4.55v3.88H721.75zM737.5 38.83h4.55v3.88H737.5zM755.5 38.83h2.3v3.88H755.5zM775.75 38.83h2.3v3.88H775.75zM780.25 38.83h2.3v3.88H780.25zM784.75 38.83h2.3v3.88H784.75zM791.5 38.83h2.3v3.88H791.5zM710.5 42.66h4.55v3.88H710.5zM724 42.66h2.3v3.88H724zM735.25 42.66h2.3v3.88H735.25zM753.25 42.66h4.55v3.88H753.25zM762.25 42.66h2.3v3.88H762.25zM773.5 42.66h2.3v3.88H773.5zM780.25 42.66h2.3v3.88H780.25zM787 42.66h2.3v3.88H787zM715 46.49h2.3v3.88H715zM719.5 46.49h2.3v3.88H719.5zM742 46.49h2.3v3.88H742zM746.5 46.49h2.3v3.88H746.5zM751 46.49h2.3v3.88H751zM760 46.49h2.3v3.88H760zM766.75 46.49h2.3v3.88H766.75zM780.25 46.49h2.3v3.88H780.25zM793.75 46.49h2.3v3.88H793.75zM798.25 46.49h4.55v3.88H798.25zM868 46.49h2.3v3.88H868zM708.25 50.32h2.3v3.88H708.25zM715 50.32h2.3v3.88H715zM751 50.32h4.55v3.88H751zM757.75 50.32h2.3v3.88H757.75zM780.25 50.32h2.3v3.88H780.25zM798.25 50.32h4.55v3.88H798.25zM807.25 50.32h2.3v3.88H807.25zM861.25 50.32h2.3v3.88H861.25zM757.75 54.15h2.3v3.88H757.75zM811.75 54.15h2.3v3.88H811.75zM694.75 57.98h2.3v3.88H694.75zM742 57.98h4.55v3.88H742zM751 57.98h4.55v3.88H751zM762.25 57.98h2.3v3.88H762.25zM791.5 57.98h2.3v3.88H791.5zM771.25 61.81h2.3v3.88H771.25zM744.25 65.64h2.3v3.88H744.25zM755.5 65.64h9.05v3.88H755.5zM766.75 65.64h2.3v3.88H766.75zM773.5 65.64h2.3v3.88H773.5zM793.75 65.64h2.3v3.88H793.75zM744.25 69.47h2.3v3.88H744.25zM748.75 69.47h2.3v3.88H748.75zM753.25 69.47h2.3v3.88H753.25zM775.75 69.47h2.3v3.88H775.75zM798.25 69.47h4.55v3.88H798.25zM805 69.47h2.3v3.88H805zM823 69.47h4.55v3.88H823zM856.75 69.47h2.3v3.88H856.75zM746.5 73.3h2.3v3.88H746.5zM764.5 73.3h2.3v3.88H764.5zM782.5 73.3h2.3v3.88H782.5zM814 73.3h4.55v3.88H814zM854.5 73.3h2.3v3.88H854.5zM816.25 77.13h2.3v3.88H816.25zM852.25 77.13h2.3v3.88H852.25zM843.25 88.62h2.3v3.88H843.25zM823 92.45h2.3v3.88H823zM841 92.45h2.3v3.88H841z"/>
<path fill="#b60b00" d="M708.25 35h2.3v3.88H708.25zM724 35h2.3v3.88H724zM739.75 35h2.3v3.88H739.75zM757.75 35h2.3v3.88H757.75zM769 35h2.3v3.88H769zM773.5 35h2.3v3.88H773.5zM778 35h2.3v3.88H778zM782.5 35h2.3v3.88H782.5zM798.25 35h2.3v3.88H798.25zM733 38.83h2.3v3.88H733zM757.75 38.83h2.3v3.88H757.75zM762.25 38.83h2.3v3.88H762.25zM766.75 38.83h2.3v3.88H766.75zM778 38.83h2.3v3.88H778zM798.25 38.83h2.3v3.88H798.25zM874.75 38.83h1.3v3.88H874.75zM726.25 42.66h6.8v3.88H726.25zM760 42.66h2.3v3.88H760zM764.5 42.66h9.05v3.88H764.5zM775.75 42.66h2.3v3.88H775.75zM784.75 42.66h2.3v3.88H784.75zM798.25 42.66h4.55v3.88H798.25zM870.25 42.66h2.3v3.88H870.25zM775.75 46.49h2.3v3.88H775.75zM782.5 46.49h2.3v3.88H782.5zM802.75 46.49h2.3v3.88H802.75zM692.5 50.32h2.3v3.88H692.5zM706 50.32h2.3v3.88H706zM710.5 50.32h2.3v3.88H710.5zM717.25 50.32h2.3v3.88H717.25zM739.75 50.32h2.3v3.88H739.75zM755.5 50.32h2.3v3.88H755.5zM809.5 50.32h2.3v3.88H809.5zM710.5 54.15h2.3v3.88H710.5zM814 54.15h2.3v3.88H814zM859 54.15h2.3v3.88H859zM820.75 57.98h2.3v3.88H820.75zM859 57.98h2.3v3.88H859zM742 61.81h2.3v3.88H742zM859 61.81h2.3v3.88H859zM742 65.64h2.3v3.88H742zM856.75 65.64h4.55v3.88H856.75zM724 69.47h6.8v3.88H724zM737.5 69.47h2.3v3.88H737.5zM746.5 69.47h2.3v3.88H746.5zM751 69.47h2.3v3.88H751zM757.75 69.47h2.3v3.88H757.75zM773.5 69.47h2.3v3.88H773.5zM854.5 69.47h2.3v3.88H854.5zM703.75 73.3h2.3v3.88H703.75zM762.25 73.3h2.3v3.88H762.25zM850 73.3h2.3v3.88H850zM816.25 80.96h2.3v3.88H816.25zM850 80.96h2.3v3.88H850zM850 84.79h2.3v3.88H850zM820.75 88.62h2.3v3.88H820.75zM825.25 92.45h2.3v3.88H825.25zM829.75 96.28h4.55v3.88H829.75zM836.5 96.28h2.3v3.88H836.5z"/>
<path fill="#b00000" d="M679 35h29.3v3.88H679zM726.25 35h13.55v3.88H726.25zM762.25 35h2.3v3.88H762.25zM771.25 35h2.3v3.88H771.25zM800.5 35h75.55v3.88H800.5zM683.5 38.83h27.05v3.88H683.5zM726.25 38.83h6.8v3.88H726.25zM735.25 38.83h2.3v3.88H735.25zM760 38.83h2.3v3.88H760zM764.5 38.83h2.3v3.88H764.5zM769 38.83h6.8v3.88H769zM782.5 38.83h2.3v3.88H782.5zM800.5 38.83h74.3v3.88H800.5zM685.75 42.66h24.8v3.88H685.75zM733 42.66h2.3v3.88H733zM802.75 42.66h67.55v3.88H802.75zM688 46.49h22.55v3.88H688zM717.25 46.49h2.3v3.88H717.25zM721.75 46.49h15.8v3.88H721.75zM805 46.49h63.05v3.88H805zM694.75 50.32h11.3v3.88H694.75zM719.5 50.32h20.3v3.88H719.5zM811.75 50.32h49.55v3.88H811.75zM694.75 54.15h15.8v3.88H694.75zM712.75 54.15h31.55v3.88H712.75zM816.25 54.15h42.8v3.88H816.25zM697 57.98h45.05v3.88H697zM823 57.98h36.05v3.88H823zM697 61.81h45.05v3.88H697zM825.25 61.81h33.8v3.88H825.25zM697 65.64h45.05v3.88H697zM827.5 65.64h29.3v3.88H827.5zM699.25 69.47h24.8v3.88H699.25zM730.75 69.47h6.8v3.88H730.75zM739.75 69.47h4.55v3.88H739.75zM827.5 69.47h27.05v3.88H827.5zM706 73.3h13.55v3.88H706zM818.5 73.3h31.55v3.88H818.5zM818.5 77.13h33.8v3.88H818.5zM818.5 80.96h31.55v3.88H818.5zM818.5 84.79h31.55v3.88H818.5zM823 88.62h20.3v3.88H823zM827.5 92.45h13.55v3.88H827.5zM834.25 96.28h2.3v3.88H834.25z"/>
</g>
<circle cx="778.5" cy="151.5" r="5" fill="#98f000" stroke="#000" stroke-width="1" shape-rendering="crispEdges"/>
<path d="M769 154.5L768.3 157L767 160.5" stroke="#000" stroke-width="1.5" fill="none" shape-rendering="crispEdges"/>
<path d="M851 77.2L852 77.2L852 79L851.8 82L852 83L852 86L850.5 87L848.5 87L847 86L846 84.8L847 83.5L848 83L849 82L848 81L848 79.5L849 78.5L850.5 78.2Z" fill="#000"/>
<rect x="849.2" y="79" width="1.1" height="1.1" fill="#ffe4c4"/><rect x="849.2" y="83" width="1" height="1" fill="#ffe4c4"/><rect x="848.2" y="84" width="1" height="1" fill="#ffe4c4"/>
<rect x="833" y="66" width="2.3" height="4" fill="#fff" shape-rendering="crispEdges"/>
<g stroke="#000" stroke-width="1" fill="none" shape-rendering="crispEdges">
<rect x="679.5" y="325.5" width="198" height="232"/>
<path d="M724.5 325v-3M724.5 558v3M780.5 325v-3M780.5 558v3M836.5 325v-3M836.5 558v3M679 358.5h-3M878 358.5h3M679 397.5h-3M878 397.5h3M679 435.5h-3M878 435.5h3M679 474.5h-3M878 474.5h3M679 513.5h-3M878 513.5h3M679 551.5h-3M878 551.5h3"/></g>
<g shape-rendering="crispEdges">
<path fill="#00afec" d="M679 411.4h2.8v2.45H679zM767 413.8h2.8v2.45H767z"/>
<path fill="#00c3eb" d="M679 409h2.8v2.45H679zM767 411.4h2.8v2.45H767zM679 413.8h2.8v2.45H679zM679 416.2h2.8v2.45H679zM767 416.2h2.8v2.45H767zM863.25 483.4h5.55v2.45H863.25zM866 485.8h2.8v2.45H866z"/>
<path fill="#00c2d3" d="M767 409h2.8v2.45H767zM681.75 411.4h2.8v2.45H681.75zM769.75 411.4h2.8v2.45H769.75zM681.75 413.8h2.8v2.45H681.75zM764.25 413.8h2.8v2.45H764.25zM769.75 413.8h2.8v2.45H769.75zM681.75 416.2h2.8v2.45H681.75zM764.25 416.2h2.8v2.45H764.25zM769.75 416.2h2.8v2.45H769.75zM767 418.6h2.8v2.45H767zM868.75 483.4h2.8v2.45H868.75zM863.25 485.8h2.8v2.45H863.25zM868.75 485.8h2.8v2.45H868.75z"/>
<path fill="#00c0bc" d="M679 406.6h2.8v2.45H679zM681.75 409h2.8v2.45H681.75zM769.75 409h2.8v2.45H769.75zM684.5 411.4h2.8v2.45H684.5zM764.25 411.4h2.8v2.45H764.25zM684.5 413.8h2.8v2.45H684.5zM684.5 416.2h2.8v2.45H684.5zM679 418.6h5.55v2.45H679zM764.25 418.6h2.8v2.45H764.25zM767 421h2.8v2.45H767zM863.25 481h5.55v2.45H863.25zM860.5 483.4h2.8v2.45H860.5zM860.5 485.8h2.8v2.45H860.5z"/>
<path fill="#00bfa4" d="M767 406.6h5.55v2.45H767zM684.5 409h2.8v2.45H684.5zM764.25 409h2.8v2.45H764.25zM687.25 413.8h2.8v2.45H687.25zM687.25 416.2h2.8v2.45H687.25zM684.5 418.6h2.8v2.45H684.5zM769.75 418.6h2.8v2.45H769.75zM679 421h5.55v2.45H679zM868.75 481h2.8v2.45H868.75zM871.5 485.8h2.8v2.45H871.5zM863.25 488.2h8.3v2.45H863.25z"/>
<path fill="#00be8c" d="M681.75 406.6h2.8v2.45H681.75zM772.5 409h2.8v2.45H772.5zM687.25 411.4h2.8v2.45H687.25zM772.5 411.4h2.8v2.45H772.5zM690 413.8h2.8v2.45H690zM772.5 413.8h2.8v2.45H772.5zM690 416.2h2.8v2.45H690zM687.25 418.6h5.55v2.45H687.25zM684.5 421h8.3v2.45H684.5zM764.25 421h2.8v2.45H764.25zM769.75 421h2.8v2.45H769.75zM687.25 423.4h5.55v2.45H687.25zM767 423.4h2.8v2.45H767zM866 478.6h2.8v2.45H866zM860.5 481h2.8v2.45H860.5zM871.5 483.4h2.8v2.45H871.5zM753.25 509.8h2.8v2.45H753.25zM844 509.8h5.55v2.45H844zM841.25 512.2h8.3v2.45H841.25z"/>
<path fill="#00c070" d="M679 404.2h2.8v2.45H679zM767 404.2h5.55v2.45H767zM764.25 406.6h2.8v2.45H764.25zM772.5 406.6h2.8v2.45H772.5zM687.25 409h2.8v2.45H687.25zM690 411.4h2.8v2.45H690zM692.75 416.2h2.8v2.45H692.75zM772.5 416.2h2.8v2.45H772.5zM692.75 418.6h2.8v2.45H692.75zM692.75 421h2.8v2.45H692.75zM679 423.4h8.3v2.45H679zM692.75 423.4h5.55v2.45H692.75zM684.5 425.8h13.8v2.45H684.5zM687.25 428.2h11.05v2.45H687.25zM692.75 430.6h2.8v2.45H692.75zM767 464.2h2.8v2.45H767zM769.75 466.6h2.8v2.45H769.75zM863.25 478.6h2.8v2.45H863.25zM857.75 483.4h2.8v2.45H857.75zM857.75 485.8h2.8v2.45H857.75zM874.25 485.8h1.8v2.45H874.25zM860.5 488.2h2.8v2.45H860.5zM871.5 488.2h2.8v2.45H871.5zM750.5 507.4h8.3v2.45H750.5zM844 507.4h8.3v2.45H844zM750.5 509.8h2.8v2.45H750.5zM756 509.8h2.8v2.45H756zM838.5 509.8h5.55v2.45H838.5zM849.5 509.8h2.8v2.45H849.5zM750.5 512.2h8.3v2.45H750.5zM838.5 512.2h2.8v2.45H838.5zM849.5 512.2h2.8v2.45H849.5zM753.25 514.6h5.55v2.45H753.25zM841.25 514.6h5.55v2.45H841.25zM769.75 521.8h8.3v2.45H769.75zM769.75 524.2h8.3v2.45H769.75zM769.75 526.6h8.3v2.45H769.75zM772.5 529h5.55v2.45H772.5z"/>
<path fill="#00c355" d="M772.5 404.2h2.8v2.45H772.5zM684.5 406.6h2.8v2.45H684.5zM692.75 413.8h2.8v2.45H692.75zM761.5 413.8h2.8v2.45H761.5zM695.5 416.2h2.8v2.45H695.5zM695.5 418.6h2.8v2.45H695.5zM772.5 418.6h2.8v2.45H772.5zM695.5 421h2.8v2.45H695.5zM698.25 423.4h2.8v2.45H698.25zM764.25 423.4h2.8v2.45H764.25zM769.75 423.4h2.8v2.45H769.75zM679 425.8h5.55v2.45H679zM698.25 425.8h2.8v2.45H698.25zM767 425.8h2.8v2.45H767zM684.5 428.2h2.8v2.45H684.5zM698.25 428.2h5.55v2.45H698.25zM687.25 430.6h5.55v2.45H687.25zM695.5 430.6h8.3v2.45H695.5zM690 433h13.8v2.45H690zM764.25 459.4h2.8v2.45H764.25zM764.25 461.8h8.3v2.45H764.25zM764.25 464.2h2.8v2.45H764.25zM769.75 464.2h2.8v2.45H769.75zM767 466.6h2.8v2.45H767zM772.5 466.6h2.8v2.45H772.5zM769.75 469h5.55v2.45H769.75zM772.5 471.4h5.55v2.45H772.5zM868.75 478.6h2.8v2.45H868.75zM871.5 481h2.8v2.45H871.5zM874.25 483.4h1.8v2.45H874.25zM866 490.6h2.8v2.45H866zM750.5 502.6h2.8v2.45H750.5zM750.5 505h8.3v2.45H750.5zM846.75 505h2.8v2.45H846.75zM758.75 507.4h2.8v2.45H758.75zM841.25 507.4h2.8v2.45H841.25zM852.25 507.4h2.8v2.45H852.25zM747.75 509.8h2.8v2.45H747.75zM758.75 509.8h2.8v2.45H758.75zM835.75 509.8h2.8v2.45H835.75zM852.25 509.8h2.8v2.45H852.25zM747.75 512.2h2.8v2.45H747.75zM758.75 512.2h2.8v2.45H758.75zM835.75 512.2h2.8v2.45H835.75zM852.25 512.2h2.8v2.45H852.25zM750.5 514.6h2.8v2.45H750.5zM758.75 514.6h2.8v2.45H758.75zM835.75 514.6h5.55v2.45H835.75zM846.75 514.6h2.8v2.45H846.75zM753.25 517h8.3v2.45H753.25zM775.25 517h2.8v2.45H775.25zM758.75 519.4h2.8v2.45H758.75zM767 519.4h13.8v2.45H767zM764.25 521.8h5.55v2.45H764.25zM778 521.8h2.8v2.45H778zM764.25 524.2h5.55v2.45H764.25zM778 524.2h2.8v2.45H778zM767 526.6h2.8v2.45H767zM778 526.6h2.8v2.45H778zM769.75 529h2.8v2.45H769.75zM778 529h2.8v2.45H778zM772.5 531.4h8.3v2.45H772.5zM775.25 533.8h2.8v2.45H775.25z"/>
<path fill="#00c63a" d="M679 365.8h2.8v2.45H679zM767 401.8h5.55v2.45H767zM681.75 404.2h2.8v2.45H681.75zM764.25 404.2h2.8v2.45H764.25zM775.25 406.6h2.8v2.45H775.25zM690 409h2.8v2.45H690zM775.25 409h2.8v2.45H775.25zM692.75 411.4h2.8v2.45H692.75zM761.5 411.4h2.8v2.45H761.5zM775.25 411.4h2.8v2.45H775.25zM695.5 413.8h2.8v2.45H695.5zM775.25 413.8h2.8v2.45H775.25zM761.5 416.2h2.8v2.45H761.5zM698.25 418.6h2.8v2.45H698.25zM761.5 418.6h2.8v2.45H761.5zM698.25 421h2.8v2.45H698.25zM701 423.4h2.8v2.45H701zM701 425.8h2.8v2.45H701zM764.25 425.8h2.8v2.45H764.25zM681.75 428.2h2.8v2.45H681.75zM703.75 428.2h2.8v2.45H703.75zM684.5 430.6h2.8v2.45H684.5zM703.75 430.6h5.55v2.45H703.75zM684.5 433h5.55v2.45H684.5zM703.75 433h11.05v2.45H703.75zM720.25 433h11.05v2.45H720.25zM690 435.4h19.3v2.45H690zM717.5 435.4h13.8v2.45H717.5zM720.25 437.8h11.05v2.45H720.25zM723 440.2h8.3v2.45H723zM723 442.6h5.55v2.45H723zM725.75 445h2.8v2.45H725.75zM725.75 447.4h2.8v2.45H725.75zM725.75 449.8h2.8v2.45H725.75zM725.75 452.2h2.8v2.45H725.75zM761.5 452.2h2.8v2.45H761.5zM725.75 454.6h2.8v2.45H725.75zM758.75 454.6h8.3v2.45H758.75zM725.75 457h2.8v2.45H725.75zM758.75 457h8.3v2.45H758.75zM761.5 459.4h2.8v2.45H761.5zM767 459.4h2.8v2.45H767zM761.5 461.8h2.8v2.45H761.5zM772.5 464.2h2.8v2.45H772.5zM764.25 466.6h2.8v2.45H764.25zM816.5 466.6h2.8v2.45H816.5zM767 469h2.8v2.45H767zM775.25 469h2.8v2.45H775.25zM816.5 469h2.8v2.45H816.5zM769.75 471.4h2.8v2.45H769.75zM720.25 473.8h5.55v2.45H720.25zM772.5 473.8h5.55v2.45H772.5zM720.25 476.2h5.55v2.45H720.25zM775.25 476.2h2.8v2.45H775.25zM720.25 478.6h5.55v2.45H720.25zM860.5 478.6h2.8v2.45H860.5zM720.25 481h5.55v2.45H720.25zM805.5 481h5.55v2.45H805.5zM857.75 481h2.8v2.45H857.75zM802.75 483.4h8.3v2.45H802.75zM802.75 485.8h8.3v2.45H802.75zM802.75 488.2h8.3v2.45H802.75zM857.75 488.2h2.8v2.45H857.75zM874.25 488.2h1.8v2.45H874.25zM802.75 490.6h8.3v2.45H802.75zM863.25 490.6h2.8v2.45H863.25zM868.75 490.6h2.8v2.45H868.75zM805.5 493h2.8v2.45H805.5zM747.75 500.2h5.55v2.45H747.75zM791.75 500.2h2.8v2.45H791.75zM747.75 502.6h2.8v2.45H747.75zM753.25 502.6h5.55v2.45H753.25zM791.75 502.6h5.55v2.45H791.75zM679 505h2.8v2.45H679zM747.75 505h2.8v2.45H747.75zM758.75 505h2.8v2.45H758.75zM789 505h8.3v2.45H789zM844 505h2.8v2.45H844zM849.5 505h2.8v2.45H849.5zM717.5 507.4h2.8v2.45H717.5zM747.75 507.4h2.8v2.45H747.75zM789 507.4h5.55v2.45H789zM835.75 507.4h5.55v2.45H835.75zM714.75 509.8h5.55v2.45H714.75zM761.5 509.8h2.8v2.45H761.5zM830.25 509.8h5.55v2.45H830.25zM717.5 512.2h2.8v2.45H717.5zM761.5 512.2h2.8v2.45H761.5zM830.25 512.2h5.55v2.45H830.25zM747.75 514.6h2.8v2.45H747.75zM761.5 514.6h5.55v2.45H761.5zM833 514.6h2.8v2.45H833zM849.5 514.6h2.8v2.45H849.5zM750.5 517h2.8v2.45H750.5zM761.5 517h13.8v2.45H761.5zM778 517h5.55v2.45H778zM838.5 517h8.3v2.45H838.5zM753.25 519.4h5.55v2.45H753.25zM761.5 519.4h5.55v2.45H761.5zM780.75 519.4h5.55v2.45H780.75zM756 521.8h8.3v2.45H756zM780.75 521.8h2.8v2.45H780.75zM758.75 524.2h5.55v2.45H758.75zM780.75 524.2h2.8v2.45H780.75zM761.5 526.6h5.55v2.45H761.5zM780.75 526.6h2.8v2.45H780.75zM868.75 526.6h5.55v2.45H868.75zM764.25 529h5.55v2.45H764.25zM780.75 529h2.8v2.45H780.75zM868.75 529h7.3v2.45H868.75zM767 531.4h5.55v2.45H767zM780.75 531.4h2.8v2.45H780.75zM868.75 531.4h5.55v2.45H868.75zM769.75 533.8h5.55v2.45H769.75zM778 533.8h5.55v2.45H778zM772.5 536.2h8.3v2.45H772.5z"/>
<path fill="#00c81e" d="M679 363.4h2.8v2.45H679zM679 368.2h2.8v2.45H679zM805.5 392.2h2.8v2.45H805.5zM802.75 394.6h5.55v2.45H802.75zM802.75 397h8.3v2.45H802.75zM767 399.4h5.55v2.45H767zM800 399.4h11.05v2.45H800zM679 401.8h2.8v2.45H679zM772.5 401.8h2.8v2.45H772.5zM800 401.8h11.05v2.45H800zM775.25 404.2h2.8v2.45H775.25zM800 404.2h11.05v2.45H800zM687.25 406.6h2.8v2.45H687.25zM800 406.6h11.05v2.45H800zM761.5 409h2.8v2.45H761.5zM800 409h11.05v2.45H800zM794.5 411.4h16.55v2.45H794.5zM789 413.8h22.05v2.45H789zM698.25 416.2h2.8v2.45H698.25zM775.25 416.2h2.8v2.45H775.25zM789 416.2h19.3v2.45H789zM701 421h2.8v2.45H701zM761.5 421h2.8v2.45H761.5zM772.5 421h2.8v2.45H772.5zM703.75 425.8h2.8v2.45H703.75zM769.75 425.8h2.8v2.45H769.75zM679 428.2h2.8v2.45H679zM706.5 428.2h2.8v2.45H706.5zM767 428.2h2.8v2.45H767zM679 430.6h5.55v2.45H679zM709.25 430.6h22.05v2.45H709.25zM681.75 433h2.8v2.45H681.75zM714.75 433h5.55v2.45H714.75zM731.25 433h2.8v2.45H731.25zM681.75 435.4h8.3v2.45H681.75zM709.25 435.4h8.3v2.45H709.25zM731.25 435.4h2.8v2.45H731.25zM684.5 437.8h35.8v2.45H684.5zM731.25 437.8h2.8v2.45H731.25zM687.25 440.2h5.55v2.45H687.25zM717.5 440.2h5.55v2.45H717.5zM731.25 440.2h2.8v2.45H731.25zM720.25 442.6h2.8v2.45H720.25zM728.5 442.6h2.8v2.45H728.5zM720.25 445h5.55v2.45H720.25zM728.5 445h2.8v2.45H728.5zM723 447.4h2.8v2.45H723zM728.5 447.4h2.8v2.45H728.5zM723 449.8h2.8v2.45H723zM728.5 449.8h2.8v2.45H728.5zM758.75 449.8h8.3v2.45H758.75zM822 449.8h2.8v2.45H822zM723 452.2h2.8v2.45H723zM728.5 452.2h2.8v2.45H728.5zM756 452.2h5.55v2.45H756zM764.25 452.2h2.8v2.45H764.25zM819.25 452.2h5.55v2.45H819.25zM723 454.6h2.8v2.45H723zM728.5 454.6h2.8v2.45H728.5zM753.25 454.6h5.55v2.45H753.25zM767 454.6h2.8v2.45H767zM819.25 454.6h5.55v2.45H819.25zM723 457h2.8v2.45H723zM728.5 457h2.8v2.45H728.5zM753.25 457h5.55v2.45H753.25zM767 457h2.8v2.45H767zM819.25 457h5.55v2.45H819.25zM723 459.4h5.55v2.45H723zM758.75 459.4h2.8v2.45H758.75zM769.75 459.4h2.8v2.45H769.75zM819.25 459.4h5.55v2.45H819.25zM723 461.8h5.55v2.45H723zM772.5 461.8h2.8v2.45H772.5zM816.5 461.8h8.3v2.45H816.5zM723 464.2h2.8v2.45H723zM761.5 464.2h2.8v2.45H761.5zM816.5 464.2h5.55v2.45H816.5zM720.25 466.6h5.55v2.45H720.25zM775.25 466.6h2.8v2.45H775.25zM813.75 466.6h2.8v2.45H813.75zM819.25 466.6h2.8v2.45H819.25zM720.25 469h5.55v2.45H720.25zM800 469h16.55v2.45H800zM819.25 469h2.8v2.45H819.25zM720.25 471.4h5.55v2.45H720.25zM778 471.4h2.8v2.45H778zM800 471.4h22.05v2.45H800zM778 473.8h2.8v2.45H778zM800 473.8h19.3v2.45H800zM772.5 476.2h2.8v2.45H772.5zM778 476.2h2.8v2.45H778zM800 476.2h19.3v2.45H800zM863.25 476.2h5.55v2.45H863.25zM687.25 478.6h2.8v2.45H687.25zM775.25 478.6h5.55v2.45H775.25zM800 478.6h16.55v2.45H800zM687.25 481h2.8v2.45H687.25zM800 481h5.55v2.45H800zM811 481h5.55v2.45H811zM874.25 481h1.8v2.45H874.25zM684.5 483.4h5.55v2.45H684.5zM720.25 483.4h5.55v2.45H720.25zM797.25 483.4h5.55v2.45H797.25zM811 483.4h2.8v2.45H811zM791.75 485.8h11.05v2.45H791.75zM811 485.8h2.8v2.45H811zM789 488.2h13.8v2.45H789zM811 488.2h2.8v2.45H811zM789 490.6h13.8v2.45H789zM811 490.6h2.8v2.45H811zM860.5 490.6h2.8v2.45H860.5zM871.5 490.6h2.8v2.45H871.5zM789 493h16.55v2.45H789zM808.25 493h5.55v2.45H808.25zM789 495.4h24.8v2.45H789zM745 497.8h5.55v2.45H745zM789 497.8h24.8v2.45H789zM679 500.2h2.8v2.45H679zM745 500.2h2.8v2.45H745zM753.25 500.2h2.8v2.45H753.25zM789 500.2h2.8v2.45H789zM794.5 500.2h19.3v2.45H794.5zM679 502.6h2.8v2.45H679zM745 502.6h2.8v2.45H745zM789 502.6h2.8v2.45H789zM797.25 502.6h19.3v2.45H797.25zM714.75 505h5.55v2.45H714.75zM745 505h2.8v2.45H745zM797.25 505h24.8v2.45H797.25zM838.5 505h5.55v2.45H838.5zM852.25 505h2.8v2.45H852.25zM679 507.4h2.8v2.45H679zM712 507.4h5.55v2.45H712zM720.25 507.4h2.8v2.45H720.25zM745 507.4h2.8v2.45H745zM761.5 507.4h2.8v2.45H761.5zM786.25 507.4h2.8v2.45H786.25zM794.5 507.4h41.3v2.45H794.5zM679 509.8h2.8v2.45H679zM720.25 509.8h2.8v2.45H720.25zM745 509.8h2.8v2.45H745zM764.25 509.8h2.8v2.45H764.25zM786.25 509.8h44.05v2.45H786.25zM855 509.8h2.8v2.45H855zM679 512.2h2.8v2.45H679zM714.75 512.2h2.8v2.45H714.75zM720.25 512.2h2.8v2.45H720.25zM745 512.2h2.8v2.45H745zM764.25 512.2h2.8v2.45H764.25zM783.5 512.2h35.8v2.45H783.5zM824.75 512.2h5.55v2.45H824.75zM855 512.2h2.8v2.45H855zM714.75 514.6h5.55v2.45H714.75zM745 514.6h2.8v2.45H745zM767 514.6h49.55v2.45H767zM827.5 514.6h5.55v2.45H827.5zM852.25 514.6h2.8v2.45H852.25zM747.75 517h2.8v2.45H747.75zM783.5 517h30.3v2.45H783.5zM830.25 517h8.3v2.45H830.25zM846.75 517h2.8v2.45H846.75zM750.5 519.4h2.8v2.45H750.5zM786.25 519.4h2.8v2.45H786.25zM794.5 519.4h16.55v2.45H794.5zM753.25 521.8h2.8v2.45H753.25zM783.5 521.8h5.55v2.45H783.5zM794.5 521.8h13.8v2.45H794.5zM753.25 524.2h5.55v2.45H753.25zM783.5 524.2h2.8v2.45H783.5zM794.5 524.2h13.8v2.45H794.5zM866 524.2h5.55v2.45H866zM756 526.6h5.55v2.45H756zM783.5 526.6h2.8v2.45H783.5zM794.5 526.6h13.8v2.45H794.5zM816.5 526.6h2.8v2.45H816.5zM866 526.6h2.8v2.45H866zM874.25 526.6h1.8v2.45H874.25zM758.75 529h5.55v2.45H758.75zM783.5 529h2.8v2.45H783.5zM794.5 529h13.8v2.45H794.5zM813.75 529h8.3v2.45H813.75zM866 529h2.8v2.45H866zM761.5 531.4h5.55v2.45H761.5zM783.5 531.4h2.8v2.45H783.5zM794.5 531.4h11.05v2.45H794.5zM813.75 531.4h8.3v2.45H813.75zM866 531.4h2.8v2.45H866zM874.25 531.4h1.8v2.45H874.25zM706.5 533.8h2.8v2.45H706.5zM764.25 533.8h5.55v2.45H764.25zM783.5 533.8h2.8v2.45H783.5zM794.5 533.8h11.05v2.45H794.5zM816.5 533.8h2.8v2.45H816.5zM866 533.8h10.05v2.45H866zM703.75 536.2h8.3v2.45H703.75zM767 536.2h5.55v2.45H767zM780.75 536.2h8.3v2.45H780.75zM794.5 536.2h8.3v2.45H794.5zM866 536.2h10.05v2.45H866zM703.75 538.6h8.3v2.45H703.75zM769.75 538.6h30.3v2.45H769.75zM868.75 538.6h7.3v2.45H868.75zM703.75 541h8.3v2.45H703.75zM739.5 541h2.8v2.45H739.5zM769.75 541h27.55v2.45H769.75zM868.75 541h7.3v2.45H868.75zM703.75 543.4h8.3v2.45H703.75zM736.75 543.4h5.55v2.45H736.75zM783.5 543.4h13.8v2.45H783.5zM868.75 543.4h7.3v2.45H868.75zM703.75 545.8h8.3v2.45H703.75zM736.75 545.8h5.55v2.45H736.75zM783.5 545.8h13.8v2.45H783.5zM868.75 545.8h7.3v2.45H868.75zM703.75 548.2h8.3v2.45H703.75zM736.75 548.2h5.55v2.45H736.75zM786.25 548.2h11.05v2.45H786.25zM868.75 548.2h7.3v2.45H868.75zM703.75 550.6h8.3v2.45H703.75zM786.25 550.6h11.05v2.45H786.25zM871.5 550.6h4.55v2.45H871.5z"/>
<path fill="#12ce16" d="M679 361h2.8v2.45H679zM679 370.6h2.8v2.45H679zM805.5 389.8h5.55v2.45H805.5zM802.75 392.2h2.8v2.45H802.75zM808.25 392.2h2.8v2.45H808.25zM800 394.6h2.8v2.45H800zM808.25 394.6h2.8v2.45H808.25zM767 397h5.55v2.45H767zM800 397h2.8v2.45H800zM772.5 399.4h2.8v2.45H772.5zM797.25 399.4h2.8v2.45H797.25zM764.25 401.8h2.8v2.45H764.25zM775.25 401.8h2.8v2.45H775.25zM797.25 401.8h2.8v2.45H797.25zM811 401.8h2.8v2.45H811zM684.5 404.2h2.8v2.45H684.5zM797.25 404.2h2.8v2.45H797.25zM811 404.2h2.8v2.45H811zM761.5 406.6h2.8v2.45H761.5zM778 406.6h2.8v2.45H778zM794.5 406.6h5.55v2.45H794.5zM811 406.6h2.8v2.45H811zM692.75 409h2.8v2.45H692.75zM778 409h2.8v2.45H778zM791.75 409h8.3v2.45H791.75zM811 409h2.8v2.45H811zM695.5 411.4h2.8v2.45H695.5zM778 411.4h2.8v2.45H778zM786.25 411.4h8.3v2.45H786.25zM811 411.4h2.8v2.45H811zM698.25 413.8h2.8v2.45H698.25zM786.25 413.8h2.8v2.45H786.25zM811 413.8h2.8v2.45H811zM786.25 416.2h2.8v2.45H786.25zM808.25 416.2h2.8v2.45H808.25zM701 418.6h2.8v2.45H701zM789 418.6h22.05v2.45H789zM703.75 423.4h2.8v2.45H703.75zM761.5 423.4h2.8v2.45H761.5zM772.5 423.4h2.8v2.45H772.5zM706.5 425.8h2.8v2.45H706.5zM709.25 428.2h5.55v2.45H709.25zM764.25 428.2h2.8v2.45H764.25zM769.75 428.2h2.8v2.45H769.75zM731.25 430.6h2.8v2.45H731.25zM767 430.6h2.8v2.45H767zM679 433h2.8v2.45H679zM767 433h2.8v2.45H767zM679 435.4h2.8v2.45H679zM767 435.4h5.55v2.45H767zM679 437.8h5.55v2.45H679zM767 437.8h5.55v2.45H767zM679 440.2h8.3v2.45H679zM692.75 440.2h8.3v2.45H692.75zM712 440.2h5.55v2.45H712zM767 440.2h5.55v2.45H767zM684.5 442.6h11.05v2.45H684.5zM717.5 442.6h2.8v2.45H717.5zM731.25 442.6h2.8v2.45H731.25zM764.25 442.6h5.55v2.45H764.25zM684.5 445h8.3v2.45H684.5zM717.5 445h2.8v2.45H717.5zM731.25 445h2.8v2.45H731.25zM764.25 445h5.55v2.45H764.25zM684.5 447.4h8.3v2.45H684.5zM720.25 447.4h2.8v2.45H720.25zM731.25 447.4h2.8v2.45H731.25zM761.5 447.4h8.3v2.45H761.5zM819.25 447.4h5.55v2.45H819.25zM687.25 449.8h5.55v2.45H687.25zM720.25 449.8h2.8v2.45H720.25zM731.25 449.8h2.8v2.45H731.25zM756 449.8h2.8v2.45H756zM767 449.8h2.8v2.45H767zM819.25 449.8h2.8v2.45H819.25zM687.25 452.2h5.55v2.45H687.25zM720.25 452.2h2.8v2.45H720.25zM731.25 452.2h2.8v2.45H731.25zM753.25 452.2h2.8v2.45H753.25zM767 452.2h2.8v2.45H767zM824.75 452.2h2.8v2.45H824.75zM687.25 454.6h5.55v2.45H687.25zM720.25 454.6h2.8v2.45H720.25zM731.25 454.6h5.55v2.45H731.25zM750.5 454.6h2.8v2.45H750.5zM824.75 454.6h2.8v2.45H824.75zM687.25 457h5.55v2.45H687.25zM720.25 457h2.8v2.45H720.25zM731.25 457h2.8v2.45H731.25zM747.75 457h5.55v2.45H747.75zM769.75 457h2.8v2.45H769.75zM816.5 457h2.8v2.45H816.5zM824.75 457h2.8v2.45H824.75zM687.25 459.4h5.55v2.45H687.25zM720.25 459.4h2.8v2.45H720.25zM728.5 459.4h2.8v2.45H728.5zM756 459.4h2.8v2.45H756zM816.5 459.4h2.8v2.45H816.5zM824.75 459.4h2.8v2.45H824.75zM687.25 461.8h5.55v2.45H687.25zM720.25 461.8h2.8v2.45H720.25zM728.5 461.8h2.8v2.45H728.5zM758.75 461.8h2.8v2.45H758.75zM813.75 461.8h2.8v2.45H813.75zM687.25 464.2h5.55v2.45H687.25zM720.25 464.2h2.8v2.45H720.25zM725.75 464.2h2.8v2.45H725.75zM775.25 464.2h2.8v2.45H775.25zM811 464.2h5.55v2.45H811zM822 464.2h2.8v2.45H822zM690 466.6h2.8v2.45H690zM725.75 466.6h2.8v2.45H725.75zM800 466.6h13.8v2.45H800zM822 466.6h2.8v2.45H822zM690 469h2.8v2.45H690zM725.75 469h2.8v2.45H725.75zM764.25 469h2.8v2.45H764.25zM778 469h2.8v2.45H778zM822 469h2.8v2.45H822zM687.25 471.4h5.55v2.45H687.25zM725.75 471.4h2.8v2.45H725.75zM767 471.4h2.8v2.45H767zM687.25 473.8h5.55v2.45H687.25zM717.5 473.8h2.8v2.45H717.5zM725.75 473.8h2.8v2.45H725.75zM769.75 473.8h2.8v2.45H769.75zM819.25 473.8h2.8v2.45H819.25zM687.25 476.2h5.55v2.45H687.25zM717.5 476.2h2.8v2.45H717.5zM725.75 476.2h2.8v2.45H725.75zM780.75 476.2h2.8v2.45H780.75zM819.25 476.2h2.8v2.45H819.25zM868.75 476.2h2.8v2.45H868.75zM684.5 478.6h2.8v2.45H684.5zM690 478.6h2.8v2.45H690zM717.5 478.6h2.8v2.45H717.5zM725.75 478.6h2.8v2.45H725.75zM780.75 478.6h2.8v2.45H780.75zM797.25 478.6h2.8v2.45H797.25zM816.5 478.6h2.8v2.45H816.5zM871.5 478.6h2.8v2.45H871.5zM684.5 481h2.8v2.45H684.5zM690 481h2.8v2.45H690zM717.5 481h2.8v2.45H717.5zM778 481h5.55v2.45H778zM797.25 481h2.8v2.45H797.25zM816.5 481h2.8v2.45H816.5zM681.75 483.4h2.8v2.45H681.75zM690 483.4h2.8v2.45H690zM717.5 483.4h2.8v2.45H717.5zM791.75 483.4h5.55v2.45H791.75zM813.75 483.4h2.8v2.45H813.75zM855 483.4h2.8v2.45H855zM681.75 485.8h8.3v2.45H681.75zM720.25 485.8h2.8v2.45H720.25zM786.25 485.8h5.55v2.45H786.25zM813.75 485.8h2.8v2.45H813.75zM855 485.8h2.8v2.45H855zM681.75 488.2h5.55v2.45H681.75zM786.25 488.2h2.8v2.45H786.25zM813.75 488.2h2.8v2.45H813.75zM786.25 490.6h2.8v2.45H786.25zM813.75 490.6h2.8v2.45H813.75zM786.25 493h2.8v2.45H786.25zM813.75 493h2.8v2.45H813.75zM745 495.4h2.8v2.45H745zM813.75 495.4h2.8v2.45H813.75zM679 497.8h2.8v2.45H679zM742.25 497.8h2.8v2.45H742.25zM750.5 497.8h2.8v2.45H750.5zM786.25 497.8h2.8v2.45H786.25zM813.75 497.8h2.8v2.45H813.75zM742.25 500.2h2.8v2.45H742.25zM756 500.2h2.8v2.45H756zM786.25 500.2h2.8v2.45H786.25zM813.75 500.2h5.55v2.45H813.75zM758.75 502.6h2.8v2.45H758.75zM786.25 502.6h2.8v2.45H786.25zM816.5 502.6h5.55v2.45H816.5zM844 502.6h8.3v2.45H844zM712 505h2.8v2.45H712zM720.25 505h2.8v2.45H720.25zM761.5 505h2.8v2.45H761.5zM786.25 505h2.8v2.45H786.25zM822 505h16.55v2.45H822zM723 507.4h2.8v2.45H723zM764.25 507.4h2.8v2.45H764.25zM855 507.4h2.8v2.45H855zM712 509.8h2.8v2.45H712zM723 509.8h2.8v2.45H723zM783.5 509.8h2.8v2.45H783.5zM712 512.2h2.8v2.45H712zM723 512.2h2.8v2.45H723zM767 512.2h16.55v2.45H767zM819.25 512.2h5.55v2.45H819.25zM679 514.6h2.8v2.45H679zM712 514.6h2.8v2.45H712zM720.25 514.6h2.8v2.45H720.25zM816.5 514.6h11.05v2.45H816.5zM855 514.6h2.8v2.45H855zM679 517h2.8v2.45H679zM714.75 517h5.55v2.45H714.75zM745 517h2.8v2.45H745zM813.75 517h16.55v2.45H813.75zM849.5 517h2.8v2.45H849.5zM679 519.4h2.8v2.45H679zM747.75 519.4h2.8v2.45H747.75zM789 519.4h5.55v2.45H789zM811 519.4h27.55v2.45H811zM679 521.8h2.8v2.45H679zM747.75 521.8h5.55v2.45H747.75zM789 521.8h5.55v2.45H789zM808.25 521.8h16.55v2.45H808.25zM679 524.2h2.8v2.45H679zM750.5 524.2h2.8v2.45H750.5zM786.25 524.2h8.3v2.45H786.25zM808.25 524.2h16.55v2.45H808.25zM863.25 524.2h2.8v2.45H863.25zM871.5 524.2h4.55v2.45H871.5zM679 526.6h2.8v2.45H679zM750.5 526.6h5.55v2.45H750.5zM786.25 526.6h8.3v2.45H786.25zM808.25 526.6h8.3v2.45H808.25zM819.25 526.6h5.55v2.45H819.25zM863.25 526.6h2.8v2.45H863.25zM679 529h2.8v2.45H679zM706.5 529h5.55v2.45H706.5zM750.5 529h8.3v2.45H750.5zM786.25 529h8.3v2.45H786.25zM808.25 529h5.55v2.45H808.25zM822 529h2.8v2.45H822zM863.25 529h2.8v2.45H863.25zM679 531.4h2.8v2.45H679zM703.75 531.4h8.3v2.45H703.75zM745 531.4h16.55v2.45H745zM786.25 531.4h8.3v2.45H786.25zM805.5 531.4h8.3v2.45H805.5zM679 533.8h2.8v2.45H679zM701 533.8h5.55v2.45H701zM709.25 533.8h2.8v2.45H709.25zM739.5 533.8h24.8v2.45H739.5zM786.25 533.8h8.3v2.45H786.25zM805.5 533.8h11.05v2.45H805.5zM819.25 533.8h2.8v2.45H819.25zM679 536.2h2.8v2.45H679zM701 536.2h2.8v2.45H701zM736.75 536.2h13.8v2.45H736.75zM761.5 536.2h5.55v2.45H761.5zM789 536.2h5.55v2.45H789zM802.75 536.2h16.55v2.45H802.75zM679 538.6h2.8v2.45H679zM701 538.6h2.8v2.45H701zM736.75 538.6h11.05v2.45H736.75zM764.25 538.6h5.55v2.45H764.25zM800 538.6h8.3v2.45H800zM866 538.6h2.8v2.45H866zM679 541h2.8v2.45H679zM701 541h2.8v2.45H701zM734 541h5.55v2.45H734zM742.25 541h2.8v2.45H742.25zM764.25 541h5.55v2.45H764.25zM797.25 541h8.3v2.45H797.25zM866 541h2.8v2.45H866zM679 543.4h2.8v2.45H679zM701 543.4h2.8v2.45H701zM734 543.4h2.8v2.45H734zM742.25 543.4h2.8v2.45H742.25zM767 543.4h16.55v2.45H767zM797.25 543.4h5.55v2.45H797.25zM866 543.4h2.8v2.45H866zM679 545.8h2.8v2.45H679zM701 545.8h2.8v2.45H701zM734 545.8h2.8v2.45H734zM742.25 545.8h2.8v2.45H742.25zM767 545.8h16.55v2.45H767zM797.25 545.8h5.55v2.45H797.25zM863.25 545.8h5.55v2.45H863.25zM679 548.2h2.8v2.45H679zM701 548.2h2.8v2.45H701zM712 548.2h2.8v2.45H712zM734 548.2h2.8v2.45H734zM742.25 548.2h2.8v2.45H742.25zM769.75 548.2h16.55v2.45H769.75zM797.25 548.2h2.8v2.45H797.25zM863.25 548.2h5.55v2.45H863.25zM701 550.6h2.8v2.45H701zM712 550.6h2.8v2.45H712zM734 550.6h11.05v2.45H734zM778 550.6h8.3v2.45H778zM797.25 550.6h2.8v2.45H797.25zM855 550.6h16.55v2.45H855z"/>
<path fill="#23d30f" d="M679 358.6h2.8v2.45H679zM725.75 368.2h8.3v2.45H725.75zM725.75 370.6h11.05v2.45H725.75zM725.75 373h8.3v2.45H725.75zM808.25 385h2.8v2.45H808.25zM805.5 387.4h5.55v2.45H805.5zM802.75 389.8h2.8v2.45H802.75zM811 389.8h2.8v2.45H811zM769.75 392.2h2.8v2.45H769.75zM800 392.2h2.8v2.45H800zM811 392.2h2.8v2.45H811zM767 394.6h5.55v2.45H767zM811 394.6h2.8v2.45H811zM772.5 397h2.8v2.45H772.5zM797.25 397h2.8v2.45H797.25zM811 397h2.8v2.45H811zM764.25 399.4h2.8v2.45H764.25zM775.25 399.4h2.8v2.45H775.25zM811 399.4h2.8v2.45H811zM681.75 401.8h2.8v2.45H681.75zM794.5 401.8h2.8v2.45H794.5zM778 404.2h2.8v2.45H778zM791.75 404.2h5.55v2.45H791.75zM690 406.6h2.8v2.45H690zM780.75 406.6h2.8v2.45H780.75zM789 406.6h5.55v2.45H789zM780.75 409h11.05v2.45H780.75zM780.75 411.4h5.55v2.45H780.75zM778 413.8h8.3v2.45H778zM701 416.2h2.8v2.45H701zM778 416.2h2.8v2.45H778zM783.5 416.2h2.8v2.45H783.5zM811 416.2h2.8v2.45H811zM775.25 418.6h2.8v2.45H775.25zM786.25 418.6h2.8v2.45H786.25zM811 418.6h2.8v2.45H811zM703.75 421h2.8v2.45H703.75zM791.75 421h19.3v2.45H791.75zM706.5 423.4h2.8v2.45H706.5zM709.25 425.8h2.8v2.45H709.25zM714.75 428.2h13.8v2.45H714.75zM764.25 430.6h2.8v2.45H764.25zM769.75 430.6h2.8v2.45H769.75zM734 433h2.8v2.45H734zM764.25 433h2.8v2.45H764.25zM769.75 433h2.8v2.45H769.75zM734 435.4h2.8v2.45H734zM764.25 435.4h2.8v2.45H764.25zM734 437.8h2.8v2.45H734zM764.25 437.8h2.8v2.45H764.25zM701 440.2h11.05v2.45H701zM734 440.2h2.8v2.45H734zM764.25 440.2h2.8v2.45H764.25zM679 442.6h5.55v2.45H679zM695.5 442.6h2.8v2.45H695.5zM714.75 442.6h2.8v2.45H714.75zM769.75 442.6h2.8v2.45H769.75zM681.75 445h2.8v2.45H681.75zM692.75 445h2.8v2.45H692.75zM761.5 445h2.8v2.45H761.5zM769.75 445h2.8v2.45H769.75zM692.75 447.4h2.8v2.45H692.75zM717.5 447.4h2.8v2.45H717.5zM758.75 447.4h2.8v2.45H758.75zM684.5 449.8h2.8v2.45H684.5zM692.75 449.8h2.8v2.45H692.75zM717.5 449.8h2.8v2.45H717.5zM816.5 449.8h2.8v2.45H816.5zM824.75 449.8h2.8v2.45H824.75zM684.5 452.2h2.8v2.45H684.5zM734 452.2h2.8v2.45H734zM816.5 452.2h2.8v2.45H816.5zM684.5 454.6h2.8v2.45H684.5zM736.75 454.6h2.8v2.45H736.75zM747.75 454.6h2.8v2.45H747.75zM769.75 454.6h2.8v2.45H769.75zM816.5 454.6h2.8v2.45H816.5zM734 457h13.8v2.45H734zM731.25 459.4h5.55v2.45H731.25zM750.5 459.4h5.55v2.45H750.5zM772.5 459.4h2.8v2.45H772.5zM813.75 459.4h2.8v2.45H813.75zM692.75 461.8h2.8v2.45H692.75zM824.75 461.8h2.8v2.45H824.75zM692.75 464.2h2.8v2.45H692.75zM717.5 464.2h2.8v2.45H717.5zM728.5 464.2h2.8v2.45H728.5zM802.75 464.2h8.3v2.45H802.75zM824.75 464.2h2.8v2.45H824.75zM687.25 466.6h2.8v2.45H687.25zM692.75 466.6h2.8v2.45H692.75zM717.5 466.6h2.8v2.45H717.5zM761.5 466.6h2.8v2.45H761.5zM778 466.6h2.8v2.45H778zM687.25 469h2.8v2.45H687.25zM692.75 469h2.8v2.45H692.75zM717.5 469h2.8v2.45H717.5zM797.25 469h2.8v2.45H797.25zM692.75 471.4h2.8v2.45H692.75zM717.5 471.4h2.8v2.45H717.5zM780.75 471.4h2.8v2.45H780.75zM797.25 471.4h2.8v2.45H797.25zM822 471.4h2.8v2.45H822zM684.5 473.8h2.8v2.45H684.5zM692.75 473.8h2.8v2.45H692.75zM780.75 473.8h2.8v2.45H780.75zM797.25 473.8h2.8v2.45H797.25zM822 473.8h2.8v2.45H822zM684.5 476.2h2.8v2.45H684.5zM692.75 476.2h2.8v2.45H692.75zM769.75 476.2h2.8v2.45H769.75zM797.25 476.2h2.8v2.45H797.25zM860.5 476.2h2.8v2.45H860.5zM692.75 478.6h2.8v2.45H692.75zM772.5 478.6h2.8v2.45H772.5zM819.25 478.6h2.8v2.45H819.25zM857.75 478.6h2.8v2.45H857.75zM681.75 481h2.8v2.45H681.75zM692.75 481h2.8v2.45H692.75zM725.75 481h2.8v2.45H725.75zM775.25 481h2.8v2.45H775.25zM783.5 481h2.8v2.45H783.5zM794.5 481h2.8v2.45H794.5zM855 481h2.8v2.45H855zM679 483.4h2.8v2.45H679zM778 483.4h13.8v2.45H778zM816.5 483.4h2.8v2.45H816.5zM679 485.8h2.8v2.45H679zM690 485.8h2.8v2.45H690zM723 485.8h2.8v2.45H723zM780.75 485.8h5.55v2.45H780.75zM679 488.2h2.8v2.45H679zM687.25 488.2h2.8v2.45H687.25zM783.5 488.2h2.8v2.45H783.5zM855 488.2h2.8v2.45H855zM679 490.6h8.3v2.45H679zM783.5 490.6h2.8v2.45H783.5zM857.75 490.6h2.8v2.45H857.75zM874.25 490.6h1.8v2.45H874.25zM679 493h5.55v2.45H679zM679 495.4h2.8v2.45H679zM742.25 495.4h2.8v2.45H742.25zM747.75 495.4h2.8v2.45H747.75zM786.25 495.4h2.8v2.45H786.25zM753.25 497.8h2.8v2.45H753.25zM816.5 497.8h2.8v2.45H816.5zM681.75 500.2h2.8v2.45H681.75zM819.25 500.2h2.8v2.45H819.25zM681.75 502.6h2.8v2.45H681.75zM714.75 502.6h5.55v2.45H714.75zM742.25 502.6h2.8v2.45H742.25zM822 502.6h2.8v2.45H822zM841.25 502.6h2.8v2.45H841.25zM852.25 502.6h2.8v2.45H852.25zM681.75 505h2.8v2.45H681.75zM709.25 505h2.8v2.45H709.25zM723 505h2.8v2.45H723zM742.25 505h2.8v2.45H742.25zM783.5 505h2.8v2.45H783.5zM855 505h2.8v2.45H855zM681.75 507.4h2.8v2.45H681.75zM709.25 507.4h2.8v2.45H709.25zM742.25 507.4h2.8v2.45H742.25zM783.5 507.4h2.8v2.45H783.5zM681.75 509.8h2.8v2.45H681.75zM709.25 509.8h2.8v2.45H709.25zM742.25 509.8h2.8v2.45H742.25zM767 509.8h2.8v2.45H767zM780.75 509.8h2.8v2.45H780.75zM681.75 512.2h2.8v2.45H681.75zM742.25 512.2h2.8v2.45H742.25zM681.75 514.6h2.8v2.45H681.75zM723 514.6h2.8v2.45H723zM742.25 514.6h2.8v2.45H742.25zM681.75 517h2.8v2.45H681.75zM712 517h2.8v2.45H712zM720.25 517h2.8v2.45H720.25zM852.25 517h5.55v2.45H852.25zM681.75 519.4h2.8v2.45H681.75zM712 519.4h8.3v2.45H712zM745 519.4h2.8v2.45H745zM838.5 519.4h8.3v2.45H838.5zM681.75 521.8h2.8v2.45H681.75zM709.25 521.8h8.3v2.45H709.25zM745 521.8h2.8v2.45H745zM824.75 521.8h5.55v2.45H824.75zM863.25 521.8h8.3v2.45H863.25zM681.75 524.2h2.8v2.45H681.75zM709.25 524.2h5.55v2.45H709.25zM747.75 524.2h2.8v2.45H747.75zM824.75 524.2h2.8v2.45H824.75zM681.75 526.6h2.8v2.45H681.75zM706.5 526.6h8.3v2.45H706.5zM745 526.6h5.55v2.45H745zM681.75 529h2.8v2.45H681.75zM703.75 529h2.8v2.45H703.75zM712 529h2.8v2.45H712zM742.25 529h8.3v2.45H742.25zM681.75 531.4h2.8v2.45H681.75zM701 531.4h2.8v2.45H701zM712 531.4h2.8v2.45H712zM739.5 531.4h5.55v2.45H739.5zM822 531.4h2.8v2.45H822zM863.25 531.4h2.8v2.45H863.25zM681.75 533.8h5.55v2.45H681.75zM698.25 533.8h2.8v2.45H698.25zM712 533.8h2.8v2.45H712zM736.75 533.8h2.8v2.45H736.75zM822 533.8h2.8v2.45H822zM863.25 533.8h2.8v2.45H863.25zM681.75 536.2h5.55v2.45H681.75zM695.5 536.2h5.55v2.45H695.5zM712 536.2h2.8v2.45H712zM734 536.2h2.8v2.45H734zM750.5 536.2h11.05v2.45H750.5zM819.25 536.2h2.8v2.45H819.25zM863.25 536.2h2.8v2.45H863.25zM681.75 538.6h8.3v2.45H681.75zM692.75 538.6h8.3v2.45H692.75zM712 538.6h2.8v2.45H712zM734 538.6h2.8v2.45H734zM747.75 538.6h2.8v2.45H747.75zM761.5 538.6h2.8v2.45H761.5zM808.25 538.6h11.05v2.45H808.25zM863.25 538.6h2.8v2.45H863.25zM681.75 541h19.3v2.45H681.75zM712 541h2.8v2.45H712zM745 541h5.55v2.45H745zM761.5 541h2.8v2.45H761.5zM805.5 541h5.55v2.45H805.5zM863.25 541h2.8v2.45H863.25zM681.75 543.4h8.3v2.45H681.75zM692.75 543.4h8.3v2.45H692.75zM712 543.4h2.8v2.45H712zM745 543.4h2.8v2.45H745zM764.25 543.4h2.8v2.45H764.25zM802.75 543.4h2.8v2.45H802.75zM863.25 543.4h2.8v2.45H863.25zM681.75 545.8h5.55v2.45H681.75zM695.5 545.8h5.55v2.45H695.5zM712 545.8h2.8v2.45H712zM731.25 545.8h2.8v2.45H731.25zM745 545.8h2.8v2.45H745zM764.25 545.8h2.8v2.45H764.25zM681.75 548.2h2.8v2.45H681.75zM695.5 548.2h5.55v2.45H695.5zM731.25 548.2h2.8v2.45H731.25zM745 548.2h2.8v2.45H745zM764.25 548.2h5.55v2.45H764.25zM800 548.2h2.8v2.45H800zM857.75 548.2h5.55v2.45H857.75zM679 550.6h5.55v2.45H679zM698.25 550.6h2.8v2.45H698.25zM714.75 550.6h2.8v2.45H714.75zM731.25 550.6h2.8v2.45H731.25zM745 550.6h2.8v2.45H745zM764.25 550.6h13.8v2.45H764.25zM800 550.6h2.8v2.45H800z"/>
<path fill="#34d808" d="M679 356.2h2.8v2.45H679zM681.75 361h2.8v2.45H681.75zM681.75 363.4h2.8v2.45H681.75zM681.75 365.8h2.8v2.45H681.75zM681.75 368.2h2.8v2.45H681.75zM723 368.2h2.8v2.45H723zM734 368.2h2.8v2.45H734zM723 370.6h2.8v2.45H723zM736.75 370.6h2.8v2.45H736.75zM679 373h2.8v2.45H679zM723 373h2.8v2.45H723zM734 373h5.55v2.45H734zM725.75 375.4h8.3v2.45H725.75zM808.25 382.6h5.55v2.45H808.25zM805.5 385h2.8v2.45H805.5zM811 385h2.8v2.45H811zM802.75 387.4h2.8v2.45H802.75zM811 387.4h2.8v2.45H811zM800 389.8h2.8v2.45H800zM767 392.2h2.8v2.45H767zM772.5 392.2h2.8v2.45H772.5zM772.5 394.6h2.8v2.45H772.5zM797.25 394.6h2.8v2.45H797.25zM764.25 397h2.8v2.45H764.25zM775.25 397h2.8v2.45H775.25zM794.5 397h2.8v2.45H794.5zM679 399.4h2.8v2.45H679zM794.5 399.4h2.8v2.45H794.5zM778 401.8h2.8v2.45H778zM791.75 401.8h2.8v2.45H791.75zM761.5 404.2h2.8v2.45H761.5zM780.75 404.2h11.05v2.45H780.75zM813.75 404.2h2.8v2.45H813.75zM783.5 406.6h5.55v2.45H783.5zM813.75 406.6h2.8v2.45H813.75zM695.5 409h2.8v2.45H695.5zM813.75 409h2.8v2.45H813.75zM698.25 411.4h2.8v2.45H698.25zM813.75 411.4h2.8v2.45H813.75zM701 413.8h2.8v2.45H701zM813.75 413.8h2.8v2.45H813.75zM780.75 416.2h2.8v2.45H780.75zM813.75 416.2h2.8v2.45H813.75zM703.75 418.6h2.8v2.45H703.75zM783.5 418.6h2.8v2.45H783.5zM813.75 418.6h2.8v2.45H813.75zM775.25 421h2.8v2.45H775.25zM789 421h2.8v2.45H789zM811 421h2.8v2.45H811zM805.5 423.4h5.55v2.45H805.5zM712 425.8h2.8v2.45H712zM761.5 425.8h2.8v2.45H761.5zM772.5 425.8h2.8v2.45H772.5zM728.5 428.2h5.55v2.45H728.5zM734 430.6h2.8v2.45H734zM772.5 433h2.8v2.45H772.5zM772.5 435.4h2.8v2.45H772.5zM772.5 437.8h2.8v2.45H772.5zM761.5 440.2h2.8v2.45H761.5zM772.5 440.2h2.8v2.45H772.5zM698.25 442.6h5.55v2.45H698.25zM709.25 442.6h5.55v2.45H709.25zM734 442.6h2.8v2.45H734zM761.5 442.6h2.8v2.45H761.5zM679 445h2.8v2.45H679zM695.5 445h2.8v2.45H695.5zM714.75 445h2.8v2.45H714.75zM734 445h2.8v2.45H734zM758.75 445h2.8v2.45H758.75zM819.25 445h5.55v2.45H819.25zM852.25 445h5.55v2.45H852.25zM681.75 447.4h2.8v2.45H681.75zM734 447.4h2.8v2.45H734zM756 447.4h2.8v2.45H756zM769.75 447.4h2.8v2.45H769.75zM816.5 447.4h2.8v2.45H816.5zM824.75 447.4h2.8v2.45H824.75zM855 447.4h2.8v2.45H855zM681.75 449.8h2.8v2.45H681.75zM734 449.8h2.8v2.45H734zM753.25 449.8h2.8v2.45H753.25zM769.75 449.8h2.8v2.45H769.75zM692.75 452.2h2.8v2.45H692.75zM717.5 452.2h2.8v2.45H717.5zM736.75 452.2h2.8v2.45H736.75zM750.5 452.2h2.8v2.45H750.5zM769.75 452.2h2.8v2.45H769.75zM827.5 452.2h2.8v2.45H827.5zM692.75 454.6h2.8v2.45H692.75zM717.5 454.6h2.8v2.45H717.5zM739.5 454.6h8.3v2.45H739.5zM827.5 454.6h2.8v2.45H827.5zM684.5 457h2.8v2.45H684.5zM692.75 457h2.8v2.45H692.75zM717.5 457h2.8v2.45H717.5zM772.5 457h2.8v2.45H772.5zM813.75 457h2.8v2.45H813.75zM827.5 457h2.8v2.45H827.5zM684.5 459.4h2.8v2.45H684.5zM692.75 459.4h2.8v2.45H692.75zM717.5 459.4h2.8v2.45H717.5zM736.75 459.4h13.8v2.45H736.75zM827.5 459.4h2.8v2.45H827.5zM684.5 461.8h2.8v2.45H684.5zM717.5 461.8h2.8v2.45H717.5zM731.25 461.8h2.8v2.45H731.25zM756 461.8h2.8v2.45H756zM775.25 461.8h2.8v2.45H775.25zM808.25 461.8h5.55v2.45H808.25zM684.5 464.2h2.8v2.45H684.5zM758.75 464.2h2.8v2.45H758.75zM800 464.2h2.8v2.45H800zM684.5 466.6h2.8v2.45H684.5zM728.5 466.6h2.8v2.45H728.5zM797.25 466.6h2.8v2.45H797.25zM824.75 466.6h2.8v2.45H824.75zM684.5 469h2.8v2.45H684.5zM780.75 469h2.8v2.45H780.75zM684.5 471.4h2.8v2.45H684.5zM764.25 471.4h2.8v2.45H764.25zM767 473.8h2.8v2.45H767zM863.25 473.8h5.55v2.45H863.25zM794.5 476.2h2.8v2.45H794.5zM822 476.2h2.8v2.45H822zM681.75 478.6h2.8v2.45H681.75zM783.5 478.6h2.8v2.45H783.5zM794.5 478.6h2.8v2.45H794.5zM874.25 478.6h1.8v2.45H874.25zM679 481h2.8v2.45H679zM772.5 481h2.8v2.45H772.5zM786.25 481h8.3v2.45H786.25zM819.25 481h2.8v2.45H819.25zM692.75 483.4h2.8v2.45H692.75zM725.75 483.4h2.8v2.45H725.75zM775.25 483.4h2.8v2.45H775.25zM692.75 485.8h2.8v2.45H692.75zM717.5 485.8h2.8v2.45H717.5zM816.5 485.8h2.8v2.45H816.5zM690 488.2h2.8v2.45H690zM720.25 488.2h2.8v2.45H720.25zM780.75 488.2h2.8v2.45H780.75zM816.5 488.2h2.8v2.45H816.5zM687.25 490.6h2.8v2.45H687.25zM816.5 490.6h2.8v2.45H816.5zM684.5 493h2.8v2.45H684.5zM783.5 493h2.8v2.45H783.5zM816.5 493h2.8v2.45H816.5zM863.25 493h8.3v2.45H863.25zM681.75 495.4h2.8v2.45H681.75zM750.5 495.4h2.8v2.45H750.5zM783.5 495.4h2.8v2.45H783.5zM816.5 495.4h2.8v2.45H816.5zM681.75 497.8h2.8v2.45H681.75zM739.5 497.8h2.8v2.45H739.5zM739.5 500.2h2.8v2.45H739.5zM758.75 500.2h2.8v2.45H758.75zM783.5 500.2h2.8v2.45H783.5zM712 502.6h2.8v2.45H712zM720.25 502.6h2.8v2.45H720.25zM761.5 502.6h2.8v2.45H761.5zM783.5 502.6h2.8v2.45H783.5zM824.75 502.6h5.55v2.45H824.75zM835.75 502.6h5.55v2.45H835.75zM764.25 505h2.8v2.45H764.25zM725.75 507.4h2.8v2.45H725.75zM767 507.4h2.8v2.45H767zM780.75 507.4h2.8v2.45H780.75zM725.75 509.8h2.8v2.45H725.75zM769.75 509.8h11.05v2.45H769.75zM709.25 512.2h2.8v2.45H709.25zM725.75 512.2h2.8v2.45H725.75zM857.75 512.2h2.8v2.45H857.75zM709.25 514.6h2.8v2.45H709.25zM857.75 514.6h2.8v2.45H857.75zM709.25 517h2.8v2.45H709.25zM723 517h2.8v2.45H723zM742.25 517h2.8v2.45H742.25zM857.75 517h2.8v2.45H857.75zM684.5 519.4h2.8v2.45H684.5zM709.25 519.4h2.8v2.45H709.25zM720.25 519.4h2.8v2.45H720.25zM742.25 519.4h2.8v2.45H742.25zM846.75 519.4h2.8v2.45H846.75zM684.5 521.8h2.8v2.45H684.5zM717.5 521.8h2.8v2.45H717.5zM830.25 521.8h5.55v2.45H830.25zM860.5 521.8h2.8v2.45H860.5zM871.5 521.8h2.8v2.45H871.5zM684.5 524.2h5.55v2.45H684.5zM706.5 524.2h2.8v2.45H706.5zM714.75 524.2h2.8v2.45H714.75zM745 524.2h2.8v2.45H745zM827.5 524.2h2.8v2.45H827.5zM860.5 524.2h2.8v2.45H860.5zM684.5 526.6h5.55v2.45H684.5zM703.75 526.6h2.8v2.45H703.75zM742.25 526.6h2.8v2.45H742.25zM824.75 526.6h2.8v2.45H824.75zM860.5 526.6h2.8v2.45H860.5zM684.5 529h5.55v2.45H684.5zM698.25 529h5.55v2.45H698.25zM739.5 529h2.8v2.45H739.5zM824.75 529h2.8v2.45H824.75zM684.5 531.4h16.55v2.45H684.5zM736.75 531.4h2.8v2.45H736.75zM687.25 533.8h11.05v2.45H687.25zM734 533.8h2.8v2.45H734zM687.25 536.2h8.3v2.45H687.25zM690 538.6h2.8v2.45H690zM750.5 538.6h11.05v2.45H750.5zM819.25 538.6h2.8v2.45H819.25zM731.25 541h2.8v2.45H731.25zM750.5 541h2.8v2.45H750.5zM758.75 541h2.8v2.45H758.75zM811 541h5.55v2.45H811zM690 543.4h2.8v2.45H690zM731.25 543.4h2.8v2.45H731.25zM747.75 543.4h2.8v2.45H747.75zM758.75 543.4h5.55v2.45H758.75zM805.5 543.4h5.55v2.45H805.5zM860.5 543.4h2.8v2.45H860.5zM687.25 545.8h8.3v2.45H687.25zM714.75 545.8h2.8v2.45H714.75zM747.75 545.8h2.8v2.45H747.75zM761.5 545.8h2.8v2.45H761.5zM802.75 545.8h2.8v2.45H802.75zM860.5 545.8h2.8v2.45H860.5zM684.5 548.2h11.05v2.45H684.5zM714.75 548.2h2.8v2.45H714.75zM728.5 548.2h2.8v2.45H728.5zM747.75 548.2h2.8v2.45H747.75zM761.5 548.2h2.8v2.45H761.5zM802.75 548.2h2.8v2.45H802.75zM855 548.2h2.8v2.45H855zM684.5 550.6h2.8v2.45H684.5zM692.75 550.6h5.55v2.45H692.75zM728.5 550.6h2.8v2.45H728.5zM747.75 550.6h5.55v2.45H747.75zM761.5 550.6h2.8v2.45H761.5zM852.25 550.6h2.8v2.45H852.25z"/>
<path fill="#46de00" d="M681.75 358.6h2.8v2.45H681.75zM723 365.8h13.8v2.45H723zM720.25 368.2h2.8v2.45H720.25zM736.75 368.2h2.8v2.45H736.75zM681.75 370.6h2.8v2.45H681.75zM720.25 370.6h2.8v2.45H720.25zM739.5 370.6h2.8v2.45H739.5zM720.25 373h2.8v2.45H720.25zM739.5 373h2.8v2.45H739.5zM723 375.4h2.8v2.45H723zM734 375.4h5.55v2.45H734zM808.25 380.2h5.55v2.45H808.25zM805.5 382.6h2.8v2.45H805.5zM802.75 385h2.8v2.45H802.75zM800 387.4h2.8v2.45H800zM767 389.8h8.3v2.45H767zM764.25 392.2h2.8v2.45H764.25zM797.25 392.2h2.8v2.45H797.25zM764.25 394.6h2.8v2.45H764.25zM775.25 394.6h2.8v2.45H775.25zM794.5 394.6h2.8v2.45H794.5zM813.75 394.6h2.8v2.45H813.75zM813.75 397h2.8v2.45H813.75zM778 399.4h2.8v2.45H778zM791.75 399.4h2.8v2.45H791.75zM813.75 399.4h2.8v2.45H813.75zM761.5 401.8h2.8v2.45H761.5zM780.75 401.8h11.05v2.45H780.75zM813.75 401.8h2.8v2.45H813.75zM687.25 404.2h2.8v2.45H687.25zM692.75 406.6h2.8v2.45H692.75zM778 418.6h5.55v2.45H778zM706.5 421h2.8v2.45H706.5zM786.25 421h2.8v2.45H786.25zM813.75 421h2.8v2.45H813.75zM709.25 423.4h2.8v2.45H709.25zM797.25 423.4h8.3v2.45H797.25zM811 423.4h2.8v2.45H811zM714.75 425.8h5.55v2.45H714.75zM761.5 428.2h2.8v2.45H761.5zM772.5 428.2h2.8v2.45H772.5zM761.5 430.6h2.8v2.45H761.5zM772.5 430.6h2.8v2.45H772.5zM736.75 433h2.8v2.45H736.75zM761.5 433h2.8v2.45H761.5zM736.75 435.4h2.8v2.45H736.75zM761.5 435.4h2.8v2.45H761.5zM761.5 437.8h2.8v2.45H761.5zM703.75 442.6h5.55v2.45H703.75zM758.75 442.6h2.8v2.45H758.75zM772.5 442.6h2.8v2.45H772.5zM852.25 442.6h5.55v2.45H852.25zM698.25 445h2.8v2.45H698.25zM712 445h2.8v2.45H712zM816.5 445h2.8v2.45H816.5zM824.75 445h2.8v2.45H824.75zM857.75 445h2.8v2.45H857.75zM679 447.4h2.8v2.45H679zM695.5 447.4h2.8v2.45H695.5zM714.75 447.4h2.8v2.45H714.75zM852.25 447.4h2.8v2.45H852.25zM857.75 447.4h2.8v2.45H857.75zM695.5 449.8h2.8v2.45H695.5zM714.75 449.8h2.8v2.45H714.75zM736.75 449.8h2.8v2.45H736.75zM827.5 449.8h2.8v2.45H827.5zM852.25 449.8h5.55v2.45H852.25zM681.75 452.2h2.8v2.45H681.75zM739.5 452.2h2.8v2.45H739.5zM745 452.2h5.55v2.45H745zM813.75 452.2h2.8v2.45H813.75zM681.75 454.6h2.8v2.45H681.75zM772.5 454.6h2.8v2.45H772.5zM813.75 454.6h2.8v2.45H813.75zM775.25 459.4h2.8v2.45H775.25zM811 459.4h2.8v2.45H811zM734 461.8h5.55v2.45H734zM753.25 461.8h2.8v2.45H753.25zM802.75 461.8h5.55v2.45H802.75zM827.5 461.8h2.8v2.45H827.5zM695.5 464.2h2.8v2.45H695.5zM731.25 464.2h2.8v2.45H731.25zM778 464.2h2.8v2.45H778zM797.25 464.2h2.8v2.45H797.25zM695.5 466.6h2.8v2.45H695.5zM695.5 469h2.8v2.45H695.5zM728.5 469h2.8v2.45H728.5zM761.5 469h2.8v2.45H761.5zM794.5 469h2.8v2.45H794.5zM824.75 469h2.8v2.45H824.75zM695.5 471.4h2.8v2.45H695.5zM714.75 471.4h2.8v2.45H714.75zM728.5 471.4h2.8v2.45H728.5zM794.5 471.4h2.8v2.45H794.5zM824.75 471.4h2.8v2.45H824.75zM681.75 473.8h2.8v2.45H681.75zM695.5 473.8h2.8v2.45H695.5zM714.75 473.8h2.8v2.45H714.75zM728.5 473.8h2.8v2.45H728.5zM783.5 473.8h2.8v2.45H783.5zM794.5 473.8h2.8v2.45H794.5zM860.5 473.8h2.8v2.45H860.5zM868.75 473.8h2.8v2.45H868.75zM681.75 476.2h2.8v2.45H681.75zM714.75 476.2h2.8v2.45H714.75zM783.5 476.2h2.8v2.45H783.5zM857.75 476.2h2.8v2.45H857.75zM871.5 476.2h2.8v2.45H871.5zM679 478.6h2.8v2.45H679zM714.75 478.6h2.8v2.45H714.75zM769.75 478.6h2.8v2.45H769.75zM786.25 478.6h2.8v2.45H786.25zM791.75 478.6h2.8v2.45H791.75zM822 478.6h2.8v2.45H822zM714.75 481h2.8v2.45H714.75zM714.75 483.4h2.8v2.45H714.75zM819.25 483.4h2.8v2.45H819.25zM852.25 483.4h2.8v2.45H852.25zM725.75 485.8h2.8v2.45H725.75zM778 485.8h2.8v2.45H778zM852.25 485.8h2.8v2.45H852.25zM692.75 488.2h2.8v2.45H692.75zM717.5 488.2h2.8v2.45H717.5zM723 488.2h2.8v2.45H723zM690 490.6h2.8v2.45H690zM780.75 490.6h2.8v2.45H780.75zM742.25 493h8.3v2.45H742.25zM860.5 493h2.8v2.45H860.5zM684.5 495.4h2.8v2.45H684.5zM739.5 495.4h2.8v2.45H739.5zM753.25 495.4h2.8v2.45H753.25zM684.5 497.8h2.8v2.45H684.5zM756 497.8h2.8v2.45H756zM783.5 497.8h2.8v2.45H783.5zM819.25 497.8h2.8v2.45H819.25zM684.5 500.2h2.8v2.45H684.5zM714.75 500.2h2.8v2.45H714.75zM822 500.2h2.8v2.45H822zM844 500.2h8.3v2.45H844zM684.5 502.6h2.8v2.45H684.5zM709.25 502.6h2.8v2.45H709.25zM723 502.6h2.8v2.45H723zM739.5 502.6h2.8v2.45H739.5zM830.25 502.6h5.55v2.45H830.25zM855 502.6h2.8v2.45H855zM684.5 505h2.8v2.45H684.5zM706.5 505h2.8v2.45H706.5zM725.75 505h2.8v2.45H725.75zM739.5 505h2.8v2.45H739.5zM767 505h2.8v2.45H767zM684.5 507.4h2.8v2.45H684.5zM706.5 507.4h2.8v2.45H706.5zM739.5 507.4h2.8v2.45H739.5zM769.75 507.4h2.8v2.45H769.75zM684.5 509.8h2.8v2.45H684.5zM739.5 509.8h2.8v2.45H739.5zM857.75 509.8h2.8v2.45H857.75zM684.5 512.2h2.8v2.45H684.5zM739.5 512.2h2.8v2.45H739.5zM684.5 514.6h2.8v2.45H684.5zM725.75 514.6h2.8v2.45H725.75zM739.5 514.6h2.8v2.45H739.5zM684.5 517h2.8v2.45H684.5zM860.5 517h2.8v2.45H860.5zM723 519.4h2.8v2.45H723zM849.5 519.4h19.3v2.45H849.5zM687.25 521.8h2.8v2.45H687.25zM706.5 521.8h2.8v2.45H706.5zM742.25 521.8h2.8v2.45H742.25zM835.75 521.8h5.55v2.45H835.75zM857.75 521.8h2.8v2.45H857.75zM874.25 521.8h1.8v2.45H874.25zM690 524.2h2.8v2.45H690zM703.75 524.2h2.8v2.45H703.75zM717.5 524.2h2.8v2.45H717.5zM742.25 524.2h2.8v2.45H742.25zM830.25 524.2h2.8v2.45H830.25zM690 526.6h5.55v2.45H690zM698.25 526.6h5.55v2.45H698.25zM714.75 526.6h2.8v2.45H714.75zM739.5 526.6h2.8v2.45H739.5zM827.5 526.6h2.8v2.45H827.5zM690 529h8.3v2.45H690zM714.75 529h2.8v2.45H714.75zM736.75 529h2.8v2.45H736.75zM860.5 529h2.8v2.45H860.5zM714.75 531.4h2.8v2.45H714.75zM734 531.4h2.8v2.45H734zM824.75 531.4h2.8v2.45H824.75zM860.5 531.4h2.8v2.45H860.5zM714.75 533.8h2.8v2.45H714.75zM860.5 533.8h2.8v2.45H860.5zM731.25 536.2h2.8v2.45H731.25zM822 536.2h2.8v2.45H822zM860.5 536.2h2.8v2.45H860.5zM731.25 538.6h2.8v2.45H731.25zM860.5 538.6h2.8v2.45H860.5zM714.75 541h2.8v2.45H714.75zM753.25 541h5.55v2.45H753.25zM816.5 541h2.8v2.45H816.5zM860.5 541h2.8v2.45H860.5zM714.75 543.4h2.8v2.45H714.75zM750.5 543.4h8.3v2.45H750.5zM811 543.4h2.8v2.45H811zM728.5 545.8h2.8v2.45H728.5zM750.5 545.8h11.05v2.45H750.5zM805.5 545.8h2.8v2.45H805.5zM857.75 545.8h2.8v2.45H857.75zM717.5 548.2h2.8v2.45H717.5zM750.5 548.2h11.05v2.45H750.5zM687.25 550.6h5.55v2.45H687.25zM717.5 550.6h11.05v2.45H717.5zM753.25 550.6h8.3v2.45H753.25zM802.75 550.6h2.8v2.45H802.75z"/>
<path fill="#62e400" d="M679 353.8h2.8v2.45H679zM681.75 356.2h2.8v2.45H681.75zM728.5 363.4h2.8v2.45H728.5zM720.25 365.8h2.8v2.45H720.25zM736.75 365.8h2.8v2.45H736.75zM739.5 368.2h2.8v2.45H739.5zM742.25 370.6h2.8v2.45H742.25zM720.25 375.4h2.8v2.45H720.25zM739.5 375.4h2.8v2.45H739.5zM725.75 377.8h8.3v2.45H725.75zM808.25 377.8h5.55v2.45H808.25zM805.5 380.2h2.8v2.45H805.5zM813.75 380.2h2.8v2.45H813.75zM802.75 382.6h2.8v2.45H802.75zM813.75 382.6h2.8v2.45H813.75zM813.75 385h2.8v2.45H813.75zM769.75 387.4h2.8v2.45H769.75zM813.75 387.4h2.8v2.45H813.75zM764.25 389.8h2.8v2.45H764.25zM797.25 389.8h2.8v2.45H797.25zM813.75 389.8h2.8v2.45H813.75zM775.25 392.2h2.8v2.45H775.25zM794.5 392.2h2.8v2.45H794.5zM813.75 392.2h2.8v2.45H813.75zM778 394.6h2.8v2.45H778zM778 397h2.8v2.45H778zM791.75 397h2.8v2.45H791.75zM681.75 399.4h2.8v2.45H681.75zM761.5 399.4h2.8v2.45H761.5zM780.75 399.4h11.05v2.45H780.75zM684.5 401.8h2.8v2.45H684.5zM816.5 406.6h2.8v2.45H816.5zM698.25 409h2.8v2.45H698.25zM816.5 409h2.8v2.45H816.5zM701 411.4h2.8v2.45H701zM758.75 411.4h2.8v2.45H758.75zM816.5 411.4h2.8v2.45H816.5zM758.75 413.8h2.8v2.45H758.75zM816.5 413.8h2.8v2.45H816.5zM703.75 416.2h2.8v2.45H703.75zM758.75 416.2h2.8v2.45H758.75zM816.5 416.2h2.8v2.45H816.5zM816.5 418.6h2.8v2.45H816.5zM778 421h2.8v2.45H778zM783.5 421h2.8v2.45H783.5zM712 423.4h2.8v2.45H712zM775.25 423.4h2.8v2.45H775.25zM791.75 423.4h5.55v2.45H791.75zM813.75 423.4h2.8v2.45H813.75zM720.25 425.8h5.55v2.45H720.25zM802.75 425.8h11.05v2.45H802.75zM734 428.2h2.8v2.45H734zM736.75 430.6h2.8v2.45H736.75zM736.75 437.8h2.8v2.45H736.75zM736.75 440.2h2.8v2.45H736.75zM852.25 440.2h5.55v2.45H852.25zM736.75 442.6h2.8v2.45H736.75zM819.25 442.6h8.3v2.45H819.25zM849.5 442.6h2.8v2.45H849.5zM857.75 442.6h2.8v2.45H857.75zM701 445h11.05v2.45H701zM756 445h2.8v2.45H756zM772.5 445h2.8v2.45H772.5zM849.5 445h2.8v2.45H849.5zM698.25 447.4h2.8v2.45H698.25zM712 447.4h2.8v2.45H712zM736.75 447.4h2.8v2.45H736.75zM753.25 447.4h2.8v2.45H753.25zM772.5 447.4h2.8v2.45H772.5zM813.75 447.4h2.8v2.45H813.75zM827.5 447.4h2.8v2.45H827.5zM849.5 447.4h2.8v2.45H849.5zM679 449.8h2.8v2.45H679zM750.5 449.8h2.8v2.45H750.5zM772.5 449.8h2.8v2.45H772.5zM813.75 449.8h2.8v2.45H813.75zM857.75 449.8h2.8v2.45H857.75zM695.5 452.2h2.8v2.45H695.5zM714.75 452.2h2.8v2.45H714.75zM742.25 452.2h2.8v2.45H742.25zM772.5 452.2h2.8v2.45H772.5zM695.5 454.6h2.8v2.45H695.5zM714.75 454.6h2.8v2.45H714.75zM830.25 454.6h2.8v2.45H830.25zM681.75 457h2.8v2.45H681.75zM695.5 457h2.8v2.45H695.5zM714.75 457h2.8v2.45H714.75zM811 457h2.8v2.45H811zM830.25 457h2.8v2.45H830.25zM681.75 459.4h2.8v2.45H681.75zM695.5 459.4h2.8v2.45H695.5zM714.75 459.4h2.8v2.45H714.75zM808.25 459.4h2.8v2.45H808.25zM830.25 459.4h2.8v2.45H830.25zM681.75 461.8h2.8v2.45H681.75zM695.5 461.8h2.8v2.45H695.5zM714.75 461.8h2.8v2.45H714.75zM739.5 461.8h13.8v2.45H739.5zM800 461.8h2.8v2.45H800zM714.75 464.2h2.8v2.45H714.75zM734 464.2h2.8v2.45H734zM756 464.2h2.8v2.45H756zM827.5 464.2h2.8v2.45H827.5zM681.75 466.6h2.8v2.45H681.75zM714.75 466.6h2.8v2.45H714.75zM731.25 466.6h2.8v2.45H731.25zM758.75 466.6h2.8v2.45H758.75zM780.75 466.6h2.8v2.45H780.75zM794.5 466.6h2.8v2.45H794.5zM681.75 469h2.8v2.45H681.75zM714.75 469h2.8v2.45H714.75zM681.75 471.4h2.8v2.45H681.75zM783.5 471.4h2.8v2.45H783.5zM863.25 471.4h2.8v2.45H863.25zM791.75 473.8h2.8v2.45H791.75zM824.75 473.8h2.8v2.45H824.75zM679 476.2h2.8v2.45H679zM695.5 476.2h2.8v2.45H695.5zM728.5 476.2h2.8v2.45H728.5zM767 476.2h2.8v2.45H767zM786.25 476.2h2.8v2.45H786.25zM791.75 476.2h2.8v2.45H791.75zM695.5 478.6h2.8v2.45H695.5zM728.5 478.6h2.8v2.45H728.5zM789 478.6h2.8v2.45H789zM855 478.6h2.8v2.45H855zM695.5 481h2.8v2.45H695.5zM769.75 481h2.8v2.45H769.75zM852.25 481h2.8v2.45H852.25zM695.5 483.4h2.8v2.45H695.5zM772.5 483.4h2.8v2.45H772.5zM695.5 485.8h2.8v2.45H695.5zM714.75 485.8h2.8v2.45H714.75zM775.25 485.8h2.8v2.45H775.25zM819.25 485.8h2.8v2.45H819.25zM725.75 488.2h2.8v2.45H725.75zM778 488.2h2.8v2.45H778zM819.25 488.2h2.8v2.45H819.25zM852.25 488.2h2.8v2.45H852.25zM692.75 490.6h2.8v2.45H692.75zM855 490.6h2.8v2.45H855zM687.25 493h2.8v2.45H687.25zM780.75 493h2.8v2.45H780.75zM819.25 493h2.8v2.45H819.25zM871.5 493h2.8v2.45H871.5zM819.25 495.4h2.8v2.45H819.25zM736.75 497.8h2.8v2.45H736.75zM822 497.8h2.8v2.45H822zM709.25 500.2h5.55v2.45H709.25zM717.5 500.2h5.55v2.45H717.5zM736.75 500.2h2.8v2.45H736.75zM761.5 500.2h2.8v2.45H761.5zM824.75 500.2h2.8v2.45H824.75zM841.25 500.2h2.8v2.45H841.25zM852.25 500.2h2.8v2.45H852.25zM706.5 502.6h2.8v2.45H706.5zM725.75 502.6h2.8v2.45H725.75zM764.25 502.6h2.8v2.45H764.25zM780.75 502.6h2.8v2.45H780.75zM780.75 505h2.8v2.45H780.75zM728.5 507.4h2.8v2.45H728.5zM772.5 507.4h8.3v2.45H772.5zM857.75 507.4h2.8v2.45H857.75zM706.5 509.8h2.8v2.45H706.5zM728.5 509.8h2.8v2.45H728.5zM706.5 512.2h2.8v2.45H706.5zM728.5 512.2h2.8v2.45H728.5zM706.5 514.6h2.8v2.45H706.5zM860.5 514.6h2.8v2.45H860.5zM687.25 517h2.8v2.45H687.25zM706.5 517h2.8v2.45H706.5zM725.75 517h2.8v2.45H725.75zM739.5 517h2.8v2.45H739.5zM863.25 517h2.8v2.45H863.25zM687.25 519.4h2.8v2.45H687.25zM706.5 519.4h2.8v2.45H706.5zM739.5 519.4h2.8v2.45H739.5zM868.75 519.4h2.8v2.45H868.75zM690 521.8h2.8v2.45H690zM703.75 521.8h2.8v2.45H703.75zM720.25 521.8h2.8v2.45H720.25zM739.5 521.8h2.8v2.45H739.5zM841.25 521.8h2.8v2.45H841.25zM692.75 524.2h2.8v2.45H692.75zM701 524.2h2.8v2.45H701zM739.5 524.2h2.8v2.45H739.5zM833 524.2h2.8v2.45H833zM857.75 524.2h2.8v2.45H857.75zM695.5 526.6h2.8v2.45H695.5zM717.5 526.6h2.8v2.45H717.5zM736.75 526.6h2.8v2.45H736.75zM734 529h2.8v2.45H734zM827.5 529h2.8v2.45H827.5zM731.25 531.4h2.8v2.45H731.25zM731.25 533.8h2.8v2.45H731.25zM824.75 533.8h2.8v2.45H824.75zM714.75 536.2h2.8v2.45H714.75zM714.75 538.6h2.8v2.45H714.75zM822 538.6h2.8v2.45H822zM819.25 541h2.8v2.45H819.25zM728.5 543.4h2.8v2.45H728.5zM813.75 543.4h5.55v2.45H813.75zM857.75 543.4h2.8v2.45H857.75zM717.5 545.8h2.8v2.45H717.5zM808.25 545.8h2.8v2.45H808.25zM855 545.8h2.8v2.45H855zM720.25 548.2h2.8v2.45H720.25zM725.75 548.2h2.8v2.45H725.75zM805.5 548.2h2.8v2.45H805.5zM852.25 548.2h2.8v2.45H852.25zM849.5 550.6h2.8v2.45H849.5z"/>
<path fill="#7dea00" d="M679 351.4h2.8v2.45H679zM681.75 353.8h2.8v2.45H681.75zM684.5 358.6h2.8v2.45H684.5zM684.5 361h2.8v2.45H684.5zM698.25 361h5.55v2.45H698.25zM684.5 363.4h2.8v2.45H684.5zM698.25 363.4h5.55v2.45H698.25zM723 363.4h5.55v2.45H723zM731.25 363.4h5.55v2.45H731.25zM684.5 365.8h2.8v2.45H684.5zM701 365.8h2.8v2.45H701zM739.5 365.8h2.8v2.45H739.5zM717.5 368.2h2.8v2.45H717.5zM742.25 368.2h2.8v2.45H742.25zM717.5 370.6h2.8v2.45H717.5zM681.75 373h2.8v2.45H681.75zM717.5 373h2.8v2.45H717.5zM742.25 373h2.8v2.45H742.25zM679 375.4h2.8v2.45H679zM742.25 375.4h2.8v2.45H742.25zM808.25 375.4h5.55v2.45H808.25zM723 377.8h2.8v2.45H723zM734 377.8h8.3v2.45H734zM805.5 377.8h2.8v2.45H805.5zM813.75 377.8h2.8v2.45H813.75zM802.75 380.2h2.8v2.45H802.75zM800 385h2.8v2.45H800zM767 387.4h2.8v2.45H767zM772.5 387.4h2.8v2.45H772.5zM797.25 387.4h2.8v2.45H797.25zM775.25 389.8h2.8v2.45H775.25zM794.5 389.8h2.8v2.45H794.5zM778 392.2h2.8v2.45H778zM780.75 394.6h2.8v2.45H780.75zM791.75 394.6h2.8v2.45H791.75zM761.5 397h2.8v2.45H761.5zM780.75 397h11.05v2.45H780.75zM816.5 399.4h2.8v2.45H816.5zM816.5 401.8h2.8v2.45H816.5zM690 404.2h2.8v2.45H690zM816.5 404.2h2.8v2.45H816.5zM695.5 406.6h2.8v2.45H695.5zM758.75 406.6h2.8v2.45H758.75zM758.75 409h2.8v2.45H758.75zM819.25 411.4h2.8v2.45H819.25zM703.75 413.8h2.8v2.45H703.75zM819.25 413.8h2.8v2.45H819.25zM819.25 416.2h2.8v2.45H819.25zM706.5 418.6h2.8v2.45H706.5zM758.75 418.6h2.8v2.45H758.75zM709.25 421h2.8v2.45H709.25zM758.75 421h2.8v2.45H758.75zM780.75 421h2.8v2.45H780.75zM816.5 421h2.8v2.45H816.5zM786.25 423.4h5.55v2.45H786.25zM725.75 425.8h5.55v2.45H725.75zM775.25 425.8h2.8v2.45H775.25zM800 425.8h2.8v2.45H800zM813.75 425.8h2.8v2.45H813.75zM805.5 428.2h8.3v2.45H805.5zM775.25 433h2.8v2.45H775.25zM775.25 435.4h2.8v2.45H775.25zM775.25 437.8h2.8v2.45H775.25zM852.25 437.8h5.55v2.45H852.25zM758.75 440.2h2.8v2.45H758.75zM822 440.2h2.8v2.45H822zM849.5 440.2h2.8v2.45H849.5zM857.75 440.2h2.8v2.45H857.75zM756 442.6h2.8v2.45H756zM816.5 442.6h2.8v2.45H816.5zM827.5 442.6h2.8v2.45H827.5zM860.5 442.6h2.8v2.45H860.5zM736.75 445h2.8v2.45H736.75zM813.75 445h2.8v2.45H813.75zM827.5 445h2.8v2.45H827.5zM860.5 445h2.8v2.45H860.5zM860.5 447.4h2.8v2.45H860.5zM698.25 449.8h2.8v2.45H698.25zM712 449.8h2.8v2.45H712zM739.5 449.8h2.8v2.45H739.5zM747.75 449.8h2.8v2.45H747.75zM830.25 449.8h2.8v2.45H830.25zM849.5 449.8h2.8v2.45H849.5zM860.5 449.8h2.8v2.45H860.5zM679 452.2h2.8v2.45H679zM830.25 452.2h2.8v2.45H830.25zM852.25 452.2h8.3v2.45H852.25zM679 454.6h2.8v2.45H679zM811 454.6h2.8v2.45H811zM775.25 457h2.8v2.45H775.25zM802.75 459.4h5.55v2.45H802.75zM778 461.8h2.8v2.45H778zM830.25 461.8h2.8v2.45H830.25zM681.75 464.2h2.8v2.45H681.75zM698.25 464.2h2.8v2.45H698.25zM736.75 464.2h2.8v2.45H736.75zM698.25 466.6h2.8v2.45H698.25zM827.5 466.6h2.8v2.45H827.5zM698.25 469h2.8v2.45H698.25zM731.25 469h2.8v2.45H731.25zM783.5 469h2.8v2.45H783.5zM791.75 469h2.8v2.45H791.75zM698.25 471.4h2.8v2.45H698.25zM761.5 471.4h2.8v2.45H761.5zM791.75 471.4h2.8v2.45H791.75zM866 471.4h2.8v2.45H866zM679 473.8h2.8v2.45H679zM764.25 473.8h2.8v2.45H764.25zM786.25 473.8h2.8v2.45H786.25zM789 476.2h2.8v2.45H789zM824.75 476.2h2.8v2.45H824.75zM728.5 481h2.8v2.45H728.5zM822 481h2.8v2.45H822zM728.5 483.4h2.8v2.45H728.5zM849.5 483.4h2.8v2.45H849.5zM849.5 485.8h2.8v2.45H849.5zM695.5 488.2h2.8v2.45H695.5zM714.75 488.2h2.8v2.45H714.75zM717.5 490.6h8.3v2.45H717.5zM778 490.6h2.8v2.45H778zM819.25 490.6h2.8v2.45H819.25zM690 493h2.8v2.45H690zM739.5 493h2.8v2.45H739.5zM750.5 493h2.8v2.45H750.5zM857.75 493h2.8v2.45H857.75zM874.25 493h1.8v2.45H874.25zM687.25 495.4h2.8v2.45H687.25zM736.75 495.4h2.8v2.45H736.75zM756 495.4h2.8v2.45H756zM780.75 495.4h2.8v2.45H780.75zM687.25 497.8h2.8v2.45H687.25zM758.75 497.8h2.8v2.45H758.75zM780.75 497.8h2.8v2.45H780.75zM846.75 497.8h2.8v2.45H846.75zM687.25 500.2h2.8v2.45H687.25zM706.5 500.2h2.8v2.45H706.5zM723 500.2h2.8v2.45H723zM780.75 500.2h2.8v2.45H780.75zM827.5 500.2h2.8v2.45H827.5zM835.75 500.2h5.55v2.45H835.75zM855 500.2h2.8v2.45H855zM687.25 502.6h2.8v2.45H687.25zM703.75 502.6h2.8v2.45H703.75zM736.75 502.6h2.8v2.45H736.75zM767 502.6h2.8v2.45H767zM687.25 505h2.8v2.45H687.25zM703.75 505h2.8v2.45H703.75zM728.5 505h2.8v2.45H728.5zM736.75 505h2.8v2.45H736.75zM769.75 505h2.8v2.45H769.75zM778 505h2.8v2.45H778zM857.75 505h2.8v2.45H857.75zM687.25 507.4h2.8v2.45H687.25zM736.75 507.4h2.8v2.45H736.75zM687.25 509.8h2.8v2.45H687.25zM736.75 509.8h2.8v2.45H736.75zM687.25 512.2h2.8v2.45H687.25zM736.75 512.2h2.8v2.45H736.75zM860.5 512.2h2.8v2.45H860.5zM687.25 514.6h2.8v2.45H687.25zM728.5 514.6h2.8v2.45H728.5zM736.75 514.6h2.8v2.45H736.75zM728.5 517h2.8v2.45H728.5zM736.75 517h2.8v2.45H736.75zM690 519.4h2.8v2.45H690zM703.75 519.4h2.8v2.45H703.75zM725.75 519.4h2.8v2.45H725.75zM736.75 519.4h2.8v2.45H736.75zM871.5 519.4h2.8v2.45H871.5zM692.75 521.8h2.8v2.45H692.75zM701 521.8h2.8v2.45H701zM723 521.8h2.8v2.45H723zM736.75 521.8h2.8v2.45H736.75zM844 521.8h13.8v2.45H844zM695.5 524.2h5.55v2.45H695.5zM720.25 524.2h2.8v2.45H720.25zM736.75 524.2h2.8v2.45H736.75zM835.75 524.2h2.8v2.45H835.75zM734 526.6h2.8v2.45H734zM830.25 526.6h2.8v2.45H830.25zM857.75 526.6h2.8v2.45H857.75zM717.5 529h2.8v2.45H717.5zM731.25 529h2.8v2.45H731.25zM857.75 529h2.8v2.45H857.75zM827.5 531.4h2.8v2.45H827.5zM728.5 536.2h2.8v2.45H728.5zM824.75 536.2h2.8v2.45H824.75zM728.5 538.6h2.8v2.45H728.5zM728.5 541h2.8v2.45H728.5zM822 541h2.8v2.45H822zM717.5 543.4h2.8v2.45H717.5zM819.25 543.4h2.8v2.45H819.25zM725.75 545.8h2.8v2.45H725.75zM811 545.8h5.55v2.45H811zM723 548.2h2.8v2.45H723zM808.25 548.2h2.8v2.45H808.25zM849.5 548.2h2.8v2.45H849.5zM805.5 550.6h2.8v2.45H805.5z"/>
<path fill="#98ef00" d="M783.5 325h11.05v2.45H783.5zM783.5 327.4h11.05v2.45H783.5zM783.5 329.8h8.3v2.45H783.5zM783.5 332.2h5.55v2.45H783.5zM684.5 356.2h2.8v2.45H684.5zM701 356.2h2.8v2.45H701zM698.25 358.6h8.3v2.45H698.25zM695.5 361h2.8v2.45H695.5zM703.75 361h2.8v2.45H703.75zM723 361h8.3v2.45H723zM703.75 363.4h2.8v2.45H703.75zM720.25 363.4h2.8v2.45H720.25zM736.75 363.4h5.55v2.45H736.75zM698.25 365.8h2.8v2.45H698.25zM703.75 365.8h2.8v2.45H703.75zM717.5 365.8h2.8v2.45H717.5zM742.25 365.8h2.8v2.45H742.25zM684.5 368.2h2.8v2.45H684.5zM701 368.2h2.8v2.45H701zM745 368.2h2.8v2.45H745zM745 370.6h2.8v2.45H745zM745 373h2.8v2.45H745zM808.25 373h8.3v2.45H808.25zM717.5 375.4h2.8v2.45H717.5zM745 375.4h2.8v2.45H745zM805.5 375.4h2.8v2.45H805.5zM813.75 375.4h2.8v2.45H813.75zM720.25 377.8h2.8v2.45H720.25zM742.25 377.8h2.8v2.45H742.25zM802.75 377.8h2.8v2.45H802.75zM816.5 377.8h2.8v2.45H816.5zM725.75 380.2h8.3v2.45H725.75zM816.5 380.2h2.8v2.45H816.5zM800 382.6h2.8v2.45H800zM816.5 382.6h2.8v2.45H816.5zM769.75 385h2.8v2.45H769.75zM797.25 385h2.8v2.45H797.25zM816.5 385h2.8v2.45H816.5zM764.25 387.4h2.8v2.45H764.25zM775.25 387.4h2.8v2.45H775.25zM794.5 387.4h2.8v2.45H794.5zM816.5 387.4h2.8v2.45H816.5zM778 389.8h2.8v2.45H778zM816.5 389.8h2.8v2.45H816.5zM761.5 392.2h2.8v2.45H761.5zM780.75 392.2h2.8v2.45H780.75zM791.75 392.2h2.8v2.45H791.75zM816.5 392.2h2.8v2.45H816.5zM761.5 394.6h2.8v2.45H761.5zM783.5 394.6h8.3v2.45H783.5zM816.5 394.6h2.8v2.45H816.5zM679 397h2.8v2.45H679zM816.5 397h2.8v2.45H816.5zM687.25 401.8h2.8v2.45H687.25zM758.75 404.2h2.8v2.45H758.75zM819.25 406.6h2.8v2.45H819.25zM819.25 409h2.8v2.45H819.25zM819.25 418.6h2.8v2.45H819.25zM819.25 421h2.8v2.45H819.25zM714.75 423.4h2.8v2.45H714.75zM758.75 423.4h2.8v2.45H758.75zM778 423.4h8.3v2.45H778zM816.5 423.4h2.8v2.45H816.5zM731.25 425.8h2.8v2.45H731.25zM758.75 425.8h2.8v2.45H758.75zM797.25 425.8h2.8v2.45H797.25zM816.5 425.8h2.8v2.45H816.5zM736.75 428.2h2.8v2.45H736.75zM758.75 428.2h2.8v2.45H758.75zM775.25 428.2h2.8v2.45H775.25zM802.75 428.2h2.8v2.45H802.75zM813.75 428.2h2.8v2.45H813.75zM775.25 430.6h2.8v2.45H775.25zM808.25 430.6h5.55v2.45H808.25zM739.5 433h2.8v2.45H739.5zM739.5 435.4h2.8v2.45H739.5zM758.75 435.4h2.8v2.45H758.75zM849.5 435.4h11.05v2.45H849.5zM739.5 437.8h2.8v2.45H739.5zM758.75 437.8h2.8v2.45H758.75zM849.5 437.8h2.8v2.45H849.5zM857.75 437.8h2.8v2.45H857.75zM775.25 440.2h2.8v2.45H775.25zM816.5 440.2h5.55v2.45H816.5zM824.75 440.2h5.55v2.45H824.75zM846.75 440.2h2.8v2.45H846.75zM860.5 440.2h2.8v2.45H860.5zM775.25 442.6h2.8v2.45H775.25zM813.75 442.6h2.8v2.45H813.75zM846.75 442.6h2.8v2.45H846.75zM753.25 445h2.8v2.45H753.25zM830.25 445h2.8v2.45H830.25zM846.75 445h2.8v2.45H846.75zM701 447.4h11.05v2.45H701zM739.5 447.4h2.8v2.45H739.5zM750.5 447.4h2.8v2.45H750.5zM830.25 447.4h2.8v2.45H830.25zM846.75 447.4h2.8v2.45H846.75zM742.25 449.8h5.55v2.45H742.25zM811 449.8h2.8v2.45H811zM846.75 449.8h2.8v2.45H846.75zM698.25 452.2h2.8v2.45H698.25zM712 452.2h2.8v2.45H712zM811 452.2h2.8v2.45H811zM849.5 452.2h2.8v2.45H849.5zM860.5 452.2h2.8v2.45H860.5zM833 454.6h2.8v2.45H833zM679 457h2.8v2.45H679zM808.25 457h2.8v2.45H808.25zM833 457h2.8v2.45H833zM698.25 459.4h2.8v2.45H698.25zM833 459.4h2.8v2.45H833zM698.25 461.8h2.8v2.45H698.25zM712 461.8h2.8v2.45H712zM797.25 461.8h2.8v2.45H797.25zM712 464.2h2.8v2.45H712zM739.5 464.2h16.55v2.45H739.5zM780.75 464.2h2.8v2.45H780.75zM794.5 464.2h2.8v2.45H794.5zM830.25 464.2h2.8v2.45H830.25zM712 466.6h2.8v2.45H712zM734 466.6h2.8v2.45H734zM756 466.6h2.8v2.45H756zM783.5 466.6h2.8v2.45H783.5zM791.75 466.6h2.8v2.45H791.75zM679 469h2.8v2.45H679zM712 469h2.8v2.45H712zM758.75 469h2.8v2.45H758.75zM827.5 469h2.8v2.45H827.5zM863.25 469h2.8v2.45H863.25zM679 471.4h2.8v2.45H679zM712 471.4h2.8v2.45H712zM731.25 471.4h2.8v2.45H731.25zM786.25 471.4h5.55v2.45H786.25zM827.5 471.4h2.8v2.45H827.5zM860.5 471.4h2.8v2.45H860.5zM868.75 471.4h2.8v2.45H868.75zM698.25 473.8h2.8v2.45H698.25zM712 473.8h2.8v2.45H712zM789 473.8h2.8v2.45H789zM857.75 473.8h2.8v2.45H857.75zM871.5 473.8h2.8v2.45H871.5zM698.25 476.2h2.8v2.45H698.25zM855 476.2h2.8v2.45H855zM874.25 476.2h1.8v2.45H874.25zM698.25 478.6h2.8v2.45H698.25zM712 478.6h2.8v2.45H712zM767 478.6h2.8v2.45H767zM824.75 478.6h2.8v2.45H824.75zM698.25 481h2.8v2.45H698.25zM712 481h2.8v2.45H712zM698.25 483.4h2.8v2.45H698.25zM712 483.4h2.8v2.45H712zM769.75 483.4h2.8v2.45H769.75zM822 483.4h2.8v2.45H822zM698.25 485.8h2.8v2.45H698.25zM712 485.8h2.8v2.45H712zM728.5 485.8h2.8v2.45H728.5zM772.5 485.8h2.8v2.45H772.5zM775.25 488.2h2.8v2.45H775.25zM849.5 488.2h2.8v2.45H849.5zM695.5 490.6h2.8v2.45H695.5zM725.75 490.6h2.8v2.45H725.75zM742.25 490.6h5.55v2.45H742.25zM852.25 490.6h2.8v2.45H852.25zM692.75 493h2.8v2.45H692.75zM720.25 493h2.8v2.45H720.25zM736.75 493h2.8v2.45H736.75zM753.25 493h2.8v2.45H753.25zM778 493h2.8v2.45H778zM855 493h2.8v2.45H855zM690 495.4h2.8v2.45H690zM822 495.4h2.8v2.45H822zM860.5 495.4h8.3v2.45H860.5zM690 497.8h2.8v2.45H690zM709.25 497.8h16.55v2.45H709.25zM734 497.8h2.8v2.45H734zM824.75 497.8h2.8v2.45H824.75zM841.25 497.8h5.55v2.45H841.25zM849.5 497.8h5.55v2.45H849.5zM703.75 500.2h2.8v2.45H703.75zM725.75 500.2h2.8v2.45H725.75zM734 500.2h2.8v2.45H734zM764.25 500.2h2.8v2.45H764.25zM830.25 500.2h5.55v2.45H830.25zM728.5 502.6h8.3v2.45H728.5zM778 502.6h2.8v2.45H778zM857.75 502.6h2.8v2.45H857.75zM731.25 505h5.55v2.45H731.25zM772.5 505h5.55v2.45H772.5zM703.75 507.4h2.8v2.45H703.75zM731.25 507.4h5.55v2.45H731.25zM703.75 509.8h2.8v2.45H703.75zM731.25 509.8h5.55v2.45H731.25zM731.25 512.2h5.55v2.45H731.25zM731.25 514.6h5.55v2.45H731.25zM863.25 514.6h2.8v2.45H863.25zM690 517h2.8v2.45H690zM703.75 517h2.8v2.45H703.75zM731.25 517h5.55v2.45H731.25zM866 517h2.8v2.45H866zM692.75 519.4h2.8v2.45H692.75zM728.5 519.4h8.3v2.45H728.5zM874.25 519.4h1.8v2.45H874.25zM695.5 521.8h5.55v2.45H695.5zM725.75 521.8h5.55v2.45H725.75zM734 521.8h2.8v2.45H734zM723 524.2h2.8v2.45H723zM731.25 524.2h5.55v2.45H731.25zM838.5 524.2h2.8v2.45H838.5zM855 524.2h2.8v2.45H855zM720.25 526.6h2.8v2.45H720.25zM731.25 526.6h2.8v2.45H731.25zM833 526.6h2.8v2.45H833zM728.5 529h2.8v2.45H728.5zM830.25 529h2.8v2.45H830.25zM717.5 531.4h2.8v2.45H717.5zM728.5 531.4h2.8v2.45H728.5zM857.75 531.4h2.8v2.45H857.75zM717.5 533.8h2.8v2.45H717.5zM728.5 533.8h2.8v2.45H728.5zM857.75 533.8h2.8v2.45H857.75zM717.5 536.2h2.8v2.45H717.5zM857.75 536.2h2.8v2.45H857.75zM717.5 538.6h2.8v2.45H717.5zM824.75 538.6h2.8v2.45H824.75zM857.75 538.6h2.8v2.45H857.75zM717.5 541h2.8v2.45H717.5zM857.75 541h2.8v2.45H857.75zM725.75 543.4h2.8v2.45H725.75zM822 543.4h2.8v2.45H822zM855 543.4h2.8v2.45H855zM720.25 545.8h5.55v2.45H720.25zM816.5 545.8h5.55v2.45H816.5zM852.25 545.8h2.8v2.45H852.25zM811 548.2h2.8v2.45H811zM808.25 550.6h2.8v2.45H808.25zM846.75 550.6h2.8v2.45H846.75z"/>
<path fill="#b4f500" d="M706.5 325h11.05v2.45H706.5zM778 325h5.55v2.45H778zM794.5 325h5.55v2.45H794.5zM709.25 327.4h8.3v2.45H709.25zM775.25 327.4h8.3v2.45H775.25zM794.5 327.4h5.55v2.45H794.5zM709.25 329.8h5.55v2.45H709.25zM775.25 329.8h8.3v2.45H775.25zM791.75 329.8h11.05v2.45H791.75zM775.25 332.2h8.3v2.45H775.25zM789 332.2h13.8v2.45H789zM775.25 334.6h24.8v2.45H775.25zM775.25 337h24.8v2.45H775.25zM775.25 339.4h22.05v2.45H775.25zM775.25 341.8h19.3v2.45H775.25zM778 344.2h8.3v2.45H778zM679 349h5.55v2.45H679zM681.75 351.4h2.8v2.45H681.75zM684.5 353.8h2.8v2.45H684.5zM701 353.8h2.8v2.45H701zM695.5 356.2h5.55v2.45H695.5zM703.75 356.2h2.8v2.45H703.75zM830.25 356.2h5.55v2.45H830.25zM687.25 358.6h2.8v2.45H687.25zM695.5 358.6h2.8v2.45H695.5zM830.25 358.6h5.55v2.45H830.25zM687.25 361h2.8v2.45H687.25zM692.75 361h2.8v2.45H692.75zM706.5 361h2.8v2.45H706.5zM720.25 361h2.8v2.45H720.25zM731.25 361h8.3v2.45H731.25zM830.25 361h5.55v2.45H830.25zM687.25 363.4h2.8v2.45H687.25zM695.5 363.4h2.8v2.45H695.5zM706.5 363.4h2.8v2.45H706.5zM717.5 363.4h2.8v2.45H717.5zM742.25 363.4h5.55v2.45H742.25zM830.25 363.4h2.8v2.45H830.25zM695.5 365.8h2.8v2.45H695.5zM706.5 365.8h2.8v2.45H706.5zM714.75 365.8h2.8v2.45H714.75zM745 365.8h5.55v2.45H745zM698.25 368.2h2.8v2.45H698.25zM703.75 368.2h2.8v2.45H703.75zM714.75 368.2h2.8v2.45H714.75zM747.75 368.2h2.8v2.45H747.75zM684.5 370.6h2.8v2.45H684.5zM701 370.6h5.55v2.45H701zM714.75 370.6h2.8v2.45H714.75zM747.75 370.6h2.8v2.45H747.75zM805.5 370.6h13.8v2.45H805.5zM714.75 373h2.8v2.45H714.75zM747.75 373h2.8v2.45H747.75zM805.5 373h2.8v2.45H805.5zM816.5 373h2.8v2.45H816.5zM681.75 375.4h2.8v2.45H681.75zM747.75 375.4h2.8v2.45H747.75zM802.75 375.4h2.8v2.45H802.75zM816.5 375.4h2.8v2.45H816.5zM679 377.8h2.8v2.45H679zM717.5 377.8h2.8v2.45H717.5zM745 377.8h5.55v2.45H745zM720.25 380.2h5.55v2.45H720.25zM734 380.2h11.05v2.45H734zM800 380.2h2.8v2.45H800zM764.25 385h5.55v2.45H764.25zM772.5 385h5.55v2.45H772.5zM761.5 387.4h2.8v2.45H761.5zM778 387.4h2.8v2.45H778zM761.5 389.8h2.8v2.45H761.5zM780.75 389.8h2.8v2.45H780.75zM791.75 389.8h2.8v2.45H791.75zM783.5 392.2h8.3v2.45H783.5zM684.5 399.4h2.8v2.45H684.5zM758.75 401.8h2.8v2.45H758.75zM819.25 401.8h2.8v2.45H819.25zM692.75 404.2h2.8v2.45H692.75zM819.25 404.2h2.8v2.45H819.25zM698.25 406.6h2.8v2.45H698.25zM701 409h2.8v2.45H701zM822 409h2.8v2.45H822zM703.75 411.4h2.8v2.45H703.75zM822 411.4h2.8v2.45H822zM822 413.8h2.8v2.45H822zM706.5 416.2h2.8v2.45H706.5zM822 416.2h2.8v2.45H822zM709.25 418.6h2.8v2.45H709.25zM822 418.6h2.8v2.45H822zM712 421h2.8v2.45H712zM717.5 423.4h5.55v2.45H717.5zM819.25 423.4h2.8v2.45H819.25zM734 425.8h2.8v2.45H734zM778 425.8h2.8v2.45H778zM791.75 425.8h5.55v2.45H791.75zM800 428.2h2.8v2.45H800zM816.5 428.2h2.8v2.45H816.5zM863.25 428.2h12.8v2.45H863.25zM739.5 430.6h2.8v2.45H739.5zM758.75 430.6h2.8v2.45H758.75zM805.5 430.6h2.8v2.45H805.5zM813.75 430.6h2.8v2.45H813.75zM852.25 430.6h23.8v2.45H852.25zM758.75 433h2.8v2.45H758.75zM808.25 433h8.3v2.45H808.25zM846.75 433h19.3v2.45H846.75zM846.75 435.4h2.8v2.45H846.75zM860.5 435.4h2.8v2.45H860.5zM816.5 437.8h13.8v2.45H816.5zM844 437.8h5.55v2.45H844zM860.5 437.8h5.55v2.45H860.5zM739.5 440.2h2.8v2.45H739.5zM756 440.2h2.8v2.45H756zM813.75 440.2h2.8v2.45H813.75zM830.25 440.2h2.8v2.45H830.25zM844 440.2h2.8v2.45H844zM863.25 440.2h2.8v2.45H863.25zM739.5 442.6h2.8v2.45H739.5zM830.25 442.6h2.8v2.45H830.25zM863.25 442.6h2.8v2.45H863.25zM739.5 445h2.8v2.45H739.5zM775.25 445h2.8v2.45H775.25zM863.25 445h2.8v2.45H863.25zM747.75 447.4h2.8v2.45H747.75zM811 447.4h2.8v2.45H811zM863.25 447.4h2.8v2.45H863.25zM701 449.8h2.8v2.45H701zM709.25 449.8h2.8v2.45H709.25zM833 449.8h2.8v2.45H833zM863.25 449.8h2.8v2.45H863.25zM833 452.2h2.8v2.45H833zM846.75 452.2h2.8v2.45H846.75zM698.25 454.6h2.8v2.45H698.25zM712 454.6h2.8v2.45H712zM775.25 454.6h2.8v2.45H775.25zM808.25 454.6h2.8v2.45H808.25zM835.75 454.6h2.8v2.45H835.75zM849.5 454.6h13.8v2.45H849.5zM698.25 457h2.8v2.45H698.25zM712 457h2.8v2.45H712zM805.5 457h2.8v2.45H805.5zM835.75 457h2.8v2.45H835.75zM679 459.4h2.8v2.45H679zM712 459.4h2.8v2.45H712zM778 459.4h2.8v2.45H778zM800 459.4h2.8v2.45H800zM679 461.8h2.8v2.45H679zM833 461.8h2.8v2.45H833zM679 464.2h2.8v2.45H679zM701 464.2h2.8v2.45H701zM679 466.6h2.8v2.45H679zM701 466.6h2.8v2.45H701zM736.75 466.6h2.8v2.45H736.75zM830.25 466.6h2.8v2.45H830.25zM701 469h2.8v2.45H701zM734 469h2.8v2.45H734zM786.25 469h5.55v2.45H786.25zM860.5 469h2.8v2.45H860.5zM866 469h2.8v2.45H866zM701 471.4h2.8v2.45H701zM731.25 473.8h2.8v2.45H731.25zM761.5 473.8h2.8v2.45H761.5zM827.5 473.8h2.8v2.45H827.5zM712 476.2h2.8v2.45H712zM731.25 476.2h2.8v2.45H731.25zM764.25 476.2h2.8v2.45H764.25zM852.25 478.6h2.8v2.45H852.25zM767 481h2.8v2.45H767zM824.75 481h2.8v2.45H824.75zM849.5 481h2.8v2.45H849.5zM822 485.8h2.8v2.45H822zM846.75 485.8h2.8v2.45H846.75zM698.25 488.2h2.8v2.45H698.25zM712 488.2h2.8v2.45H712zM728.5 488.2h2.8v2.45H728.5zM822 488.2h2.8v2.45H822zM846.75 488.2h2.8v2.45H846.75zM698.25 490.6h2.8v2.45H698.25zM714.75 490.6h2.8v2.45H714.75zM728.5 490.6h2.8v2.45H728.5zM739.5 490.6h2.8v2.45H739.5zM747.75 490.6h2.8v2.45H747.75zM775.25 490.6h2.8v2.45H775.25zM822 490.6h2.8v2.45H822zM849.5 490.6h2.8v2.45H849.5zM695.5 493h5.55v2.45H695.5zM714.75 493h5.55v2.45H714.75zM723 493h5.55v2.45H723zM822 493h2.8v2.45H822zM852.25 493h2.8v2.45H852.25zM692.75 495.4h5.55v2.45H692.75zM712 495.4h13.8v2.45H712zM734 495.4h2.8v2.45H734zM778 495.4h2.8v2.45H778zM846.75 495.4h13.8v2.45H846.75zM868.75 495.4h2.8v2.45H868.75zM692.75 497.8h2.8v2.45H692.75zM701 497.8h8.3v2.45H701zM725.75 497.8h8.3v2.45H725.75zM761.5 497.8h2.8v2.45H761.5zM778 497.8h2.8v2.45H778zM827.5 497.8h2.8v2.45H827.5zM838.5 497.8h2.8v2.45H838.5zM855 497.8h2.8v2.45H855zM690 500.2h2.8v2.45H690zM701 500.2h2.8v2.45H701zM728.5 500.2h5.55v2.45H728.5zM778 500.2h2.8v2.45H778zM857.75 500.2h2.8v2.45H857.75zM690 502.6h2.8v2.45H690zM701 502.6h2.8v2.45H701zM769.75 502.6h2.8v2.45H769.75zM690 505h2.8v2.45H690zM701 505h2.8v2.45H701zM690 507.4h2.8v2.45H690zM701 507.4h2.8v2.45H701zM690 509.8h2.8v2.45H690zM860.5 509.8h2.8v2.45H860.5zM690 512.2h2.8v2.45H690zM703.75 512.2h2.8v2.45H703.75zM690 514.6h2.8v2.45H690zM703.75 514.6h2.8v2.45H703.75zM868.75 517h2.8v2.45H868.75zM695.5 519.4h2.8v2.45H695.5zM701 519.4h2.8v2.45H701zM731.25 521.8h2.8v2.45H731.25zM725.75 524.2h5.55v2.45H725.75zM841.25 524.2h2.8v2.45H841.25zM852.25 524.2h2.8v2.45H852.25zM723 526.6h8.3v2.45H723zM855 526.6h2.8v2.45H855zM720.25 529h2.8v2.45H720.25zM725.75 529h2.8v2.45H725.75zM720.25 531.4h2.8v2.45H720.25zM725.75 531.4h2.8v2.45H725.75zM725.75 533.8h2.8v2.45H725.75zM827.5 533.8h2.8v2.45H827.5zM725.75 536.2h2.8v2.45H725.75zM725.75 538.6h2.8v2.45H725.75zM725.75 541h2.8v2.45H725.75zM824.75 541h2.8v2.45H824.75zM720.25 543.4h5.55v2.45H720.25zM822 545.8h2.8v2.45H822zM813.75 548.2h11.05v2.45H813.75zM846.75 548.2h2.8v2.45H846.75zM811 550.6h2.8v2.45H811z"/>
<path fill="#c6f200" d="M679 325h27.55v2.45H679zM717.5 325h60.55v2.45H717.5zM800 325h22.05v2.45H800zM849.5 325h16.55v2.45H849.5zM679 327.4h30.3v2.45H679zM717.5 327.4h57.8v2.45H717.5zM800 327.4h22.05v2.45H800zM849.5 327.4h16.55v2.45H849.5zM679 329.8h13.8v2.45H679zM701 329.8h8.3v2.45H701zM714.75 329.8h8.3v2.45H714.75zM731.25 329.8h44.05v2.45H731.25zM802.75 329.8h19.3v2.45H802.75zM852.25 329.8h13.8v2.45H852.25zM701 332.2h19.3v2.45H701zM745 332.2h8.3v2.45H745zM767 332.2h8.3v2.45H767zM802.75 332.2h19.3v2.45H802.75zM852.25 332.2h13.8v2.45H852.25zM703.75 334.6h11.05v2.45H703.75zM769.75 334.6h5.55v2.45H769.75zM800 334.6h22.05v2.45H800zM852.25 334.6h13.8v2.45H852.25zM703.75 337h11.05v2.45H703.75zM769.75 337h5.55v2.45H769.75zM800 337h22.05v2.45H800zM852.25 337h13.8v2.45H852.25zM703.75 339.4h8.3v2.45H703.75zM769.75 339.4h5.55v2.45H769.75zM797.25 339.4h24.8v2.45H797.25zM852.25 339.4h13.8v2.45H852.25zM703.75 341.8h5.55v2.45H703.75zM769.75 341.8h5.55v2.45H769.75zM794.5 341.8h27.55v2.45H794.5zM852.25 341.8h13.8v2.45H852.25zM679 344.2h2.8v2.45H679zM772.5 344.2h5.55v2.45H772.5zM786.25 344.2h33.05v2.45H786.25zM852.25 344.2h13.8v2.45H852.25zM679 346.6h5.55v2.45H679zM772.5 346.6h46.8v2.45H772.5zM852.25 346.6h13.8v2.45H852.25zM701 349h5.55v2.45H701zM778 349h8.3v2.45H778zM797.25 349h22.05v2.45H797.25zM830.25 349h2.8v2.45H830.25zM849.5 349h16.55v2.45H849.5zM684.5 351.4h2.8v2.45H684.5zM698.25 351.4h8.3v2.45H698.25zM800 351.4h16.55v2.45H800zM824.75 351.4h16.55v2.45H824.75zM849.5 351.4h16.55v2.45H849.5zM695.5 353.8h5.55v2.45H695.5zM703.75 353.8h5.55v2.45H703.75zM802.75 353.8h13.8v2.45H802.75zM822 353.8h22.05v2.45H822zM849.5 353.8h16.55v2.45H849.5zM687.25 356.2h2.8v2.45H687.25zM692.75 356.2h2.8v2.45H692.75zM706.5 356.2h2.8v2.45H706.5zM805.5 356.2h8.3v2.45H805.5zM822 356.2h8.3v2.45H822zM835.75 356.2h8.3v2.45H835.75zM849.5 356.2h16.55v2.45H849.5zM690 358.6h5.55v2.45H690zM706.5 358.6h2.8v2.45H706.5zM717.5 358.6h16.55v2.45H717.5zM819.25 358.6h11.05v2.45H819.25zM835.75 358.6h8.3v2.45H835.75zM849.5 358.6h16.55v2.45H849.5zM690 361h2.8v2.45H690zM709.25 361h2.8v2.45H709.25zM714.75 361h5.55v2.45H714.75zM739.5 361h11.05v2.45H739.5zM819.25 361h11.05v2.45H819.25zM835.75 361h8.3v2.45H835.75zM849.5 361h16.55v2.45H849.5zM690 363.4h5.55v2.45H690zM709.25 363.4h8.3v2.45H709.25zM747.75 363.4h5.55v2.45H747.75zM811 363.4h19.3v2.45H811zM833 363.4h11.05v2.45H833zM849.5 363.4h16.55v2.45H849.5zM687.25 365.8h2.8v2.45H687.25zM709.25 365.8h5.55v2.45H709.25zM750.5 365.8h2.8v2.45H750.5zM805.5 365.8h38.55v2.45H805.5zM846.75 365.8h16.55v2.45H846.75zM695.5 368.2h2.8v2.45H695.5zM706.5 368.2h8.3v2.45H706.5zM750.5 368.2h2.8v2.45H750.5zM805.5 368.2h57.8v2.45H805.5zM698.25 370.6h2.8v2.45H698.25zM706.5 370.6h2.8v2.45H706.5zM712 370.6h2.8v2.45H712zM750.5 370.6h2.8v2.45H750.5zM802.75 370.6h2.8v2.45H802.75zM819.25 370.6h44.05v2.45H819.25zM701 373h5.55v2.45H701zM712 373h2.8v2.45H712zM750.5 373h5.55v2.45H750.5zM802.75 373h2.8v2.45H802.75zM819.25 373h44.05v2.45H819.25zM714.75 375.4h2.8v2.45H714.75zM750.5 375.4h5.55v2.45H750.5zM819.25 375.4h44.05v2.45H819.25zM750.5 377.8h2.8v2.45H750.5zM800 377.8h2.8v2.45H800zM819.25 377.8h2.8v2.45H819.25zM830.25 377.8h33.05v2.45H830.25zM745 380.2h5.55v2.45H745zM819.25 380.2h2.8v2.45H819.25zM833 380.2h30.3v2.45H833zM723 382.6h11.05v2.45H723zM769.75 382.6h8.3v2.45H769.75zM797.25 382.6h2.8v2.45H797.25zM819.25 382.6h2.8v2.45H819.25zM835.75 382.6h30.3v2.45H835.75zM761.5 385h2.8v2.45H761.5zM778 385h5.55v2.45H778zM791.75 385h5.55v2.45H791.75zM819.25 385h2.8v2.45H819.25zM841.25 385h24.8v2.45H841.25zM780.75 387.4h5.55v2.45H780.75zM789 387.4h5.55v2.45H789zM819.25 387.4h2.8v2.45H819.25zM844 387.4h22.05v2.45H844zM783.5 389.8h8.3v2.45H783.5zM844 389.8h22.05v2.45H844zM819.25 392.2h2.8v2.45H819.25zM844 392.2h22.05v2.45H844zM819.25 394.6h2.8v2.45H819.25zM844 394.6h22.05v2.45H844zM681.75 397h2.8v2.45H681.75zM819.25 397h2.8v2.45H819.25zM844 397h19.3v2.45H844zM758.75 399.4h2.8v2.45H758.75zM819.25 399.4h2.8v2.45H819.25zM844 399.4h22.05v2.45H844zM844 401.8h22.05v2.45H844zM822 404.2h2.8v2.45H822zM844 404.2h22.05v2.45H844zM822 406.6h2.8v2.45H822zM844 406.6h24.8v2.45H844zM844 409h24.8v2.45H844zM824.75 411.4h2.8v2.45H824.75zM844 411.4h24.8v2.45H844zM706.5 413.8h2.8v2.45H706.5zM824.75 413.8h2.8v2.45H824.75zM844 413.8h24.8v2.45H844zM824.75 416.2h2.8v2.45H824.75zM841.25 416.2h27.55v2.45H841.25zM824.75 418.6h2.8v2.45H824.75zM841.25 418.6h30.3v2.45H841.25zM714.75 421h2.8v2.45H714.75zM822 421h2.8v2.45H822zM841.25 421h34.8v2.45H841.25zM723 423.4h2.8v2.45H723zM822 423.4h2.8v2.45H822zM841.25 423.4h34.8v2.45H841.25zM780.75 425.8h2.8v2.45H780.75zM786.25 425.8h5.55v2.45H786.25zM819.25 425.8h2.8v2.45H819.25zM841.25 425.8h34.8v2.45H841.25zM778 428.2h2.8v2.45H778zM819.25 428.2h2.8v2.45H819.25zM838.5 428.2h24.8v2.45H838.5zM802.75 430.6h2.8v2.45H802.75zM816.5 430.6h5.55v2.45H816.5zM835.75 430.6h16.55v2.45H835.75zM805.5 433h2.8v2.45H805.5zM816.5 433h5.55v2.45H816.5zM830.25 433h16.55v2.45H830.25zM866 433h10.05v2.45H866zM808.25 435.4h38.55v2.45H808.25zM863.25 435.4h12.8v2.45H863.25zM756 437.8h2.8v2.45H756zM811 437.8h5.55v2.45H811zM830.25 437.8h13.8v2.45H830.25zM866 437.8h10.05v2.45H866zM811 440.2h2.8v2.45H811zM833 440.2h5.55v2.45H833zM841.25 440.2h2.8v2.45H841.25zM866 440.2h10.05v2.45H866zM753.25 442.6h2.8v2.45H753.25zM811 442.6h2.8v2.45H811zM833 442.6h2.8v2.45H833zM844 442.6h2.8v2.45H844zM866 442.6h10.05v2.45H866zM750.5 445h2.8v2.45H750.5zM811 445h2.8v2.45H811zM833 445h2.8v2.45H833zM844 445h2.8v2.45H844zM866 445h10.05v2.45H866zM742.25 447.4h5.55v2.45H742.25zM775.25 447.4h2.8v2.45H775.25zM833 447.4h2.8v2.45H833zM844 447.4h2.8v2.45H844zM866 447.4h2.8v2.45H866zM703.75 449.8h5.55v2.45H703.75zM775.25 449.8h2.8v2.45H775.25zM844 449.8h2.8v2.45H844zM866 449.8h2.8v2.45H866zM701 452.2h2.8v2.45H701zM709.25 452.2h2.8v2.45H709.25zM775.25 452.2h2.8v2.45H775.25zM808.25 452.2h2.8v2.45H808.25zM835.75 452.2h2.8v2.45H835.75zM844 452.2h2.8v2.45H844zM863.25 452.2h2.8v2.45H863.25zM709.25 454.6h2.8v2.45H709.25zM805.5 454.6h2.8v2.45H805.5zM838.5 454.6h2.8v2.45H838.5zM846.75 454.6h2.8v2.45H846.75zM863.25 454.6h2.8v2.45H863.25zM802.75 457h2.8v2.45H802.75zM838.5 457h2.8v2.45H838.5zM852.25 457h11.05v2.45H852.25zM701 459.4h2.8v2.45H701zM709.25 459.4h2.8v2.45H709.25zM835.75 459.4h2.8v2.45H835.75zM701 461.8h2.8v2.45H701zM709.25 461.8h2.8v2.45H709.25zM780.75 461.8h2.8v2.45H780.75zM794.5 461.8h2.8v2.45H794.5zM835.75 461.8h2.8v2.45H835.75zM703.75 464.2h2.8v2.45H703.75zM709.25 464.2h2.8v2.45H709.25zM783.5 464.2h2.8v2.45H783.5zM791.75 464.2h2.8v2.45H791.75zM833 464.2h2.8v2.45H833zM703.75 466.6h8.3v2.45H703.75zM739.5 466.6h5.55v2.45H739.5zM753.25 466.6h2.8v2.45H753.25zM786.25 466.6h5.55v2.45H786.25zM863.25 466.6h5.55v2.45H863.25zM703.75 469h2.8v2.45H703.75zM709.25 469h2.8v2.45H709.25zM756 469h2.8v2.45H756zM830.25 469h2.8v2.45H830.25zM868.75 469h2.8v2.45H868.75zM709.25 471.4h2.8v2.45H709.25zM734 471.4h2.8v2.45H734zM758.75 471.4h2.8v2.45H758.75zM857.75 471.4h2.8v2.45H857.75zM871.5 471.4h2.8v2.45H871.5zM701 473.8h2.8v2.45H701zM874.25 473.8h1.8v2.45H874.25zM701 476.2h2.8v2.45H701zM827.5 476.2h2.8v2.45H827.5zM701 478.6h2.8v2.45H701zM731.25 478.6h2.8v2.45H731.25zM764.25 478.6h2.8v2.45H764.25zM701 481h2.8v2.45H701zM709.25 481h2.8v2.45H709.25zM731.25 481h2.8v2.45H731.25zM701 483.4h2.8v2.45H701zM709.25 483.4h2.8v2.45H709.25zM767 483.4h2.8v2.45H767zM846.75 483.4h2.8v2.45H846.75zM701 485.8h2.8v2.45H701zM709.25 485.8h2.8v2.45H709.25zM769.75 485.8h2.8v2.45H769.75zM701 488.2h2.8v2.45H701zM709.25 488.2h2.8v2.45H709.25zM772.5 488.2h2.8v2.45H772.5zM701 490.6h2.8v2.45H701zM712 490.6h2.8v2.45H712zM736.75 490.6h2.8v2.45H736.75zM750.5 490.6h2.8v2.45H750.5zM846.75 490.6h2.8v2.45H846.75zM701 493h5.55v2.45H701zM709.25 493h5.55v2.45H709.25zM728.5 493h8.3v2.45H728.5zM756 493h2.8v2.45H756zM775.25 493h2.8v2.45H775.25zM846.75 493h5.55v2.45H846.75zM698.25 495.4h13.8v2.45H698.25zM725.75 495.4h8.3v2.45H725.75zM758.75 495.4h2.8v2.45H758.75zM824.75 495.4h2.8v2.45H824.75zM841.25 495.4h5.55v2.45H841.25zM871.5 495.4h2.8v2.45H871.5zM695.5 497.8h5.55v2.45H695.5zM830.25 497.8h2.8v2.45H830.25zM835.75 497.8h2.8v2.45H835.75zM857.75 497.8h5.55v2.45H857.75zM692.75 500.2h8.3v2.45H692.75zM767 500.2h2.8v2.45H767zM692.75 502.6h8.3v2.45H692.75zM772.5 502.6h5.55v2.45H772.5zM692.75 505h8.3v2.45H692.75zM860.5 507.4h2.8v2.45H860.5zM701 509.8h2.8v2.45H701zM863.25 512.2h2.8v2.45H863.25zM692.75 517h2.8v2.45H692.75zM701 517h2.8v2.45H701zM698.25 519.4h2.8v2.45H698.25zM844 524.2h8.3v2.45H844zM835.75 526.6h2.8v2.45H835.75zM723 529h2.8v2.45H723zM855 529h2.8v2.45H855zM723 531.4h2.8v2.45H723zM830.25 531.4h2.8v2.45H830.25zM720.25 533.8h5.55v2.45H720.25zM720.25 536.2h2.8v2.45H720.25zM827.5 536.2h2.8v2.45H827.5zM720.25 538.6h2.8v2.45H720.25zM720.25 541h5.55v2.45H720.25zM855 541h2.8v2.45H855zM824.75 543.4h2.8v2.45H824.75zM852.25 543.4h2.8v2.45H852.25zM824.75 545.8h2.8v2.45H824.75zM849.5 545.8h2.8v2.45H849.5zM824.75 548.2h2.8v2.45H824.75zM813.75 550.6h13.8v2.45H813.75zM844 550.6h2.8v2.45H844z"/>
<path fill="#d7f000" d="M822 325h5.55v2.45H822zM841.25 325h8.3v2.45H841.25zM866 325h10.05v2.45H866zM822 327.4h5.55v2.45H822zM844 327.4h5.55v2.45H844zM866 327.4h10.05v2.45H866zM692.75 329.8h8.3v2.45H692.75zM723 329.8h8.3v2.45H723zM822 329.8h2.8v2.45H822zM846.75 329.8h5.55v2.45H846.75zM866 329.8h8.3v2.45H866zM679 332.2h22.05v2.45H679zM720.25 332.2h24.8v2.45H720.25zM753.25 332.2h13.8v2.45H753.25zM822 332.2h2.8v2.45H822zM846.75 332.2h5.55v2.45H846.75zM866 332.2h8.3v2.45H866zM679 334.6h24.8v2.45H679zM714.75 334.6h5.55v2.45H714.75zM739.5 334.6h30.3v2.45H739.5zM822 334.6h2.8v2.45H822zM849.5 334.6h2.8v2.45H849.5zM866 334.6h5.55v2.45H866zM679 337h24.8v2.45H679zM714.75 337h2.8v2.45H714.75zM742.25 337h27.55v2.45H742.25zM822 337h2.8v2.45H822zM849.5 337h2.8v2.45H849.5zM866 337h5.55v2.45H866zM679 339.4h24.8v2.45H679zM712 339.4h2.8v2.45H712zM745 339.4h24.8v2.45H745zM822 339.4h5.55v2.45H822zM846.75 339.4h5.55v2.45H846.75zM866 339.4h5.55v2.45H866zM679 341.8h24.8v2.45H679zM709.25 341.8h5.55v2.45H709.25zM747.75 341.8h22.05v2.45H747.75zM822 341.8h5.55v2.45H822zM846.75 341.8h5.55v2.45H846.75zM866 341.8h5.55v2.45H866zM681.75 344.2h33.05v2.45H681.75zM747.75 344.2h24.8v2.45H747.75zM819.25 344.2h11.05v2.45H819.25zM844 344.2h8.3v2.45H844zM866 344.2h5.55v2.45H866zM684.5 346.6h27.55v2.45H684.5zM750.5 346.6h11.05v2.45H750.5zM767 346.6h5.55v2.45H767zM819.25 346.6h33.05v2.45H819.25zM866 346.6h5.55v2.45H866zM684.5 349h5.55v2.45H684.5zM692.75 349h8.3v2.45H692.75zM706.5 349h5.55v2.45H706.5zM750.5 349h8.3v2.45H750.5zM769.75 349h8.3v2.45H769.75zM786.25 349h11.05v2.45H786.25zM819.25 349h11.05v2.45H819.25zM833 349h16.55v2.45H833zM866 349h5.55v2.45H866zM687.25 351.4h2.8v2.45H687.25zM692.75 351.4h5.55v2.45H692.75zM706.5 351.4h5.55v2.45H706.5zM750.5 351.4h5.55v2.45H750.5zM772.5 351.4h27.55v2.45H772.5zM816.5 351.4h8.3v2.45H816.5zM841.25 351.4h8.3v2.45H841.25zM866 351.4h5.55v2.45H866zM687.25 353.8h8.3v2.45H687.25zM709.25 353.8h5.55v2.45H709.25zM747.75 353.8h8.3v2.45H747.75zM775.25 353.8h11.05v2.45H775.25zM794.5 353.8h8.3v2.45H794.5zM816.5 353.8h5.55v2.45H816.5zM844 353.8h5.55v2.45H844zM866 353.8h5.55v2.45H866zM690 356.2h2.8v2.45H690zM709.25 356.2h19.3v2.45H709.25zM745 356.2h11.05v2.45H745zM775.25 356.2h8.3v2.45H775.25zM797.25 356.2h8.3v2.45H797.25zM813.75 356.2h8.3v2.45H813.75zM844 356.2h5.55v2.45H844zM866 356.2h8.3v2.45H866zM709.25 358.6h8.3v2.45H709.25zM734 358.6h22.05v2.45H734zM775.25 358.6h5.55v2.45H775.25zM797.25 358.6h22.05v2.45H797.25zM844 358.6h5.55v2.45H844zM866 358.6h8.3v2.45H866zM712 361h2.8v2.45H712zM750.5 361h5.55v2.45H750.5zM778 361h2.8v2.45H778zM800 361h19.3v2.45H800zM844 361h5.55v2.45H844zM866 361h10.05v2.45H866zM753.25 363.4h2.8v2.45H753.25zM778 363.4h2.8v2.45H778zM800 363.4h11.05v2.45H800zM844 363.4h5.55v2.45H844zM866 363.4h10.05v2.45H866zM690 365.8h5.55v2.45H690zM753.25 365.8h2.8v2.45H753.25zM800 365.8h5.55v2.45H800zM844 365.8h2.8v2.45H844zM863.25 365.8h12.8v2.45H863.25zM687.25 368.2h2.8v2.45H687.25zM753.25 368.2h2.8v2.45H753.25zM800 368.2h5.55v2.45H800zM863.25 368.2h12.8v2.45H863.25zM709.25 370.6h2.8v2.45H709.25zM753.25 370.6h5.55v2.45H753.25zM800 370.6h2.8v2.45H800zM863.25 370.6h12.8v2.45H863.25zM684.5 373h2.8v2.45H684.5zM698.25 373h2.8v2.45H698.25zM706.5 373h5.55v2.45H706.5zM756 373h2.8v2.45H756zM800 373h2.8v2.45H800zM863.25 373h12.8v2.45H863.25zM712 375.4h2.8v2.45H712zM756 375.4h2.8v2.45H756zM800 375.4h2.8v2.45H800zM863.25 375.4h12.8v2.45H863.25zM714.75 377.8h2.8v2.45H714.75zM753.25 377.8h5.55v2.45H753.25zM797.25 377.8h2.8v2.45H797.25zM822 377.8h8.3v2.45H822zM863.25 377.8h12.8v2.45H863.25zM717.5 380.2h2.8v2.45H717.5zM750.5 380.2h8.3v2.45H750.5zM772.5 380.2h11.05v2.45H772.5zM797.25 380.2h2.8v2.45H797.25zM822 380.2h11.05v2.45H822zM863.25 380.2h12.8v2.45H863.25zM720.25 382.6h2.8v2.45H720.25zM734 382.6h16.55v2.45H734zM761.5 382.6h8.3v2.45H761.5zM778 382.6h19.3v2.45H778zM822 382.6h2.8v2.45H822zM830.25 382.6h5.55v2.45H830.25zM866 382.6h10.05v2.45H866zM783.5 385h8.3v2.45H783.5zM830.25 385h11.05v2.45H830.25zM866 385h10.05v2.45H866zM758.75 387.4h2.8v2.45H758.75zM786.25 387.4h2.8v2.45H786.25zM833 387.4h11.05v2.45H833zM866 387.4h10.05v2.45H866zM758.75 389.8h2.8v2.45H758.75zM819.25 389.8h2.8v2.45H819.25zM835.75 389.8h8.3v2.45H835.75zM866 389.8h10.05v2.45H866zM758.75 392.2h2.8v2.45H758.75zM835.75 392.2h8.3v2.45H835.75zM866 392.2h10.05v2.45H866zM679 394.6h2.8v2.45H679zM758.75 394.6h2.8v2.45H758.75zM838.5 394.6h5.55v2.45H838.5zM866 394.6h10.05v2.45H866zM758.75 397h2.8v2.45H758.75zM838.5 397h5.55v2.45H838.5zM863.25 397h12.8v2.45H863.25zM687.25 399.4h2.8v2.45H687.25zM822 399.4h2.8v2.45H822zM838.5 399.4h5.55v2.45H838.5zM866 399.4h10.05v2.45H866zM690 401.8h2.8v2.45H690zM822 401.8h2.8v2.45H822zM838.5 401.8h5.55v2.45H838.5zM866 401.8h10.05v2.45H866zM695.5 404.2h2.8v2.45H695.5zM824.75 404.2h2.8v2.45H824.75zM838.5 404.2h5.55v2.45H838.5zM866 404.2h10.05v2.45H866zM824.75 406.6h2.8v2.45H824.75zM838.5 406.6h5.55v2.45H838.5zM868.75 406.6h7.3v2.45H868.75zM703.75 409h2.8v2.45H703.75zM824.75 409h5.55v2.45H824.75zM838.5 409h5.55v2.45H838.5zM868.75 409h7.3v2.45H868.75zM827.5 411.4h2.8v2.45H827.5zM838.5 411.4h5.55v2.45H838.5zM868.75 411.4h7.3v2.45H868.75zM827.5 413.8h5.55v2.45H827.5zM835.75 413.8h8.3v2.45H835.75zM868.75 413.8h7.3v2.45H868.75zM709.25 416.2h2.8v2.45H709.25zM827.5 416.2h13.8v2.45H827.5zM868.75 416.2h7.3v2.45H868.75zM712 418.6h2.8v2.45H712zM827.5 418.6h13.8v2.45H827.5zM871.5 418.6h4.55v2.45H871.5zM824.75 421h16.55v2.45H824.75zM725.75 423.4h2.8v2.45H725.75zM824.75 423.4h16.55v2.45H824.75zM736.75 425.8h2.8v2.45H736.75zM783.5 425.8h2.8v2.45H783.5zM822 425.8h19.3v2.45H822zM739.5 428.2h2.8v2.45H739.5zM797.25 428.2h2.8v2.45H797.25zM822 428.2h16.55v2.45H822zM778 430.6h2.8v2.45H778zM800 430.6h2.8v2.45H800zM822 430.6h13.8v2.45H822zM742.25 433h2.8v2.45H742.25zM778 433h2.8v2.45H778zM802.75 433h2.8v2.45H802.75zM822 433h8.3v2.45H822zM742.25 435.4h2.8v2.45H742.25zM756 435.4h2.8v2.45H756zM778 435.4h2.8v2.45H778zM805.5 435.4h2.8v2.45H805.5zM742.25 437.8h2.8v2.45H742.25zM778 437.8h2.8v2.45H778zM808.25 437.8h2.8v2.45H808.25zM742.25 440.2h2.8v2.45H742.25zM753.25 440.2h2.8v2.45H753.25zM808.25 440.2h2.8v2.45H808.25zM838.5 440.2h2.8v2.45H838.5zM742.25 442.6h2.8v2.45H742.25zM750.5 442.6h2.8v2.45H750.5zM835.75 442.6h8.3v2.45H835.75zM742.25 445h2.8v2.45H742.25zM747.75 445h2.8v2.45H747.75zM808.25 445h2.8v2.45H808.25zM835.75 445h8.3v2.45H835.75zM808.25 447.4h2.8v2.45H808.25zM835.75 447.4h2.8v2.45H835.75zM841.25 447.4h2.8v2.45H841.25zM868.75 447.4h7.3v2.45H868.75zM808.25 449.8h2.8v2.45H808.25zM835.75 449.8h8.3v2.45H835.75zM868.75 449.8h7.3v2.45H868.75zM703.75 452.2h5.55v2.45H703.75zM805.5 452.2h2.8v2.45H805.5zM838.5 452.2h5.55v2.45H838.5zM866 452.2h5.55v2.45H866zM701 454.6h8.3v2.45H701zM802.75 454.6h2.8v2.45H802.75zM841.25 454.6h5.55v2.45H841.25zM866 454.6h2.8v2.45H866zM701 457h2.8v2.45H701zM709.25 457h2.8v2.45H709.25zM778 457h2.8v2.45H778zM800 457h2.8v2.45H800zM841.25 457h11.05v2.45H841.25zM863.25 457h5.55v2.45H863.25zM703.75 459.4h5.55v2.45H703.75zM797.25 459.4h2.8v2.45H797.25zM838.5 459.4h5.55v2.45H838.5zM857.75 459.4h8.3v2.45H857.75zM703.75 461.8h5.55v2.45H703.75zM838.5 461.8h2.8v2.45H838.5zM860.5 461.8h5.55v2.45H860.5zM706.5 464.2h2.8v2.45H706.5zM835.75 464.2h2.8v2.45H835.75zM860.5 464.2h8.3v2.45H860.5zM745 466.6h8.3v2.45H745zM833 466.6h2.8v2.45H833zM860.5 466.6h2.8v2.45H860.5zM706.5 469h2.8v2.45H706.5zM736.75 469h5.55v2.45H736.75zM857.75 469h2.8v2.45H857.75zM703.75 471.4h5.55v2.45H703.75zM830.25 471.4h2.8v2.45H830.25zM703.75 473.8h8.3v2.45H703.75zM734 473.8h2.8v2.45H734zM855 473.8h2.8v2.45H855zM703.75 476.2h2.8v2.45H703.75zM709.25 476.2h2.8v2.45H709.25zM761.5 476.2h2.8v2.45H761.5zM852.25 476.2h2.8v2.45H852.25zM703.75 478.6h2.8v2.45H703.75zM709.25 478.6h2.8v2.45H709.25zM827.5 478.6h2.8v2.45H827.5zM849.5 478.6h2.8v2.45H849.5zM703.75 481h5.55v2.45H703.75zM846.75 481h2.8v2.45H846.75zM703.75 483.4h5.55v2.45H703.75zM731.25 483.4h2.8v2.45H731.25zM824.75 483.4h2.8v2.45H824.75zM703.75 485.8h5.55v2.45H703.75zM731.25 485.8h2.8v2.45H731.25zM824.75 485.8h2.8v2.45H824.75zM844 485.8h2.8v2.45H844zM703.75 488.2h5.55v2.45H703.75zM731.25 488.2h2.8v2.45H731.25zM769.75 488.2h2.8v2.45H769.75zM844 488.2h2.8v2.45H844zM703.75 490.6h8.3v2.45H703.75zM731.25 490.6h5.55v2.45H731.25zM753.25 490.6h2.8v2.45H753.25zM772.5 490.6h2.8v2.45H772.5zM844 490.6h2.8v2.45H844zM706.5 493h2.8v2.45H706.5zM824.75 493h2.8v2.45H824.75zM844 493h2.8v2.45H844zM775.25 495.4h2.8v2.45H775.25zM838.5 495.4h2.8v2.45H838.5zM874.25 495.4h1.8v2.45H874.25zM764.25 497.8h2.8v2.45H764.25zM775.25 497.8h2.8v2.45H775.25zM833 497.8h2.8v2.45H833zM863.25 497.8h2.8v2.45H863.25zM769.75 500.2h8.3v2.45H769.75zM860.5 505h2.8v2.45H860.5zM692.75 507.4h8.3v2.45H692.75zM692.75 509.8h2.8v2.45H692.75zM698.25 509.8h2.8v2.45H698.25zM692.75 512.2h2.8v2.45H692.75zM701 512.2h2.8v2.45H701zM692.75 514.6h5.55v2.45H692.75zM701 514.6h2.8v2.45H701zM866 514.6h2.8v2.45H866zM695.5 517h5.55v2.45H695.5zM871.5 517h2.8v2.45H871.5zM838.5 526.6h2.8v2.45H838.5zM852.25 526.6h2.8v2.45H852.25zM833 529h2.8v2.45H833zM855 531.4h2.8v2.45H855zM830.25 533.8h2.8v2.45H830.25zM855 533.8h2.8v2.45H855zM723 536.2h2.8v2.45H723zM855 536.2h2.8v2.45H855zM723 538.6h2.8v2.45H723zM827.5 538.6h2.8v2.45H827.5zM855 538.6h2.8v2.45H855zM827.5 541h2.8v2.45H827.5zM846.75 545.8h2.8v2.45H846.75zM827.5 548.2h2.8v2.45H827.5zM844 548.2h2.8v2.45H844zM827.5 550.6h5.55v2.45H827.5zM841.25 550.6h2.8v2.45H841.25z"/>
<path fill="#e8ee00" d="M827.5 325h13.8v2.45H827.5zM827.5 327.4h16.55v2.45H827.5zM824.75 329.8h5.55v2.45H824.75zM841.25 329.8h5.55v2.45H841.25zM874.25 329.8h1.8v2.45H874.25zM824.75 332.2h5.55v2.45H824.75zM844 332.2h2.8v2.45H844zM874.25 332.2h1.8v2.45H874.25zM720.25 334.6h19.3v2.45H720.25zM824.75 334.6h2.8v2.45H824.75zM844 334.6h5.55v2.45H844zM871.5 334.6h4.55v2.45H871.5zM717.5 337h5.55v2.45H717.5zM739.5 337h2.8v2.45H739.5zM824.75 337h5.55v2.45H824.75zM844 337h5.55v2.45H844zM871.5 337h4.55v2.45H871.5zM714.75 339.4h5.55v2.45H714.75zM742.25 339.4h2.8v2.45H742.25zM827.5 339.4h2.8v2.45H827.5zM844 339.4h2.8v2.45H844zM871.5 339.4h4.55v2.45H871.5zM714.75 341.8h2.8v2.45H714.75zM742.25 341.8h5.55v2.45H742.25zM827.5 341.8h5.55v2.45H827.5zM838.5 341.8h8.3v2.45H838.5zM871.5 341.8h4.55v2.45H871.5zM714.75 344.2h2.8v2.45H714.75zM745 344.2h2.8v2.45H745zM830.25 344.2h13.8v2.45H830.25zM871.5 344.2h4.55v2.45H871.5zM712 346.6h5.55v2.45H712zM745 346.6h5.55v2.45H745zM761.5 346.6h5.55v2.45H761.5zM871.5 346.6h4.55v2.45H871.5zM690 349h2.8v2.45H690zM712 349h8.3v2.45H712zM745 349h5.55v2.45H745zM758.75 349h11.05v2.45H758.75zM871.5 349h4.55v2.45H871.5zM690 351.4h2.8v2.45H690zM712 351.4h11.05v2.45H712zM745 351.4h5.55v2.45H745zM756 351.4h16.55v2.45H756zM871.5 351.4h4.55v2.45H871.5zM714.75 353.8h13.8v2.45H714.75zM742.25 353.8h5.55v2.45H742.25zM756 353.8h5.55v2.45H756zM769.75 353.8h5.55v2.45H769.75zM786.25 353.8h8.3v2.45H786.25zM871.5 353.8h4.55v2.45H871.5zM728.5 356.2h16.55v2.45H728.5zM756 356.2h5.55v2.45H756zM772.5 356.2h2.8v2.45H772.5zM783.5 356.2h13.8v2.45H783.5zM874.25 356.2h1.8v2.45H874.25zM756 358.6h5.55v2.45H756zM772.5 358.6h2.8v2.45H772.5zM780.75 358.6h8.3v2.45H780.75zM791.75 358.6h5.55v2.45H791.75zM874.25 358.6h1.8v2.45H874.25zM756 361h5.55v2.45H756zM772.5 361h5.55v2.45H772.5zM780.75 361h5.55v2.45H780.75zM794.5 361h5.55v2.45H794.5zM756 363.4h5.55v2.45H756zM772.5 363.4h5.55v2.45H772.5zM780.75 363.4h2.8v2.45H780.75zM794.5 363.4h5.55v2.45H794.5zM756 365.8h5.55v2.45H756zM772.5 365.8h11.05v2.45H772.5zM797.25 365.8h2.8v2.45H797.25zM692.75 368.2h2.8v2.45H692.75zM756 368.2h5.55v2.45H756zM772.5 368.2h11.05v2.45H772.5zM797.25 368.2h2.8v2.45H797.25zM695.5 370.6h2.8v2.45H695.5zM758.75 370.6h2.8v2.45H758.75zM772.5 370.6h11.05v2.45H772.5zM797.25 370.6h2.8v2.45H797.25zM758.75 373h2.8v2.45H758.75zM772.5 373h11.05v2.45H772.5zM797.25 373h2.8v2.45H797.25zM684.5 375.4h2.8v2.45H684.5zM698.25 375.4h13.8v2.45H698.25zM758.75 375.4h2.8v2.45H758.75zM772.5 375.4h13.8v2.45H772.5zM794.5 375.4h5.55v2.45H794.5zM681.75 377.8h2.8v2.45H681.75zM712 377.8h2.8v2.45H712zM758.75 377.8h5.55v2.45H758.75zM769.75 377.8h27.55v2.45H769.75zM679 380.2h2.8v2.45H679zM714.75 380.2h2.8v2.45H714.75zM758.75 380.2h13.8v2.45H758.75zM783.5 380.2h13.8v2.45H783.5zM717.5 382.6h2.8v2.45H717.5zM750.5 382.6h11.05v2.45H750.5zM824.75 382.6h5.55v2.45H824.75zM723 385h22.05v2.45H723zM758.75 385h2.8v2.45H758.75zM822 385h8.3v2.45H822zM822 387.4h11.05v2.45H822zM822 389.8h2.8v2.45H822zM827.5 389.8h8.3v2.45H827.5zM822 392.2h2.8v2.45H822zM830.25 392.2h5.55v2.45H830.25zM822 394.6h2.8v2.45H822zM830.25 394.6h8.3v2.45H830.25zM684.5 397h2.8v2.45H684.5zM822 397h5.55v2.45H822zM830.25 397h8.3v2.45H830.25zM824.75 399.4h13.8v2.45H824.75zM824.75 401.8h13.8v2.45H824.75zM827.5 404.2h11.05v2.45H827.5zM701 406.6h2.8v2.45H701zM827.5 406.6h11.05v2.45H827.5zM830.25 409h8.3v2.45H830.25zM706.5 411.4h2.8v2.45H706.5zM830.25 411.4h8.3v2.45H830.25zM833 413.8h2.8v2.45H833zM717.5 421h2.8v2.45H717.5zM728.5 423.4h5.55v2.45H728.5zM756 428.2h2.8v2.45H756zM780.75 428.2h2.8v2.45H780.75zM794.5 428.2h2.8v2.45H794.5zM742.25 430.6h2.8v2.45H742.25zM756 430.6h2.8v2.45H756zM756 433h2.8v2.45H756zM753.25 437.8h2.8v2.45H753.25zM805.5 437.8h2.8v2.45H805.5zM778 440.2h2.8v2.45H778zM745 442.6h5.55v2.45H745zM808.25 442.6h2.8v2.45H808.25zM745 445h2.8v2.45H745zM838.5 447.4h2.8v2.45H838.5zM805.5 449.8h2.8v2.45H805.5zM871.5 452.2h4.55v2.45H871.5zM778 454.6h2.8v2.45H778zM868.75 454.6h2.8v2.45H868.75zM703.75 457h5.55v2.45H703.75zM868.75 457h2.8v2.45H868.75zM780.75 459.4h2.8v2.45H780.75zM844 459.4h13.8v2.45H844zM866 459.4h2.8v2.45H866zM841.25 461.8h2.8v2.45H841.25zM857.75 461.8h2.8v2.45H857.75zM866 461.8h2.8v2.45H866zM786.25 464.2h5.55v2.45H786.25zM838.5 464.2h2.8v2.45H838.5zM857.75 464.2h2.8v2.45H857.75zM868.75 464.2h2.8v2.45H868.75zM857.75 466.6h2.8v2.45H857.75zM868.75 466.6h2.8v2.45H868.75zM742.25 469h5.55v2.45H742.25zM753.25 469h2.8v2.45H753.25zM833 469h2.8v2.45H833zM871.5 469h2.8v2.45H871.5zM736.75 471.4h2.8v2.45H736.75zM756 471.4h2.8v2.45H756zM855 471.4h2.8v2.45H855zM758.75 473.8h2.8v2.45H758.75zM830.25 473.8h2.8v2.45H830.25zM706.5 476.2h2.8v2.45H706.5zM734 476.2h2.8v2.45H734zM706.5 478.6h2.8v2.45H706.5zM846.75 478.6h2.8v2.45H846.75zM764.25 481h2.8v2.45H764.25zM827.5 481h2.8v2.45H827.5zM764.25 483.4h2.8v2.45H764.25zM844 483.4h2.8v2.45H844zM767 485.8h2.8v2.45H767zM734 488.2h13.8v2.45H734zM824.75 488.2h2.8v2.45H824.75zM824.75 490.6h2.8v2.45H824.75zM841.25 490.6h2.8v2.45H841.25zM758.75 493h2.8v2.45H758.75zM772.5 493h2.8v2.45H772.5zM841.25 493h2.8v2.45H841.25zM761.5 495.4h2.8v2.45H761.5zM827.5 495.4h2.8v2.45H827.5zM767 497.8h2.8v2.45H767zM772.5 497.8h2.8v2.45H772.5zM866 497.8h2.8v2.45H866zM860.5 500.2h2.8v2.45H860.5zM860.5 502.6h2.8v2.45H860.5zM695.5 509.8h2.8v2.45H695.5zM695.5 512.2h5.55v2.45H695.5zM698.25 514.6h2.8v2.45H698.25zM841.25 526.6h5.55v2.45H841.25zM849.5 526.6h2.8v2.45H849.5zM835.75 529h2.8v2.45H835.75zM852.25 529h2.8v2.45H852.25zM833 531.4h2.8v2.45H833zM852.25 541h2.8v2.45H852.25zM827.5 543.4h2.8v2.45H827.5zM849.5 543.4h2.8v2.45H849.5zM827.5 545.8h2.8v2.45H827.5zM844 545.8h2.8v2.45H844zM830.25 548.2h2.8v2.45H830.25zM841.25 548.2h2.8v2.45H841.25zM833 550.6h8.3v2.45H833z"/>
<path fill="#faeb00" d="M830.25 329.8h11.05v2.45H830.25zM830.25 332.2h13.8v2.45H830.25zM827.5 334.6h5.55v2.45H827.5zM838.5 334.6h5.55v2.45H838.5zM723 337h16.55v2.45H723zM830.25 337h5.55v2.45H830.25zM838.5 337h5.55v2.45H838.5zM720.25 339.4h2.8v2.45H720.25zM739.5 339.4h2.8v2.45H739.5zM830.25 339.4h13.8v2.45H830.25zM717.5 341.8h2.8v2.45H717.5zM739.5 341.8h2.8v2.45H739.5zM833 341.8h5.55v2.45H833zM717.5 344.2h2.8v2.45H717.5zM742.25 344.2h2.8v2.45H742.25zM717.5 346.6h2.8v2.45H717.5zM742.25 346.6h2.8v2.45H742.25zM720.25 349h2.8v2.45H720.25zM742.25 349h2.8v2.45H742.25zM723 351.4h5.55v2.45H723zM739.5 351.4h5.55v2.45H739.5zM728.5 353.8h13.8v2.45H728.5zM761.5 353.8h8.3v2.45H761.5zM761.5 356.2h11.05v2.45H761.5zM761.5 358.6h11.05v2.45H761.5zM789 358.6h2.8v2.45H789zM761.5 361h11.05v2.45H761.5zM786.25 361h8.3v2.45H786.25zM761.5 363.4h11.05v2.45H761.5zM783.5 363.4h11.05v2.45H783.5zM761.5 365.8h11.05v2.45H761.5zM783.5 365.8h13.8v2.45H783.5zM690 368.2h2.8v2.45H690zM761.5 368.2h11.05v2.45H761.5zM783.5 368.2h5.55v2.45H783.5zM791.75 368.2h5.55v2.45H791.75zM687.25 370.6h2.8v2.45H687.25zM692.75 370.6h2.8v2.45H692.75zM761.5 370.6h11.05v2.45H761.5zM783.5 370.6h13.8v2.45H783.5zM695.5 373h2.8v2.45H695.5zM761.5 373h11.05v2.45H761.5zM783.5 373h13.8v2.45H783.5zM761.5 375.4h11.05v2.45H761.5zM786.25 375.4h8.3v2.45H786.25zM701 377.8h11.05v2.45H701zM764.25 377.8h5.55v2.45H764.25zM712 380.2h2.8v2.45H712zM720.25 385h2.8v2.45H720.25zM745 385h13.8v2.45H745zM723 387.4h8.3v2.45H723zM756 387.4h2.8v2.45H756zM824.75 389.8h2.8v2.45H824.75zM824.75 392.2h5.55v2.45H824.75zM681.75 394.6h2.8v2.45H681.75zM824.75 394.6h5.55v2.45H824.75zM827.5 397h2.8v2.45H827.5zM692.75 401.8h2.8v2.45H692.75zM698.25 404.2h2.8v2.45H698.25zM756 404.2h2.8v2.45H756zM756 406.6h2.8v2.45H756zM756 409h2.8v2.45H756zM756 411.4h2.8v2.45H756zM709.25 413.8h2.8v2.45H709.25zM756 413.8h2.8v2.45H756zM712 416.2h2.8v2.45H712zM756 416.2h2.8v2.45H756zM714.75 418.6h2.8v2.45H714.75zM756 418.6h2.8v2.45H756zM720.25 421h2.8v2.45H720.25zM756 421h2.8v2.45H756zM756 423.4h2.8v2.45H756zM739.5 425.8h2.8v2.45H739.5zM756 425.8h2.8v2.45H756zM742.25 428.2h2.8v2.45H742.25zM783.5 428.2h2.8v2.45H783.5zM791.75 428.2h2.8v2.45H791.75zM780.75 430.6h2.8v2.45H780.75zM797.25 430.6h2.8v2.45H797.25zM745 433h2.8v2.45H745zM800 433h2.8v2.45H800zM745 435.4h2.8v2.45H745zM753.25 435.4h2.8v2.45H753.25zM802.75 435.4h2.8v2.45H802.75zM745 437.8h2.8v2.45H745zM745 440.2h8.3v2.45H745zM805.5 440.2h2.8v2.45H805.5zM778 442.6h2.8v2.45H778zM805.5 442.6h2.8v2.45H805.5zM805.5 445h2.8v2.45H805.5zM805.5 447.4h2.8v2.45H805.5zM802.75 452.2h2.8v2.45H802.75zM800 454.6h2.8v2.45H800zM871.5 454.6h4.55v2.45H871.5zM797.25 457h2.8v2.45H797.25zM871.5 457h2.8v2.45H871.5zM794.5 459.4h2.8v2.45H794.5zM868.75 459.4h2.8v2.45H868.75zM783.5 461.8h2.8v2.45H783.5zM791.75 461.8h2.8v2.45H791.75zM844 461.8h13.8v2.45H844zM868.75 461.8h2.8v2.45H868.75zM841.25 464.2h5.55v2.45H841.25zM855 464.2h2.8v2.45H855zM835.75 466.6h5.55v2.45H835.75zM855 466.6h2.8v2.45H855zM871.5 466.6h2.8v2.45H871.5zM747.75 469h5.55v2.45H747.75zM855 469h2.8v2.45H855zM739.5 471.4h5.55v2.45H739.5zM833 471.4h2.8v2.45H833zM874.25 471.4h1.8v2.45H874.25zM736.75 473.8h2.8v2.45H736.75zM852.25 473.8h2.8v2.45H852.25zM830.25 476.2h2.8v2.45H830.25zM849.5 476.2h2.8v2.45H849.5zM734 478.6h2.8v2.45H734zM761.5 478.6h2.8v2.45H761.5zM734 481h2.8v2.45H734zM844 481h2.8v2.45H844zM734 483.4h2.8v2.45H734zM827.5 483.4h2.8v2.45H827.5zM734 485.8h2.8v2.45H734zM764.25 485.8h2.8v2.45H764.25zM841.25 485.8h2.8v2.45H841.25zM747.75 488.2h5.55v2.45H747.75zM767 488.2h2.8v2.45H767zM841.25 488.2h2.8v2.45H841.25zM756 490.6h2.8v2.45H756zM769.75 490.6h2.8v2.45H769.75zM761.5 493h2.8v2.45H761.5zM827.5 493h2.8v2.45H827.5zM838.5 493h2.8v2.45H838.5zM764.25 495.4h2.8v2.45H764.25zM772.5 495.4h2.8v2.45H772.5zM830.25 495.4h8.3v2.45H830.25zM769.75 497.8h2.8v2.45H769.75zM868.75 497.8h2.8v2.45H868.75zM863.25 509.8h2.8v2.45H863.25zM866 512.2h2.8v2.45H866zM868.75 514.6h2.8v2.45H868.75zM874.25 517h1.8v2.45H874.25zM846.75 526.6h2.8v2.45H846.75zM852.25 531.4h2.8v2.45H852.25zM852.25 533.8h2.8v2.45H852.25zM830.25 536.2h2.8v2.45H830.25zM830.25 538.6h2.8v2.45H830.25zM852.25 538.6h2.8v2.45H852.25zM830.25 543.4h2.8v2.45H830.25zM846.75 543.4h2.8v2.45H846.75zM830.25 545.8h2.8v2.45H830.25zM841.25 545.8h2.8v2.45H841.25zM833 548.2h8.3v2.45H833z"/>
<path fill="#fbdd00" d="M833 334.6h5.55v2.45H833zM835.75 337h2.8v2.45H835.75zM723 339.4h5.55v2.45H723zM734 339.4h5.55v2.45H734zM720.25 341.8h5.55v2.45H720.25zM736.75 341.8h2.8v2.45H736.75zM720.25 344.2h2.8v2.45H720.25zM739.5 344.2h2.8v2.45H739.5zM720.25 346.6h5.55v2.45H720.25zM739.5 346.6h2.8v2.45H739.5zM723 349h5.55v2.45H723zM739.5 349h2.8v2.45H739.5zM728.5 351.4h2.8v2.45H728.5zM736.75 351.4h2.8v2.45H736.75zM789 368.2h2.8v2.45H789zM690 370.6h2.8v2.45H690zM687.25 373h2.8v2.45H687.25zM692.75 373h2.8v2.45H692.75zM695.5 375.4h2.8v2.45H695.5zM684.5 377.8h2.8v2.45H684.5zM698.25 377.8h2.8v2.45H698.25zM681.75 380.2h2.8v2.45H681.75zM701 380.2h11.05v2.45H701zM679 382.6h2.8v2.45H679zM714.75 382.6h2.8v2.45H714.75zM717.5 385h2.8v2.45H717.5zM720.25 387.4h2.8v2.45H720.25zM731.25 387.4h19.3v2.45H731.25zM753.25 387.4h2.8v2.45H753.25zM723 389.8h5.55v2.45H723zM756 389.8h2.8v2.45H756zM679 392.2h2.8v2.45H679zM756 392.2h2.8v2.45H756zM684.5 394.6h2.8v2.45H684.5zM756 394.6h2.8v2.45H756zM687.25 397h2.8v2.45H687.25zM756 397h2.8v2.45H756zM690 399.4h2.8v2.45H690zM756 399.4h2.8v2.45H756zM695.5 401.8h2.8v2.45H695.5zM756 401.8h2.8v2.45H756zM703.75 406.6h2.8v2.45H703.75zM706.5 409h2.8v2.45H706.5zM717.5 418.6h2.8v2.45H717.5zM723 421h2.8v2.45H723zM734 423.4h2.8v2.45H734zM786.25 428.2h5.55v2.45H786.25zM745 430.6h2.8v2.45H745zM753.25 430.6h2.8v2.45H753.25zM753.25 433h2.8v2.45H753.25zM780.75 433h2.8v2.45H780.75zM747.75 435.4h5.55v2.45H747.75zM747.75 437.8h5.55v2.45H747.75zM802.75 437.8h2.8v2.45H802.75zM802.75 440.2h2.8v2.45H802.75zM778 445h2.8v2.45H778zM802.75 449.8h2.8v2.45H802.75zM778 452.2h2.8v2.45H778zM874.25 457h1.8v2.45H874.25zM871.5 459.4h2.8v2.45H871.5zM786.25 461.8h5.55v2.45H786.25zM871.5 461.8h2.8v2.45H871.5zM846.75 464.2h8.3v2.45H846.75zM871.5 464.2h2.8v2.45H871.5zM841.25 466.6h13.8v2.45H841.25zM835.75 469h8.3v2.45H835.75zM852.25 469h2.8v2.45H852.25zM874.25 469h1.8v2.45H874.25zM745 471.4h11.05v2.45H745zM852.25 471.4h2.8v2.45H852.25zM739.5 473.8h5.55v2.45H739.5zM756 473.8h2.8v2.45H756zM833 473.8h2.8v2.45H833zM849.5 473.8h2.8v2.45H849.5zM736.75 476.2h5.55v2.45H736.75zM758.75 476.2h2.8v2.45H758.75zM846.75 476.2h2.8v2.45H846.75zM736.75 478.6h2.8v2.45H736.75zM830.25 478.6h2.8v2.45H830.25zM844 478.6h2.8v2.45H844zM761.5 481h2.8v2.45H761.5zM841.25 481h2.8v2.45H841.25zM841.25 483.4h2.8v2.45H841.25zM736.75 485.8h8.3v2.45H736.75zM827.5 485.8h2.8v2.45H827.5zM753.25 488.2h2.8v2.45H753.25zM764.25 488.2h2.8v2.45H764.25zM827.5 488.2h2.8v2.45H827.5zM838.5 488.2h2.8v2.45H838.5zM758.75 490.6h11.05v2.45H758.75zM827.5 490.6h2.8v2.45H827.5zM838.5 490.6h2.8v2.45H838.5zM764.25 493h8.3v2.45H764.25zM835.75 493h2.8v2.45H835.75zM767 495.4h5.55v2.45H767zM871.5 497.8h4.55v2.45H871.5zM863.25 500.2h2.8v2.45H863.25zM863.25 507.4h2.8v2.45H863.25zM838.5 529h5.55v2.45H838.5zM849.5 529h2.8v2.45H849.5zM835.75 531.4h2.8v2.45H835.75zM833 533.8h2.8v2.45H833zM852.25 536.2h2.8v2.45H852.25zM830.25 541h2.8v2.45H830.25zM849.5 541h2.8v2.45H849.5zM833 543.4h2.8v2.45H833zM844 543.4h2.8v2.45H844zM833 545.8h8.3v2.45H833z"/>
<path fill="#fcd000" d="M728.5 339.4h5.55v2.45H728.5zM725.75 341.8h2.8v2.45H725.75zM734 341.8h2.8v2.45H734zM723 344.2h5.55v2.45H723zM736.75 344.2h2.8v2.45H736.75zM725.75 346.6h2.8v2.45H725.75zM736.75 346.6h2.8v2.45H736.75zM728.5 349h11.05v2.45H728.5zM731.25 351.4h5.55v2.45H731.25zM690 373h2.8v2.45H690zM687.25 375.4h2.8v2.45H687.25zM692.75 375.4h2.8v2.45H692.75zM695.5 377.8h2.8v2.45H695.5zM698.25 380.2h2.8v2.45H698.25zM681.75 382.6h2.8v2.45H681.75zM712 382.6h2.8v2.45H712zM714.75 385h2.8v2.45H714.75zM717.5 387.4h2.8v2.45H717.5zM750.5 387.4h2.8v2.45H750.5zM720.25 389.8h2.8v2.45H720.25zM728.5 389.8h19.3v2.45H728.5zM753.25 389.8h2.8v2.45H753.25zM681.75 392.2h2.8v2.45H681.75zM701 404.2h2.8v2.45H701zM709.25 411.4h2.8v2.45H709.25zM712 413.8h2.8v2.45H712zM714.75 416.2h2.8v2.45H714.75zM720.25 418.6h2.8v2.45H720.25zM725.75 421h2.8v2.45H725.75zM736.75 423.4h2.8v2.45H736.75zM742.25 425.8h2.8v2.45H742.25zM745 428.2h2.8v2.45H745zM753.25 428.2h2.8v2.45H753.25zM747.75 430.6h5.55v2.45H747.75zM794.5 430.6h2.8v2.45H794.5zM747.75 433h5.55v2.45H747.75zM797.25 433h2.8v2.45H797.25zM780.75 435.4h2.8v2.45H780.75zM800 435.4h2.8v2.45H800zM802.75 442.6h2.8v2.45H802.75zM802.75 445h2.8v2.45H802.75zM778 447.4h2.8v2.45H778zM802.75 447.4h2.8v2.45H802.75zM778 449.8h2.8v2.45H778zM800 452.2h2.8v2.45H800zM780.75 457h2.8v2.45H780.75zM783.5 459.4h2.8v2.45H783.5zM874.25 459.4h1.8v2.45H874.25zM874.25 461.8h1.8v2.45H874.25zM874.25 464.2h1.8v2.45H874.25zM874.25 466.6h1.8v2.45H874.25zM844 469h8.3v2.45H844zM835.75 471.4h16.55v2.45H835.75zM745 473.8h11.05v2.45H745zM835.75 473.8h2.8v2.45H835.75zM841.25 473.8h8.3v2.45H841.25zM742.25 476.2h5.55v2.45H742.25zM756 476.2h2.8v2.45H756zM833 476.2h2.8v2.45H833zM841.25 476.2h5.55v2.45H841.25zM739.5 478.6h2.8v2.45H739.5zM758.75 478.6h2.8v2.45H758.75zM841.25 478.6h2.8v2.45H841.25zM736.75 481h2.8v2.45H736.75zM830.25 481h2.8v2.45H830.25zM736.75 483.4h2.8v2.45H736.75zM761.5 483.4h2.8v2.45H761.5zM830.25 483.4h2.8v2.45H830.25zM838.5 483.4h2.8v2.45H838.5zM745 485.8h5.55v2.45H745zM761.5 485.8h2.8v2.45H761.5zM838.5 485.8h2.8v2.45H838.5zM756 488.2h8.3v2.45H756zM835.75 490.6h2.8v2.45H835.75zM830.25 493h5.55v2.45H830.25zM866 500.2h2.8v2.45H866zM863.25 502.6h2.8v2.45H863.25zM863.25 505h2.8v2.45H863.25zM871.5 514.6h2.8v2.45H871.5zM844 529h5.55v2.45H844zM849.5 531.4h2.8v2.45H849.5zM849.5 533.8h2.8v2.45H849.5zM833 536.2h2.8v2.45H833zM849.5 536.2h2.8v2.45H849.5zM833 538.6h2.8v2.45H833zM849.5 538.6h2.8v2.45H849.5zM833 541h2.8v2.45H833zM844 541h5.55v2.45H844zM835.75 543.4h8.3v2.45H835.75z"/>
<path fill="#fec200" d="M728.5 341.8h5.55v2.45H728.5zM728.5 344.2h8.3v2.45H728.5zM728.5 346.6h8.3v2.45H728.5zM690 375.4h2.8v2.45H690zM687.25 377.8h2.8v2.45H687.25zM692.75 377.8h2.8v2.45H692.75zM684.5 380.2h2.8v2.45H684.5zM695.5 380.2h2.8v2.45H695.5zM698.25 382.6h13.8v2.45H698.25zM679 385h5.55v2.45H679zM679 387.4h2.8v2.45H679zM679 389.8h5.55v2.45H679zM747.75 389.8h5.55v2.45H747.75zM684.5 392.2h2.8v2.45H684.5zM723 392.2h24.8v2.45H723zM753.25 392.2h2.8v2.45H753.25zM687.25 394.6h2.8v2.45H687.25zM753.25 394.6h2.8v2.45H753.25zM690 397h2.8v2.45H690zM753.25 397h2.8v2.45H753.25zM692.75 399.4h2.8v2.45H692.75zM698.25 401.8h2.8v2.45H698.25zM709.25 409h2.8v2.45H709.25zM712 411.4h2.8v2.45H712zM714.75 413.8h2.8v2.45H714.75zM717.5 416.2h2.8v2.45H717.5zM728.5 421h2.8v2.45H728.5zM739.5 423.4h2.8v2.45H739.5zM753.25 425.8h2.8v2.45H753.25zM747.75 428.2h5.55v2.45H747.75zM783.5 430.6h2.8v2.45H783.5zM791.75 430.6h2.8v2.45H791.75zM780.75 437.8h2.8v2.45H780.75zM800 437.8h2.8v2.45H800zM800 440.2h2.8v2.45H800zM800 449.8h2.8v2.45H800zM797.25 454.6h2.8v2.45H797.25zM794.5 457h2.8v2.45H794.5zM791.75 459.4h2.8v2.45H791.75zM838.5 473.8h2.8v2.45H838.5zM747.75 476.2h8.3v2.45H747.75zM835.75 476.2h5.55v2.45H835.75zM742.25 478.6h5.55v2.45H742.25zM833 478.6h8.3v2.45H833zM739.5 481h5.55v2.45H739.5zM758.75 481h2.8v2.45H758.75zM833 481h8.3v2.45H833zM739.5 483.4h8.3v2.45H739.5zM758.75 483.4h2.8v2.45H758.75zM833 483.4h5.55v2.45H833zM750.5 485.8h2.8v2.45H750.5zM758.75 485.8h2.8v2.45H758.75zM830.25 485.8h8.3v2.45H830.25zM830.25 488.2h8.3v2.45H830.25zM830.25 490.6h5.55v2.45H830.25zM866 509.8h2.8v2.45H866zM868.75 512.2h2.8v2.45H868.75zM838.5 531.4h11.05v2.45H838.5zM835.75 533.8h2.8v2.45H835.75zM835.75 536.2h2.8v2.45H835.75zM835.75 538.6h2.8v2.45H835.75zM846.75 538.6h2.8v2.45H846.75zM835.75 541h8.3v2.45H835.75z"/>
<path fill="#ffb400" d="M690 377.8h2.8v2.45H690zM687.25 380.2h8.3v2.45H687.25zM684.5 382.6h2.8v2.45H684.5zM695.5 382.6h2.8v2.45H695.5zM684.5 385h2.8v2.45H684.5zM712 385h2.8v2.45H712zM681.75 387.4h2.8v2.45H681.75zM714.75 387.4h2.8v2.45H714.75zM684.5 389.8h2.8v2.45H684.5zM717.5 389.8h2.8v2.45H717.5zM687.25 392.2h2.8v2.45H687.25zM720.25 392.2h2.8v2.45H720.25zM747.75 392.2h5.55v2.45H747.75zM690 394.6h2.8v2.45H690zM723 394.6h30.3v2.45H723zM695.5 399.4h2.8v2.45H695.5zM753.25 399.4h2.8v2.45H753.25zM753.25 401.8h2.8v2.45H753.25zM703.75 404.2h2.8v2.45H703.75zM753.25 404.2h2.8v2.45H753.25zM706.5 406.6h2.8v2.45H706.5zM714.75 411.4h2.8v2.45H714.75zM717.5 413.8h2.8v2.45H717.5zM720.25 416.2h2.8v2.45H720.25zM723 418.6h2.8v2.45H723zM731.25 421h2.8v2.45H731.25zM753.25 421h2.8v2.45H753.25zM753.25 423.4h2.8v2.45H753.25zM745 425.8h2.8v2.45H745zM750.5 425.8h2.8v2.45H750.5zM786.25 430.6h5.55v2.45H786.25zM797.25 435.4h2.8v2.45H797.25zM800 442.6h2.8v2.45H800zM800 445h2.8v2.45H800zM800 447.4h2.8v2.45H800zM780.75 454.6h2.8v2.45H780.75zM786.25 459.4h5.55v2.45H786.25zM747.75 478.6h11.05v2.45H747.75zM745 481h5.55v2.45H745zM756 481h2.8v2.45H756zM747.75 483.4h2.8v2.45H747.75zM756 483.4h2.8v2.45H756zM753.25 485.8h5.55v2.45H753.25zM868.75 500.2h7.3v2.45H868.75zM874.25 514.6h1.8v2.45H874.25zM838.5 533.8h11.05v2.45H838.5zM838.5 536.2h11.05v2.45H838.5zM838.5 538.6h8.3v2.45H838.5z"/>
<path fill="#fbaa00" d="M687.25 382.6h8.3v2.45H687.25zM687.25 385h24.8v2.45H687.25zM684.5 387.4h5.55v2.45H684.5zM712 387.4h2.8v2.45H712zM687.25 389.8h2.8v2.45H687.25zM690 392.2h2.8v2.45H690zM717.5 392.2h2.8v2.45H717.5zM720.25 394.6h2.8v2.45H720.25zM692.75 397h2.8v2.45H692.75zM723 397h30.3v2.45H723zM725.75 399.4h2.8v2.45H725.75zM750.5 399.4h2.8v2.45H750.5zM701 401.8h2.8v2.45H701zM709.25 406.6h2.8v2.45H709.25zM753.25 406.6h2.8v2.45H753.25zM712 409h13.8v2.45H712zM753.25 409h2.8v2.45H753.25zM717.5 411.4h5.55v2.45H717.5zM753.25 411.4h2.8v2.45H753.25zM720.25 413.8h2.8v2.45H720.25zM723 416.2h2.8v2.45H723zM753.25 416.2h2.8v2.45H753.25zM725.75 418.6h2.8v2.45H725.75zM753.25 418.6h2.8v2.45H753.25zM734 421h2.8v2.45H734zM742.25 423.4h2.8v2.45H742.25zM747.75 425.8h2.8v2.45H747.75zM783.5 433h2.8v2.45H783.5zM794.5 433h2.8v2.45H794.5zM780.75 440.2h2.8v2.45H780.75zM780.75 452.2h2.8v2.45H780.75zM797.25 452.2h2.8v2.45H797.25zM783.5 457h2.8v2.45H783.5zM750.5 481h5.55v2.45H750.5zM750.5 483.4h5.55v2.45H750.5zM866 502.6h2.8v2.45H866zM866 505h2.8v2.45H866zM866 507.4h2.8v2.45H866zM868.75 509.8h2.8v2.45H868.75zM871.5 512.2h2.8v2.45H871.5z"/>
<path fill="#f8a000" d="M690 387.4h16.55v2.45H690zM709.25 387.4h2.8v2.45H709.25zM690 389.8h8.3v2.45H690zM714.75 389.8h2.8v2.45H714.75zM692.75 392.2h2.8v2.45H692.75zM692.75 394.6h2.8v2.45H692.75zM717.5 394.6h2.8v2.45H717.5zM695.5 397h2.8v2.45H695.5zM720.25 397h2.8v2.45H720.25zM698.25 399.4h2.8v2.45H698.25zM720.25 399.4h5.55v2.45H720.25zM728.5 399.4h22.05v2.45H728.5zM720.25 401.8h13.8v2.45H720.25zM750.5 401.8h2.8v2.45H750.5zM706.5 404.2h2.8v2.45H706.5zM720.25 404.2h11.05v2.45H720.25zM712 406.6h16.55v2.45H712zM725.75 409h2.8v2.45H725.75zM723 411.4h2.8v2.45H723zM723 413.8h2.8v2.45H723zM753.25 413.8h2.8v2.45H753.25zM725.75 416.2h2.8v2.45H725.75zM728.5 418.6h2.8v2.45H728.5zM736.75 421h5.55v2.45H736.75zM745 423.4h8.3v2.45H745zM797.25 437.8h2.8v2.45H797.25zM780.75 442.6h2.8v2.45H780.75zM797.25 449.8h2.8v2.45H797.25zM794.5 454.6h2.8v2.45H794.5zM791.75 457h2.8v2.45H791.75zM868.75 502.6h2.8v2.45H868.75zM874.25 512.2h1.8v2.45H874.25z"/>
<path fill="#f49600" d="M706.5 387.4h2.8v2.45H706.5zM698.25 389.8h5.55v2.45H698.25zM712 389.8h2.8v2.45H712zM695.5 392.2h5.55v2.45H695.5zM714.75 392.2h2.8v2.45H714.75zM695.5 394.6h2.8v2.45H695.5zM698.25 397h2.8v2.45H698.25zM717.5 397h2.8v2.45H717.5zM701 399.4h2.8v2.45H701zM703.75 401.8h2.8v2.45H703.75zM717.5 401.8h2.8v2.45H717.5zM734 401.8h16.55v2.45H734zM709.25 404.2h2.8v2.45H709.25zM717.5 404.2h2.8v2.45H717.5zM731.25 404.2h2.8v2.45H731.25zM750.5 404.2h2.8v2.45H750.5zM728.5 406.6h2.8v2.45H728.5zM728.5 409h2.8v2.45H728.5zM725.75 411.4h2.8v2.45H725.75zM725.75 413.8h2.8v2.45H725.75zM731.25 418.6h2.8v2.45H731.25zM742.25 421h2.8v2.45H742.25zM750.5 421h2.8v2.45H750.5zM786.25 433h8.3v2.45H786.25zM783.5 435.4h2.8v2.45H783.5zM794.5 435.4h2.8v2.45H794.5zM797.25 440.2h2.8v2.45H797.25zM797.25 442.6h2.8v2.45H797.25zM780.75 445h2.8v2.45H780.75zM797.25 445h2.8v2.45H797.25zM780.75 447.4h2.8v2.45H780.75zM797.25 447.4h2.8v2.45H797.25zM780.75 449.8h2.8v2.45H780.75zM786.25 457h2.8v2.45H786.25zM871.5 502.6h4.55v2.45H871.5zM868.75 505h2.8v2.45H868.75zM868.75 507.4h2.8v2.45H868.75zM871.5 509.8h2.8v2.45H871.5z"/>
<path fill="#f08c00" d="M703.75 389.8h8.3v2.45H703.75zM701 392.2h2.8v2.45H701zM698.25 394.6h2.8v2.45H698.25zM714.75 394.6h2.8v2.45H714.75zM701 397h2.8v2.45H701zM703.75 399.4h2.8v2.45H703.75zM717.5 399.4h2.8v2.45H717.5zM706.5 401.8h2.8v2.45H706.5zM714.75 401.8h2.8v2.45H714.75zM712 404.2h5.55v2.45H712zM734 404.2h5.55v2.45H734zM747.75 404.2h2.8v2.45H747.75zM731.25 406.6h2.8v2.45H731.25zM750.5 406.6h2.8v2.45H750.5zM731.25 409h2.8v2.45H731.25zM728.5 411.4h2.8v2.45H728.5zM728.5 413.8h2.8v2.45H728.5zM728.5 416.2h2.8v2.45H728.5zM734 418.6h5.55v2.45H734zM750.5 418.6h2.8v2.45H750.5zM745 421h5.55v2.45H745zM783.5 437.8h2.8v2.45H783.5zM794.5 452.2h2.8v2.45H794.5zM783.5 454.6h2.8v2.45H783.5zM789 457h2.8v2.45H789zM871.5 505h4.55v2.45H871.5zM871.5 507.4h2.8v2.45H871.5zM874.25 509.8h1.8v2.45H874.25z"/>
<path fill="#eb8100" d="M703.75 392.2h11.05v2.45H703.75zM701 394.6h5.55v2.45H701zM712 394.6h2.8v2.45H712zM703.75 397h2.8v2.45H703.75zM714.75 397h2.8v2.45H714.75zM714.75 399.4h2.8v2.45H714.75zM709.25 401.8h5.55v2.45H709.25zM739.5 404.2h8.3v2.45H739.5zM734 406.6h2.8v2.45H734zM750.5 409h2.8v2.45H750.5zM731.25 411.4h2.8v2.45H731.25zM750.5 411.4h2.8v2.45H750.5zM731.25 413.8h2.8v2.45H731.25zM750.5 413.8h2.8v2.45H750.5zM731.25 416.2h2.8v2.45H731.25zM750.5 416.2h2.8v2.45H750.5zM739.5 418.6h11.05v2.45H739.5zM791.75 435.4h2.8v2.45H791.75zM794.5 437.8h2.8v2.45H794.5zM791.75 454.6h2.8v2.45H791.75zM874.25 507.4h1.8v2.45H874.25z"/>
<path fill="#e67600" d="M706.5 394.6h5.55v2.45H706.5zM706.5 397h8.3v2.45H706.5zM706.5 399.4h8.3v2.45H706.5zM736.75 406.6h5.55v2.45H736.75zM747.75 406.6h2.8v2.45H747.75zM734 409h2.8v2.45H734zM734 411.4h2.8v2.45H734zM734 413.8h2.8v2.45H734zM734 416.2h5.55v2.45H734zM747.75 416.2h2.8v2.45H747.75zM786.25 435.4h2.8v2.45H786.25zM783.5 440.2h2.8v2.45H783.5zM794.5 440.2h2.8v2.45H794.5zM794.5 449.8h2.8v2.45H794.5zM783.5 452.2h2.8v2.45H783.5zM786.25 454.6h5.55v2.45H786.25z"/>
<path fill="#e16a00" d="M742.25 406.6h5.55v2.45H742.25zM736.75 409h2.8v2.45H736.75zM747.75 409h2.8v2.45H747.75zM736.75 411.4h2.8v2.45H736.75zM747.75 411.4h2.8v2.45H747.75zM736.75 413.8h2.8v2.45H736.75zM747.75 413.8h2.8v2.45H747.75zM739.5 416.2h8.3v2.45H739.5zM789 435.4h2.8v2.45H789zM783.5 442.6h2.8v2.45H783.5zM794.5 442.6h2.8v2.45H794.5zM794.5 445h2.8v2.45H794.5zM794.5 447.4h2.8v2.45H794.5zM783.5 449.8h2.8v2.45H783.5zM791.75 452.2h2.8v2.45H791.75z"/>
<path fill="#dc5f00" d="M739.5 409h8.3v2.45H739.5zM739.5 411.4h8.3v2.45H739.5zM739.5 413.8h8.3v2.45H739.5zM786.25 437.8h2.8v2.45H786.25zM791.75 437.8h2.8v2.45H791.75zM783.5 445h2.8v2.45H783.5zM783.5 447.4h2.8v2.45H783.5zM786.25 452.2h2.8v2.45H786.25z"/>
<path fill="#d65200" d="M789 437.8h2.8v2.45H789zM791.75 440.2h2.8v2.45H791.75zM791.75 449.8h2.8v2.45H791.75zM789 452.2h2.8v2.45H789z"/>
<path fill="#d14600" d="M786.25 440.2h2.8v2.45H786.25zM791.75 442.6h2.8v2.45H791.75zM791.75 447.4h2.8v2.45H791.75zM786.25 449.8h2.8v2.45H786.25z"/>
<path fill="#cc3a00" d="M789 440.2h2.8v2.45H789zM786.25 442.6h2.8v2.45H786.25zM786.25 445h2.8v2.45H786.25zM791.75 445h2.8v2.45H791.75zM786.25 447.4h2.8v2.45H786.25zM789 449.8h2.8v2.45H789z"/>
<path fill="#c62d00" d="M789 442.6h2.8v2.45H789zM789 445h2.8v2.45H789zM789 447.4h2.8v2.45H789z"/>
</g>
<circle cx="778.5" cy="441.5" r="5" fill="#c8f500" stroke="#000" stroke-width="1" shape-rendering="crispEdges"/>
<path d="M769 444.5L768.3 447L767 450.5" stroke="#000" stroke-width="1.5" fill="none" shape-rendering="crispEdges"/>
<path d="M851 367.2L852 367.2L852 369L851.8 372L852 373L852 376L850.5 377L848.5 377L847 376L846 374.8L847 373.5L848 373L849 372L848 371L848 369.5L849 368.5L850.5 368.2Z" fill="#000"/>
<rect x="849.2" y="369" width="1.1" height="1.1" fill="#ffe4c4"/><rect x="849.2" y="373" width="1" height="1" fill="#ffe4c4"/><rect x="848.2" y="374" width="1" height="1" fill="#ffe4c4"/>
<g opacity="0.999">
<text x="59" y="18.8" text-anchor="start" style="font-size:14px" textLength="483.5" lengthAdjust="spacing">Argo profile: csiro 5906644_10 30-Jun-2021 54.27S 159.83E (NRT data)</text>
<text x="32" y="38.8" text-anchor="start" style="font-size:14px" textLength="614" lengthAdjust="spacing">Climatology: CARS2009. Satellite-adjusted climatology: synTS_20210630.nc (0.4d earlier)</text>
<text x="46.5" y="563" text-anchor="middle">0</text>
<text x="74.5" y="563" text-anchor="middle">2</text>
<text x="103.5" y="563" text-anchor="middle">4</text>
<text x="131.5" y="563" text-anchor="middle">6</text>
<text x="159.5" y="563" text-anchor="middle">8</text>
<text x="188.5" y="563" text-anchor="middle">10</text>
<text x="216.5" y="563" text-anchor="middle">12</text>
<text x="129.5" y="577.5" text-anchor="middle" textLength="120" lengthAdjust="spacing">temperature (deg C)</text>
<text x="27.3" y="58" text-anchor="end">0</text>
<text x="27.3" y="82" text-anchor="end">20</text>
<text x="27.3" y="107" text-anchor="end">40</text>
<text x="27.3" y="131" text-anchor="end">60</text>
<text x="27.3" y="156" text-anchor="end">80</text>
<text x="27.3" y="181" text-anchor="end">100</text>
<text x="27.3" y="205" text-anchor="end">120</text>
<text x="27.3" y="230" text-anchor="end">140</text>
<text x="27.3" y="255" text-anchor="end">160</text>
<text x="27.3" y="279" text-anchor="end">180</text>
<text x="27.3" y="304" text-anchor="end">200</text>
<text x="27.3" y="329" text-anchor="end">220</text>
<text x="27.3" y="353" text-anchor="end">240</text>
<text x="27.3" y="378" text-anchor="end">260</text>
<text x="27.3" y="403" text-anchor="end">280</text>
<text x="27.3" y="427" text-anchor="end">300</text>
<text x="27.3" y="452" text-anchor="end">320</text>
<text x="27.3" y="477" text-anchor="end">340</text>
<text x="27.3" y="501" text-anchor="end">360</text>
<text x="27.3" y="526" text-anchor="end">380</text>
<text x="27.3" y="551" text-anchor="end">400</text>
<text x="256.5" y="563" text-anchor="middle">33.8</text>
<text x="289.5" y="563" text-anchor="middle">34</text>
<text x="323.5" y="563" text-anchor="middle">34.2</text>
<text x="356.5" y="563" text-anchor="middle">34.4</text>
<text x="389.5" y="563" text-anchor="middle">34.6</text>
<text x="423.5" y="563" text-anchor="middle">34.8</text>
<text x="338.5" y="577.5" text-anchor="middle" textLength="41.8" lengthAdjust="spacing">salinity</text>
<text x="481.5" y="563" text-anchor="middle">-2</text>
<text x="514.5" y="563" text-anchor="middle">-1</text>
<text x="548.5" y="563" text-anchor="middle">0</text>
<text x="581.5" y="563" text-anchor="middle">1</text>
<text x="614.5" y="563" text-anchor="middle">2</text>
<text x="546.6" y="577.5" text-anchor="middle" textLength="174.3" lengthAdjust="spacing">T difference from climatology</text>
<text x="125" y="408" text-anchor="start" textLength="67" lengthAdjust="spacing">climatology</text>
<text x="125" y="423.5" text-anchor="start" textLength="105" lengthAdjust="spacing">satellite-adj. clim.</text>
<text x="125" y="440" text-anchor="start" textLength="26.5" lengthAdjust="spacing">Argo</text>
<text x="335" y="408" text-anchor="start" textLength="66.5" lengthAdjust="spacing">climatology</text>
<text x="335" y="423.5" text-anchor="start" textLength="104.5" lengthAdjust="spacing">satellite-adj. clim.</text>
<text x="335" y="440" text-anchor="start" textLength="26.5" lengthAdjust="spacing">Argo</text>
<text x="468.7" y="408" text-anchor="start" textLength="71.3" lengthAdjust="spacing">temperature</text>
<text x="468" y="423.5" text-anchor="start" textLength="46.5" lengthAdjust="spacing">satellite</text>
<text x="468" y="440" text-anchor="start" textLength="26" lengthAdjust="spacing">Argo</text>
<text x="593.7" y="408" text-anchor="start" textLength="41.8" lengthAdjust="spacing">salinity</text>
<text x="593.7" y="423.5" text-anchor="start" textLength="46.3" lengthAdjust="spacing">satellite</text>
<text x="593.7" y="440" text-anchor="start" textLength="26.3" lengthAdjust="spacing">Argo</text>
<text x="460" y="523" text-anchor="start" textLength="174.5" lengthAdjust="spacing">S difference from climatology</text>
<text x="480" y="538" text-anchor="middle">-0.5</text>
<text x="513.7" y="538" text-anchor="middle">-0.25</text>
<text x="547" y="538" text-anchor="middle">0</text>
<text x="580" y="538" text-anchor="middle">0.25</text>
<text x="613" y="538" text-anchor="middle">0.5</text>
<text x="724.5" y="286" text-anchor="middle">155</text>
<text x="780.5" y="286" text-anchor="middle">160</text>
<text x="836.5" y="286" text-anchor="middle">165</text>
<text x="673.5" y="73.7" text-anchor="end" textLength="18.5" lengthAdjust="spacing">-50</text>
<text x="673.5" y="112.7" text-anchor="end" textLength="18.5" lengthAdjust="spacing">-52</text>
<text x="673.5" y="150.7" text-anchor="end" textLength="18.5" lengthAdjust="spacing">-54</text>
<text x="673.5" y="189.7" text-anchor="end" textLength="18.5" lengthAdjust="spacing">-56</text>
<text x="673.5" y="227.7" text-anchor="end" textLength="18.5" lengthAdjust="spacing">-58</text>
<text x="673.5" y="266.7" text-anchor="end" textLength="18.5" lengthAdjust="spacing">-60</text>
<text x="724.5" y="576" text-anchor="middle">155</text>
<text x="780.5" y="576" text-anchor="middle">160</text>
<text x="836.5" y="576" text-anchor="middle">165</text>
<text x="673.5" y="363.7" text-anchor="end" textLength="18.5" lengthAdjust="spacing">-50</text>
<text x="673.5" y="402.7" text-anchor="end" textLength="18.5" lengthAdjust="spacing">-52</text>
<text x="673.5" y="440.7" text-anchor="end" textLength="18.5" lengthAdjust="spacing">-54</text>
<text x="673.5" y="479.7" text-anchor="end" textLength="18.5" lengthAdjust="spacing">-56</text>
<text x="673.5" y="518.7" text-anchor="end" textLength="18.5" lengthAdjust="spacing">-58</text>
<text x="673.5" y="556.7" text-anchor="end" textLength="18.5" lengthAdjust="spacing">-60</text>
<text x="704.7" y="23" text-anchor="start" textLength="142.3" lengthAdjust="spacing">sat. SST: 5.6 Argo: 5.47</text>
<text x="705" y="296.7" text-anchor="start" textLength="92.4" lengthAdjust="spacing">Altim. SLA: 0.11</text>
<text x="691" y="313" text-anchor="start" textLength="168.7" lengthAdjust="spacing">Argo h1000: 0.11 h2000: 0.11</text>
<text x="0" y="0" transform="translate(889.5 537.5) rotate(-90)" style="font-weight:normal" stroke="#000" stroke-width="0.15" textLength="157.5" lengthAdjust="spacing">©IMOS 05-Jul-2021 11:40:55</text>
</g>
</svg></body></html>
